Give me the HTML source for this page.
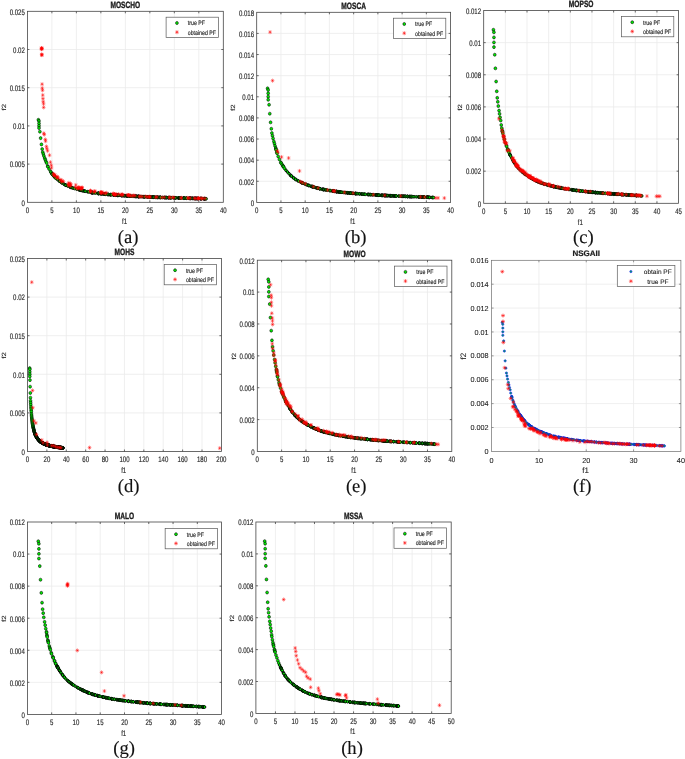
<!DOCTYPE html>
<html lang="en"><head><meta charset="utf-8"><title>Pareto fronts</title>
<style>html,body{margin:0;padding:0;background:#fff}svg{display:block;will-change:transform}text{text-rendering:geometricPrecision}.ss{font-family:"Liberation Sans",Arial,Helvetica,sans-serif}.sf{font-family:"Liberation Serif","Times New Roman",serif}</style></head><body>
<svg width="685" height="759" viewBox="0 0 685 759">
<defs><path id="s1" d="M-1.85 0H1.85M0 -2.05V2.05M-1.3 -1.45L1.3 1.45M-1.3 1.45L1.3 -1.45"/><path id="s2" d="M-2 0H2M0 -2V2M-1.4 -1.4L1.4 1.4M-1.4 1.4L1.4 -1.4"/></defs>
<rect width="685" height="759" fill="#fff"/>
<g>
<rect x="27.4" y="11.3" width="195.9" height="191" fill="#fff"/>
<path d="M51.89 11.3V202.3M76.38 11.3V202.3M100.86 11.3V202.3M125.35 11.3V202.3M149.84 11.3V202.3M174.33 11.3V202.3M198.81 11.3V202.3M27.4 164.1H223.3M27.4 125.9H223.3M27.4 87.7H223.3M27.4 49.5H223.3" stroke="#ebebeb" stroke-width="0.8" fill="none"/>
<g fill="#00ee00" stroke="#000" stroke-width="0.55">
<ellipse cx="38.39" cy="119.8" rx="1.4" ry="1.52"/>
<ellipse cx="38.96" cy="120.99" rx="1.4" ry="1.52"/>
<ellipse cx="39.01" cy="123.42" rx="1.4" ry="1.52"/>
<ellipse cx="39.01" cy="125.79" rx="1.4" ry="1.52"/>
<ellipse cx="39.01" cy="128.03" rx="1.4" ry="1.52"/>
<ellipse cx="39.89" cy="131.65" rx="1.4" ry="1.52"/>
<ellipse cx="40.62" cy="138.12" rx="1.4" ry="1.52"/>
<ellipse cx="41.43" cy="144.39" rx="1.4" ry="1.52"/>
<ellipse cx="42.16" cy="149.05" rx="1.4" ry="1.52"/>
<ellipse cx="42.74" cy="152.16" rx="1.4" ry="1.52"/>
<ellipse cx="43.34" cy="154.05" rx="1.4" ry="1.52"/>
<ellipse cx="43.92" cy="156.05" rx="1.4" ry="1.52"/>
<ellipse cx="44.75" cy="158.22" rx="1.4" ry="1.52"/>
<ellipse cx="45.33" cy="159.77" rx="1.4" ry="1.52"/>
<ellipse cx="45.93" cy="161.43" rx="1.4" ry="1.52"/>
<ellipse cx="46.64" cy="162.94" rx="1.4" ry="1.52"/>
<ellipse cx="47.67" cy="166.12" rx="1.4" ry="1.52"/>
<ellipse cx="47.97" cy="166.8" rx="1.4" ry="1.52"/>
<ellipse cx="49.07" cy="169.01" rx="1.4" ry="1.52"/>
<ellipse cx="50.67" cy="171.7" rx="1.4" ry="1.52"/>
<ellipse cx="50.93" cy="172.12" rx="1.4" ry="1.52"/>
<ellipse cx="51.96" cy="173.68" rx="1.4" ry="1.52"/>
<ellipse cx="52.24" cy="174.01" rx="1.4" ry="1.52"/>
<ellipse cx="52.37" cy="174.15" rx="1.4" ry="1.52"/>
<ellipse cx="52.67" cy="174.48" rx="1.4" ry="1.52"/>
<ellipse cx="53.64" cy="175.5" rx="1.4" ry="1.52"/>
<ellipse cx="53.76" cy="175.65" rx="1.4" ry="1.52"/>
<ellipse cx="54.51" cy="176.54" rx="1.4" ry="1.52"/>
<ellipse cx="54.82" cy="176.88" rx="1.4" ry="1.52"/>
<ellipse cx="54.95" cy="177.03" rx="1.4" ry="1.52"/>
<ellipse cx="55.34" cy="177.48" rx="1.4" ry="1.52"/>
<ellipse cx="55.68" cy="177.85" rx="1.4" ry="1.52"/>
<ellipse cx="56.11" cy="178.31" rx="1.4" ry="1.52"/>
</g><g fill="#00f000" stroke="#000" stroke-width="0.85">
<ellipse cx="57.6" cy="179.61" rx="1.25" ry="1.37"/>
<ellipse cx="59.37" cy="181.01" rx="1.25" ry="1.37"/>
<ellipse cx="59.56" cy="181.16" rx="1.25" ry="1.37"/>
<ellipse cx="61.41" cy="182.54" rx="1.25" ry="1.37"/>
<ellipse cx="62.07" cy="182.99" rx="1.25" ry="1.37"/>
<ellipse cx="64.03" cy="184.21" rx="1.25" ry="1.37"/>
<ellipse cx="65.22" cy="184.88" rx="1.25" ry="1.37"/>
<ellipse cx="65.74" cy="185.16" rx="1.25" ry="1.37"/>
<ellipse cx="65.94" cy="185.27" rx="1.25" ry="1.37"/>
<ellipse cx="67.8" cy="186.11" rx="1.25" ry="1.37"/>
<ellipse cx="69.93" cy="186.96" rx="1.25" ry="1.37"/>
<ellipse cx="70.62" cy="187.22" rx="1.25" ry="1.37"/>
<ellipse cx="70.74" cy="187.26" rx="1.25" ry="1.37"/>
<ellipse cx="71.95" cy="187.69" rx="1.25" ry="1.37"/>
<ellipse cx="72.97" cy="188.03" rx="1.25" ry="1.37"/>
<ellipse cx="74.45" cy="188.5" rx="1.25" ry="1.37"/>
<ellipse cx="76.66" cy="189.15" rx="1.25" ry="1.37"/>
<ellipse cx="78.87" cy="189.76" rx="1.25" ry="1.37"/>
<ellipse cx="79.81" cy="190" rx="1.25" ry="1.37"/>
<ellipse cx="80.16" cy="190.08" rx="1.25" ry="1.37"/>
<ellipse cx="80.69" cy="190.21" rx="1.25" ry="1.37"/>
<ellipse cx="81.18" cy="190.33" rx="1.25" ry="1.37"/>
<ellipse cx="82.18" cy="190.57" rx="1.25" ry="1.37"/>
<ellipse cx="82.87" cy="190.73" rx="1.25" ry="1.37"/>
<ellipse cx="84.09" cy="191" rx="1.25" ry="1.37"/>
<ellipse cx="84.6" cy="191.11" rx="1.25" ry="1.37"/>
<ellipse cx="85.22" cy="191.25" rx="1.25" ry="1.37"/>
<ellipse cx="87.48" cy="191.71" rx="1.25" ry="1.37"/>
<ellipse cx="88.58" cy="191.93" rx="1.25" ry="1.37"/>
<ellipse cx="90.45" cy="192.27" rx="1.25" ry="1.37"/>
<ellipse cx="91.29" cy="192.42" rx="1.25" ry="1.37"/>
<ellipse cx="91.41" cy="192.44" rx="1.25" ry="1.37"/>
<ellipse cx="91.79" cy="192.51" rx="1.25" ry="1.37"/>
<ellipse cx="92.03" cy="192.55" rx="1.25" ry="1.37"/>
<ellipse cx="92.24" cy="192.58" rx="1.25" ry="1.37"/>
<ellipse cx="92.36" cy="192.6" rx="1.25" ry="1.37"/>
<ellipse cx="92.48" cy="192.62" rx="1.25" ry="1.37"/>
<ellipse cx="92.94" cy="192.68" rx="1.25" ry="1.37"/>
<ellipse cx="94.01" cy="192.83" rx="1.25" ry="1.37"/>
<ellipse cx="95.42" cy="193.02" rx="1.25" ry="1.37"/>
<ellipse cx="97.71" cy="193.32" rx="1.25" ry="1.37"/>
<ellipse cx="98.32" cy="193.39" rx="1.25" ry="1.37"/>
<ellipse cx="98.44" cy="193.41" rx="1.25" ry="1.37"/>
<ellipse cx="98.59" cy="193.43" rx="1.25" ry="1.37"/>
<ellipse cx="98.71" cy="193.44" rx="1.25" ry="1.37"/>
<ellipse cx="100.12" cy="193.61" rx="1.25" ry="1.37"/>
<ellipse cx="100.39" cy="193.64" rx="1.25" ry="1.37"/>
<ellipse cx="101.29" cy="193.74" rx="1.25" ry="1.37"/>
<ellipse cx="101.71" cy="193.79" rx="1.25" ry="1.37"/>
<ellipse cx="102.33" cy="193.86" rx="1.25" ry="1.37"/>
<ellipse cx="103.66" cy="194.01" rx="1.25" ry="1.37"/>
<ellipse cx="104.41" cy="194.09" rx="1.25" ry="1.37"/>
<ellipse cx="104.53" cy="194.11" rx="1.25" ry="1.37"/>
<ellipse cx="105.24" cy="194.18" rx="1.25" ry="1.37"/>
<ellipse cx="105.55" cy="194.21" rx="1.25" ry="1.37"/>
<ellipse cx="107.83" cy="194.45" rx="1.25" ry="1.37"/>
<ellipse cx="108.05" cy="194.47" rx="1.25" ry="1.37"/>
<ellipse cx="108.25" cy="194.49" rx="1.25" ry="1.37"/>
<ellipse cx="110.04" cy="194.66" rx="1.25" ry="1.37"/>
<ellipse cx="110.41" cy="194.69" rx="1.25" ry="1.37"/>
<ellipse cx="110.53" cy="194.7" rx="1.25" ry="1.37"/>
<ellipse cx="111.64" cy="194.8" rx="1.25" ry="1.37"/>
<ellipse cx="113.4" cy="194.96" rx="1.25" ry="1.37"/>
<ellipse cx="113.88" cy="194.99" rx="1.25" ry="1.37"/>
<ellipse cx="114.01" cy="195" rx="1.25" ry="1.37"/>
<ellipse cx="115.41" cy="195.11" rx="1.25" ry="1.37"/>
<ellipse cx="115.7" cy="195.13" rx="1.25" ry="1.37"/>
<ellipse cx="115.9" cy="195.15" rx="1.25" ry="1.37"/>
<ellipse cx="116.02" cy="195.16" rx="1.25" ry="1.37"/>
<ellipse cx="117.51" cy="195.26" rx="1.25" ry="1.37"/>
<ellipse cx="117.7" cy="195.28" rx="1.25" ry="1.37"/>
<ellipse cx="117.82" cy="195.28" rx="1.25" ry="1.37"/>
<ellipse cx="118.14" cy="195.31" rx="1.25" ry="1.37"/>
<ellipse cx="118.98" cy="195.37" rx="1.25" ry="1.37"/>
<ellipse cx="121.27" cy="195.52" rx="1.25" ry="1.37"/>
<ellipse cx="121.44" cy="195.53" rx="1.25" ry="1.37"/>
<ellipse cx="122.11" cy="195.57" rx="1.25" ry="1.37"/>
<ellipse cx="122.33" cy="195.59" rx="1.25" ry="1.37"/>
<ellipse cx="123.72" cy="195.68" rx="1.25" ry="1.37"/>
<ellipse cx="124.19" cy="195.71" rx="1.25" ry="1.37"/>
<ellipse cx="124.99" cy="195.76" rx="1.25" ry="1.37"/>
<ellipse cx="126.27" cy="195.83" rx="1.25" ry="1.37"/>
<ellipse cx="126.8" cy="195.87" rx="1.25" ry="1.37"/>
<ellipse cx="127.25" cy="195.89" rx="1.25" ry="1.37"/>
<ellipse cx="127.37" cy="195.9" rx="1.25" ry="1.37"/>
<ellipse cx="127.49" cy="195.91" rx="1.25" ry="1.37"/>
<ellipse cx="128.32" cy="195.96" rx="1.25" ry="1.37"/>
<ellipse cx="129.32" cy="196.01" rx="1.25" ry="1.37"/>
<ellipse cx="129.92" cy="196.05" rx="1.25" ry="1.37"/>
<ellipse cx="130.04" cy="196.05" rx="1.25" ry="1.37"/>
<ellipse cx="131.01" cy="196.11" rx="1.25" ry="1.37"/>
<ellipse cx="132.33" cy="196.18" rx="1.25" ry="1.37"/>
<ellipse cx="133.69" cy="196.25" rx="1.25" ry="1.37"/>
<ellipse cx="134.66" cy="196.31" rx="1.25" ry="1.37"/>
<ellipse cx="135.42" cy="196.34" rx="1.25" ry="1.37"/>
<ellipse cx="135.72" cy="196.36" rx="1.25" ry="1.37"/>
<ellipse cx="136.03" cy="196.38" rx="1.25" ry="1.37"/>
<ellipse cx="136.18" cy="196.38" rx="1.25" ry="1.37"/>
<ellipse cx="136.9" cy="196.42" rx="1.25" ry="1.37"/>
<ellipse cx="137.19" cy="196.43" rx="1.25" ry="1.37"/>
<ellipse cx="138.35" cy="196.49" rx="1.25" ry="1.37"/>
<ellipse cx="138.54" cy="196.5" rx="1.25" ry="1.37"/>
<ellipse cx="138.75" cy="196.51" rx="1.25" ry="1.37"/>
<ellipse cx="138.87" cy="196.52" rx="1.25" ry="1.37"/>
<ellipse cx="139.1" cy="196.53" rx="1.25" ry="1.37"/>
<ellipse cx="140.16" cy="196.58" rx="1.25" ry="1.37"/>
<ellipse cx="141.38" cy="196.64" rx="1.25" ry="1.37"/>
<ellipse cx="143.12" cy="196.72" rx="1.25" ry="1.37"/>
<ellipse cx="143.24" cy="196.73" rx="1.25" ry="1.37"/>
<ellipse cx="144.05" cy="196.77" rx="1.25" ry="1.37"/>
<ellipse cx="144.63" cy="196.79" rx="1.25" ry="1.37"/>
<ellipse cx="144.93" cy="196.81" rx="1.25" ry="1.37"/>
<ellipse cx="146.9" cy="196.9" rx="1.25" ry="1.37"/>
<ellipse cx="147.7" cy="196.94" rx="1.25" ry="1.37"/>
<ellipse cx="147.96" cy="196.95" rx="1.25" ry="1.37"/>
<ellipse cx="149.21" cy="197" rx="1.25" ry="1.37"/>
<ellipse cx="149.62" cy="197.02" rx="1.25" ry="1.37"/>
<ellipse cx="150.06" cy="197.04" rx="1.25" ry="1.37"/>
<ellipse cx="150.52" cy="197.06" rx="1.25" ry="1.37"/>
<ellipse cx="150.97" cy="197.08" rx="1.25" ry="1.37"/>
<ellipse cx="151.09" cy="197.08" rx="1.25" ry="1.37"/>
<ellipse cx="152.29" cy="197.13" rx="1.25" ry="1.37"/>
<ellipse cx="152.54" cy="197.14" rx="1.25" ry="1.37"/>
<ellipse cx="152.96" cy="197.15" rx="1.25" ry="1.37"/>
<ellipse cx="153.09" cy="197.16" rx="1.25" ry="1.37"/>
<ellipse cx="153.68" cy="197.18" rx="1.25" ry="1.37"/>
<ellipse cx="153.8" cy="197.18" rx="1.25" ry="1.37"/>
<ellipse cx="153.92" cy="197.19" rx="1.25" ry="1.37"/>
<ellipse cx="154.09" cy="197.19" rx="1.25" ry="1.37"/>
<ellipse cx="155.56" cy="197.25" rx="1.25" ry="1.37"/>
<ellipse cx="156.37" cy="197.28" rx="1.25" ry="1.37"/>
<ellipse cx="157.26" cy="197.31" rx="1.25" ry="1.37"/>
<ellipse cx="157.38" cy="197.31" rx="1.25" ry="1.37"/>
<ellipse cx="157.8" cy="197.32" rx="1.25" ry="1.37"/>
<ellipse cx="158.74" cy="197.36" rx="1.25" ry="1.37"/>
<ellipse cx="159.69" cy="197.39" rx="1.25" ry="1.37"/>
<ellipse cx="160.11" cy="197.4" rx="1.25" ry="1.37"/>
<ellipse cx="160.23" cy="197.41" rx="1.25" ry="1.37"/>
<ellipse cx="160.56" cy="197.42" rx="1.25" ry="1.37"/>
<ellipse cx="162.64" cy="197.48" rx="1.25" ry="1.37"/>
<ellipse cx="164.18" cy="197.53" rx="1.25" ry="1.37"/>
<ellipse cx="164.85" cy="197.55" rx="1.25" ry="1.37"/>
<ellipse cx="165.15" cy="197.56" rx="1.25" ry="1.37"/>
<ellipse cx="165.8" cy="197.58" rx="1.25" ry="1.37"/>
<ellipse cx="166.4" cy="197.6" rx="1.25" ry="1.37"/>
<ellipse cx="166.83" cy="197.62" rx="1.25" ry="1.37"/>
<ellipse cx="168.17" cy="197.66" rx="1.25" ry="1.37"/>
<ellipse cx="168.75" cy="197.67" rx="1.25" ry="1.37"/>
<ellipse cx="168.87" cy="197.68" rx="1.25" ry="1.37"/>
<ellipse cx="169.79" cy="197.7" rx="1.25" ry="1.37"/>
<ellipse cx="170.63" cy="197.73" rx="1.25" ry="1.37"/>
<ellipse cx="170.75" cy="197.73" rx="1.25" ry="1.37"/>
<ellipse cx="171.27" cy="197.75" rx="1.25" ry="1.37"/>
<ellipse cx="173.57" cy="197.81" rx="1.25" ry="1.37"/>
<ellipse cx="174.3" cy="197.83" rx="1.25" ry="1.37"/>
<ellipse cx="175.09" cy="197.86" rx="1.25" ry="1.37"/>
<ellipse cx="175.54" cy="197.87" rx="1.25" ry="1.37"/>
<ellipse cx="175.93" cy="197.88" rx="1.25" ry="1.37"/>
<ellipse cx="178.23" cy="197.96" rx="1.25" ry="1.37"/>
<ellipse cx="178.46" cy="197.97" rx="1.25" ry="1.37"/>
<ellipse cx="178.9" cy="197.98" rx="1.25" ry="1.37"/>
<ellipse cx="179.02" cy="197.99" rx="1.25" ry="1.37"/>
<ellipse cx="179.52" cy="198" rx="1.25" ry="1.37"/>
<ellipse cx="180.28" cy="198.03" rx="1.25" ry="1.37"/>
<ellipse cx="181.1" cy="198.05" rx="1.25" ry="1.37"/>
<ellipse cx="183.4" cy="198.12" rx="1.25" ry="1.37"/>
<ellipse cx="183.62" cy="198.13" rx="1.25" ry="1.37"/>
<ellipse cx="183.78" cy="198.13" rx="1.25" ry="1.37"/>
<ellipse cx="184.09" cy="198.14" rx="1.25" ry="1.37"/>
<ellipse cx="184.37" cy="198.15" rx="1.25" ry="1.37"/>
<ellipse cx="186.08" cy="198.2" rx="1.25" ry="1.37"/>
<ellipse cx="186.25" cy="198.21" rx="1.25" ry="1.37"/>
<ellipse cx="186.69" cy="198.22" rx="1.25" ry="1.37"/>
<ellipse cx="188.99" cy="198.28" rx="1.25" ry="1.37"/>
<ellipse cx="189.36" cy="198.29" rx="1.25" ry="1.37"/>
<ellipse cx="189.79" cy="198.31" rx="1.25" ry="1.37"/>
<ellipse cx="190.17" cy="198.32" rx="1.25" ry="1.37"/>
<ellipse cx="190.44" cy="198.32" rx="1.25" ry="1.37"/>
<ellipse cx="190.71" cy="198.33" rx="1.25" ry="1.37"/>
<ellipse cx="191.98" cy="198.37" rx="1.25" ry="1.37"/>
<ellipse cx="192.1" cy="198.37" rx="1.25" ry="1.37"/>
<ellipse cx="192.22" cy="198.37" rx="1.25" ry="1.37"/>
<ellipse cx="193.37" cy="198.4" rx="1.25" ry="1.37"/>
<ellipse cx="194.27" cy="198.43" rx="1.25" ry="1.37"/>
<ellipse cx="194.66" cy="198.44" rx="1.25" ry="1.37"/>
<ellipse cx="195.12" cy="198.45" rx="1.25" ry="1.37"/>
<ellipse cx="195.57" cy="198.46" rx="1.25" ry="1.37"/>
<ellipse cx="195.78" cy="198.46" rx="1.25" ry="1.37"/>
<ellipse cx="196.17" cy="198.48" rx="1.25" ry="1.37"/>
<ellipse cx="196.48" cy="198.48" rx="1.25" ry="1.37"/>
<ellipse cx="197.11" cy="198.5" rx="1.25" ry="1.37"/>
<ellipse cx="197.4" cy="198.51" rx="1.25" ry="1.37"/>
<ellipse cx="198.02" cy="198.52" rx="1.25" ry="1.37"/>
<ellipse cx="198.14" cy="198.52" rx="1.25" ry="1.37"/>
<ellipse cx="200.44" cy="198.6" rx="1.25" ry="1.37"/>
<ellipse cx="200.56" cy="198.6" rx="1.25" ry="1.37"/>
<ellipse cx="201" cy="198.62" rx="1.25" ry="1.37"/>
<ellipse cx="201.33" cy="198.63" rx="1.25" ry="1.37"/>
<ellipse cx="201.45" cy="198.63" rx="1.25" ry="1.37"/>
<ellipse cx="203.75" cy="198.71" rx="1.25" ry="1.37"/>
<ellipse cx="204.17" cy="198.73" rx="1.25" ry="1.37"/>
<ellipse cx="204.31" cy="198.73" rx="1.25" ry="1.37"/>
<ellipse cx="204.59" cy="198.74" rx="1.25" ry="1.37"/>
<ellipse cx="204.74" cy="198.75" rx="1.25" ry="1.37"/>
<ellipse cx="205.29" cy="198.76" rx="1.25" ry="1.37"/>
<ellipse cx="206.16" cy="198.79" rx="1.25" ry="1.37"/>
</g>
<g stroke="#ff0000" stroke-width="0.45" fill="none">
<use href="#s1" x="41.5" y="48.12"/>
<use href="#s1" x="41.75" y="48.58"/>
<use href="#s1" x="41.6" y="49.19"/>
<use href="#s1" x="41.85" y="48.28"/>
<use href="#s1" x="41.65" y="48.74"/>
<use href="#s1" x="41.7" y="54.39"/>
<use href="#s1" x="41.9" y="54.85"/>
<use href="#s1" x="41.8" y="55.08"/>
<use href="#s1" x="42.09" y="84.19"/>
<use href="#s1" x="42.24" y="88.16"/>
<use href="#s1" x="42.53" y="90.3"/>
<use href="#s1" x="42.78" y="95.11"/>
<use href="#s1" x="42.97" y="98.63"/>
<use href="#s1" x="43.22" y="101.68"/>
<use href="#s1" x="43.56" y="103.9"/>
<use href="#s1" x="43.66" y="107.41"/>
<use href="#s1" x="43.83" y="133.31"/>
<use href="#s1" x="44.27" y="134.61"/>
<use href="#s1" x="45.32" y="139.45"/>
<use href="#s1" x="45.57" y="141.18"/>
<use href="#s1" x="46.45" y="146.45"/>
<use href="#s1" x="46.89" y="148.67"/>
<use href="#s1" x="47.58" y="150.84"/>
<use href="#s1" x="49.54" y="155.2"/>
<use href="#s1" x="50.42" y="162.19"/>
<use href="#s1" x="51.3" y="165.3"/>
<use href="#s1" x="51.54" y="167.92"/>
<use href="#s1" x="53.45" y="174.5"/>
<use href="#s1" x="54.34" y="175.8"/>
<use href="#s1" x="57.86" y="177.55"/>
<use href="#s1" x="60.02" y="179.74"/>
<use href="#s1" x="62.17" y="181.06"/>
<use href="#s1" x="68.78" y="182.8"/>
<use href="#s1" x="70.5" y="183.7"/>
<use href="#s1" x="75.79" y="185"/>
<use href="#s1" x="54.64" y="175.02"/>
<use href="#s1" x="56.49" y="177.3"/>
<use href="#s1" x="54.86" y="175.23"/>
<use href="#s1" x="53.59" y="173.81"/>
<use href="#s1" x="61.1" y="179.94"/>
<use href="#s1" x="57.43" y="177.86"/>
<use href="#s1" x="57.41" y="176.68"/>
<use href="#s1" x="61.54" y="181.76"/>
<use href="#s1" x="63.52" y="181.4"/>
<use href="#s1" x="70.93" y="184.96"/>
<use href="#s1" x="68.74" y="185.51"/>
<use href="#s1" x="70.38" y="186.07"/>
<use href="#s1" x="68.89" y="185"/>
<use href="#s1" x="68.18" y="184.12"/>
<use href="#s1" x="69.99" y="184"/>
<use href="#s1" x="78.95" y="187.42"/>
<use href="#s1" x="78.82" y="187.32"/>
<use href="#s1" x="78.53" y="188.2"/>
<use href="#s1" x="82.24" y="187.55"/>
<use href="#s1" x="81.16" y="187.92"/>
<use href="#s1" x="77.56" y="188.03"/>
<use href="#s1" x="77.38" y="188.39"/>
<use href="#s1" x="80.65" y="188.51"/>
<use href="#s1" x="81.2" y="188.7"/>
<use href="#s1" x="81.96" y="187.82"/>
<use href="#s1" x="75.4" y="187.4"/>
<use href="#s1" x="81.64" y="188.62"/>
<use href="#s1" x="94.89" y="191.74"/>
<use href="#s1" x="90.45" y="190.51"/>
<use href="#s1" x="93.9" y="191.83"/>
<use href="#s1" x="90.51" y="191.12"/>
<use href="#s1" x="94.81" y="191.05"/>
<use href="#s1" x="90.67" y="191.32"/>
<use href="#s1" x="90.58" y="191.68"/>
<use href="#s1" x="105.35" y="193.54"/>
<use href="#s1" x="103.72" y="192.97"/>
<use href="#s1" x="101.19" y="192.24"/>
<use href="#s1" x="100.78" y="192.31"/>
<use href="#s1" x="100.68" y="192.63"/>
<use href="#s1" x="101.34" y="192.93"/>
<use href="#s1" x="106.54" y="192.83"/>
<use href="#s1" x="101.97" y="192.12"/>
<use href="#s1" x="101.33" y="192.75"/>
<use href="#s1" x="121.75" y="194.59"/>
<use href="#s1" x="113.26" y="193.49"/>
<use href="#s1" x="114.53" y="194.45"/>
<use href="#s1" x="120.83" y="194.86"/>
<use href="#s1" x="115.46" y="194.74"/>
<use href="#s1" x="113.14" y="193.96"/>
<use href="#s1" x="114.86" y="194.08"/>
<use href="#s1" x="116.31" y="194.38"/>
<use href="#s1" x="122.93" y="194.84"/>
<use href="#s1" x="118.6" y="194.1"/>
<use href="#s1" x="114.19" y="194.55"/>
<use href="#s1" x="122.36" y="194.44"/>
<use href="#s1" x="114.94" y="194.57"/>
<use href="#s1" x="133.7" y="195.4"/>
<use href="#s1" x="128.65" y="195.07"/>
<use href="#s1" x="135.03" y="195.74"/>
<use href="#s1" x="130.74" y="195.89"/>
<use href="#s1" x="127.18" y="194.96"/>
<use href="#s1" x="129.04" y="195.29"/>
<use href="#s1" x="129.21" y="195.21"/>
<use href="#s1" x="132.37" y="195.83"/>
<use href="#s1" x="128.45" y="195.24"/>
<use href="#s1" x="140.31" y="196.54"/>
<use href="#s1" x="149.2" y="196.57"/>
<use href="#s1" x="150.19" y="196.97"/>
<use href="#s1" x="155.69" y="197.23"/>
<use href="#s1" x="139.36" y="196.47"/>
<use href="#s1" x="147.14" y="196.98"/>
<use href="#s1" x="142.26" y="196.54"/>
<use href="#s1" x="149.43" y="197.03"/>
<use href="#s1" x="145.63" y="196.37"/>
<use href="#s1" x="156.83" y="197"/>
<use href="#s1" x="164.15" y="197.35"/>
<use href="#s1" x="161.72" y="197.54"/>
<use href="#s1" x="169.54" y="197.37"/>
<use href="#s1" x="173.89" y="197.48"/>
<use href="#s1" x="169.56" y="197.5"/>
<use href="#s1" x="172.5" y="197.54"/>
<use href="#s1" x="187.5" y="197.92"/>
<use href="#s1" x="181.18" y="197.93"/>
<use href="#s1" x="198.35" y="198.27"/>
<use href="#s1" x="198.35" y="198.35"/>
<use href="#s1" x="199.81" y="198.31"/>
<use href="#s1" x="188.35" y="198.08"/>
<use href="#s1" x="202.61" y="198.44"/>
<use href="#s1" x="190.05" y="198.09"/>
<use href="#s1" x="201.64" y="198.52"/>
<use href="#s1" x="195.44" y="198.41"/>
<use href="#s1" x="194.35" y="198.28"/>
<use href="#s1" x="181.3" y="197.89"/>
<use href="#s1" x="205.01" y="198.52"/>
<use href="#s1" x="198.12" y="198.48"/>
<use href="#s1" x="198.3" y="198.4"/>
</g>
<path d="M51.89 202.3v-2M51.89 11.3v2M76.38 202.3v-2M76.38 11.3v2M100.86 202.3v-2M100.86 11.3v2M125.35 202.3v-2M125.35 11.3v2M149.84 202.3v-2M149.84 11.3v2M174.33 202.3v-2M174.33 11.3v2M198.81 202.3v-2M198.81 11.3v2M27.4 164.1h2M223.3 164.1h-2M27.4 125.9h2M223.3 125.9h-2M27.4 87.7h2M223.3 87.7h-2M27.4 49.5h2M223.3 49.5h-2" stroke="#454545" stroke-width="0.8" fill="none"/>
<rect x="27.4" y="11.3" width="195.9" height="191" fill="none" stroke="#454545" stroke-width="0.8"/>
<text class="ss" transform="translate(27.4,213.15) scale(0.756,1.0)" font-size="8.0" text-anchor="middle" fill="#1c1c1c" stroke="#1c1c1c" stroke-width="0.14">0</text>
<text class="ss" transform="translate(51.89,213.15) scale(0.756,1.0)" font-size="8.0" text-anchor="middle" fill="#1c1c1c" stroke="#1c1c1c" stroke-width="0.14">5</text>
<text class="ss" transform="translate(76.38,213.15) scale(0.756,1.0)" font-size="8.0" text-anchor="middle" fill="#1c1c1c" stroke="#1c1c1c" stroke-width="0.14">10</text>
<text class="ss" transform="translate(100.86,213.15) scale(0.756,1.0)" font-size="8.0" text-anchor="middle" fill="#1c1c1c" stroke="#1c1c1c" stroke-width="0.14">15</text>
<text class="ss" transform="translate(125.35,213.15) scale(0.756,1.0)" font-size="8.0" text-anchor="middle" fill="#1c1c1c" stroke="#1c1c1c" stroke-width="0.14">20</text>
<text class="ss" transform="translate(149.84,213.15) scale(0.756,1.0)" font-size="8.0" text-anchor="middle" fill="#1c1c1c" stroke="#1c1c1c" stroke-width="0.14">25</text>
<text class="ss" transform="translate(174.33,213.15) scale(0.756,1.0)" font-size="8.0" text-anchor="middle" fill="#1c1c1c" stroke="#1c1c1c" stroke-width="0.14">30</text>
<text class="ss" transform="translate(198.81,213.15) scale(0.756,1.0)" font-size="8.0" text-anchor="middle" fill="#1c1c1c" stroke="#1c1c1c" stroke-width="0.14">35</text>
<text class="ss" transform="translate(223.3,213.15) scale(0.756,1.0)" font-size="8.0" text-anchor="middle" fill="#1c1c1c" stroke="#1c1c1c" stroke-width="0.14">40</text>
<text class="ss" transform="translate(24.8,205.6) scale(0.756,1.0)" font-size="8.0" text-anchor="end" fill="#1c1c1c" stroke="#1c1c1c" stroke-width="0.14">0</text>
<text class="ss" transform="translate(24.8,167.4) scale(0.756,1.0)" font-size="8.0" text-anchor="end" fill="#1c1c1c" stroke="#1c1c1c" stroke-width="0.14">0.005</text>
<text class="ss" transform="translate(24.8,129.2) scale(0.756,1.0)" font-size="8.0" text-anchor="end" fill="#1c1c1c" stroke="#1c1c1c" stroke-width="0.14">0.01</text>
<text class="ss" transform="translate(24.8,91) scale(0.756,1.0)" font-size="8.0" text-anchor="end" fill="#1c1c1c" stroke="#1c1c1c" stroke-width="0.14">0.015</text>
<text class="ss" transform="translate(24.8,52.8) scale(0.756,1.0)" font-size="8.0" text-anchor="end" fill="#1c1c1c" stroke="#1c1c1c" stroke-width="0.14">0.02</text>
<text class="ss" transform="translate(24.8,14.6) scale(0.756,1.0)" font-size="8.0" text-anchor="end" fill="#1c1c1c" stroke="#1c1c1c" stroke-width="0.14">0.025</text>
<text class="ss" transform="translate(124.55,223.9) scale(0.756,1.0)" font-size="8.0" text-anchor="middle" fill="#1c1c1c" stroke="#1c1c1c" stroke-width="0.14">f1</text>
<text class="ss" transform="translate(5.7,107.2) rotate(-90) scale(1.0,0.756)" font-size="8.0" text-anchor="middle" fill="#1c1c1c" stroke="#1c1c1c" stroke-width="0.14">f2</text>
<text class="ss" transform="translate(125.35,8.2) scale(0.72,1.0)" font-size="9.2" text-anchor="middle" font-weight="700" fill="#1c1c1c" stroke="#1c1c1c" stroke-width="0.36">MOSCHO</text>
<rect x="166.1" y="17.2" width="52.4" height="20.4" fill="#fff" stroke="#585858" stroke-width="0.7"/>
<ellipse cx="176.95" cy="23" rx="1.4" ry="1.52" fill="#00ee00" stroke="#000" stroke-width="0.55"/>
<use href="#s1" x="176.95" y="32.2" stroke="#ff0000" stroke-width="0.5"/>
<text class="ss" transform="translate(187.8,25.4) scale(0.816,1.0)" font-size="6.4" text-anchor="start" fill="#1c1c1c" stroke="#1c1c1c" stroke-width="0.14">true PF</text>
<text class="ss" transform="translate(187.8,34.7) scale(0.816,1.0)" font-size="6.4" text-anchor="start" fill="#1c1c1c" stroke="#1c1c1c" stroke-width="0.14">obtained PF</text>
<text class="sf" transform="translate(128.1,243.1)" font-size="18.6" text-anchor="middle" fill="#111" stroke="#111" stroke-width="0.14">(a)</text>
</g>
<g>
<rect x="256.7" y="12.3" width="193.9" height="190.1" fill="#fff"/>
<path d="M280.94 12.3V202.4M305.18 12.3V202.4M329.41 12.3V202.4M353.65 12.3V202.4M377.89 12.3V202.4M402.12 12.3V202.4M426.36 12.3V202.4M256.7 181.28H450.6M256.7 160.16H450.6M256.7 139.03H450.6M256.7 117.91H450.6M256.7 96.79H450.6M256.7 75.67H450.6M256.7 54.54H450.6M256.7 33.42H450.6" stroke="#ebebeb" stroke-width="0.8" fill="none"/>
<g fill="#00ee00" stroke="#000" stroke-width="0.55">
<ellipse cx="267.58" cy="88.36" rx="1.4" ry="1.52"/>
<ellipse cx="268.14" cy="90" rx="1.4" ry="1.52"/>
<ellipse cx="268.19" cy="93.36" rx="1.4" ry="1.52"/>
<ellipse cx="268.19" cy="96.64" rx="1.4" ry="1.52"/>
<ellipse cx="268.19" cy="99.74" rx="1.4" ry="1.52"/>
<ellipse cx="269.06" cy="104.73" rx="1.4" ry="1.52"/>
<ellipse cx="269.79" cy="113.69" rx="1.4" ry="1.52"/>
<ellipse cx="270.59" cy="122.35" rx="1.4" ry="1.52"/>
<ellipse cx="271.31" cy="128.79" rx="1.4" ry="1.52"/>
<ellipse cx="271.89" cy="133.09" rx="1.4" ry="1.52"/>
<ellipse cx="272.47" cy="135.7" rx="1.4" ry="1.52"/>
<ellipse cx="273.06" cy="138.46" rx="1.4" ry="1.52"/>
<ellipse cx="273.87" cy="141.46" rx="1.4" ry="1.52"/>
<ellipse cx="274.45" cy="143.61" rx="1.4" ry="1.52"/>
<ellipse cx="275.04" cy="145.91" rx="1.4" ry="1.52"/>
<ellipse cx="275.74" cy="147.99" rx="1.4" ry="1.52"/>
<ellipse cx="275.97" cy="149.16" rx="1.4" ry="1.52"/>
<ellipse cx="276.09" cy="149.76" rx="1.4" ry="1.52"/>
<ellipse cx="276.66" cy="152.06" rx="1.4" ry="1.52"/>
<ellipse cx="277.07" cy="153.36" rx="1.4" ry="1.52"/>
<ellipse cx="278.19" cy="156.5" rx="1.4" ry="1.52"/>
<ellipse cx="279.43" cy="159.44" rx="1.4" ry="1.52"/>
<ellipse cx="280.78" cy="162.39" rx="1.4" ry="1.52"/>
<ellipse cx="281.21" cy="163.16" rx="1.4" ry="1.52"/>
<ellipse cx="282.24" cy="164.72" rx="1.4" ry="1.52"/>
<ellipse cx="283" cy="165.91" rx="1.4" ry="1.52"/>
<ellipse cx="283.39" cy="166.55" rx="1.4" ry="1.52"/>
<ellipse cx="283.56" cy="166.83" rx="1.4" ry="1.52"/>
<ellipse cx="284.57" cy="168.42" rx="1.4" ry="1.52"/>
</g><g fill="#00f000" stroke="#000" stroke-width="0.85">
<ellipse cx="285.96" cy="170.29" rx="1.25" ry="1.37"/>
<ellipse cx="287.49" cy="172.02" rx="1.25" ry="1.37"/>
<ellipse cx="289.04" cy="173.73" rx="1.25" ry="1.37"/>
<ellipse cx="290.66" cy="175.37" rx="1.25" ry="1.37"/>
<ellipse cx="290.78" cy="175.49" rx="1.25" ry="1.37"/>
<ellipse cx="291.39" cy="176.05" rx="1.25" ry="1.37"/>
<ellipse cx="293.15" cy="177.55" rx="1.25" ry="1.37"/>
<ellipse cx="293.62" cy="177.93" rx="1.25" ry="1.37"/>
<ellipse cx="295.5" cy="179.29" rx="1.25" ry="1.37"/>
<ellipse cx="295.67" cy="179.4" rx="1.25" ry="1.37"/>
<ellipse cx="297.66" cy="180.57" rx="1.25" ry="1.37"/>
<ellipse cx="298.54" cy="181.06" rx="1.25" ry="1.37"/>
<ellipse cx="300.59" cy="182.11" rx="1.25" ry="1.37"/>
<ellipse cx="301.74" cy="182.64" rx="1.25" ry="1.37"/>
<ellipse cx="302.03" cy="182.78" rx="1.25" ry="1.37"/>
<ellipse cx="302.23" cy="182.87" rx="1.25" ry="1.37"/>
<ellipse cx="303.15" cy="183.27" rx="1.25" ry="1.37"/>
<ellipse cx="305.02" cy="184.04" rx="1.25" ry="1.37"/>
<ellipse cx="306.3" cy="184.55" rx="1.25" ry="1.37"/>
<ellipse cx="306.45" cy="184.61" rx="1.25" ry="1.37"/>
<ellipse cx="308.24" cy="185.27" rx="1.25" ry="1.37"/>
<ellipse cx="308.59" cy="185.4" rx="1.25" ry="1.37"/>
<ellipse cx="309.14" cy="185.59" rx="1.25" ry="1.37"/>
<ellipse cx="311.01" cy="186.21" rx="1.25" ry="1.37"/>
<ellipse cx="312.05" cy="186.54" rx="1.25" ry="1.37"/>
<ellipse cx="312.2" cy="186.59" rx="1.25" ry="1.37"/>
<ellipse cx="312.43" cy="186.66" rx="1.25" ry="1.37"/>
<ellipse cx="313.01" cy="186.84" rx="1.25" ry="1.37"/>
<ellipse cx="313.3" cy="186.93" rx="1.25" ry="1.37"/>
<ellipse cx="314.14" cy="187.18" rx="1.25" ry="1.37"/>
<ellipse cx="315.8" cy="187.66" rx="1.25" ry="1.37"/>
<ellipse cx="316.86" cy="187.95" rx="1.25" ry="1.37"/>
<ellipse cx="317.31" cy="188.08" rx="1.25" ry="1.37"/>
<ellipse cx="317.55" cy="188.14" rx="1.25" ry="1.37"/>
<ellipse cx="317.67" cy="188.17" rx="1.25" ry="1.37"/>
<ellipse cx="317.79" cy="188.2" rx="1.25" ry="1.37"/>
<ellipse cx="319.55" cy="188.65" rx="1.25" ry="1.37"/>
<ellipse cx="319.93" cy="188.74" rx="1.25" ry="1.37"/>
<ellipse cx="320.05" cy="188.77" rx="1.25" ry="1.37"/>
<ellipse cx="322.3" cy="189.25" rx="1.25" ry="1.37"/>
<ellipse cx="322.45" cy="189.28" rx="1.25" ry="1.37"/>
<ellipse cx="323.48" cy="189.47" rx="1.25" ry="1.37"/>
<ellipse cx="323.6" cy="189.5" rx="1.25" ry="1.37"/>
<ellipse cx="323.72" cy="189.52" rx="1.25" ry="1.37"/>
<ellipse cx="324.27" cy="189.62" rx="1.25" ry="1.37"/>
<ellipse cx="325.71" cy="189.88" rx="1.25" ry="1.37"/>
<ellipse cx="326.14" cy="189.96" rx="1.25" ry="1.37"/>
<ellipse cx="327.52" cy="190.19" rx="1.25" ry="1.37"/>
<ellipse cx="329.79" cy="190.56" rx="1.25" ry="1.37"/>
<ellipse cx="330.3" cy="190.65" rx="1.25" ry="1.37"/>
<ellipse cx="332.22" cy="190.95" rx="1.25" ry="1.37"/>
<ellipse cx="332.68" cy="191.02" rx="1.25" ry="1.37"/>
<ellipse cx="332.94" cy="191.06" rx="1.25" ry="1.37"/>
<ellipse cx="333.56" cy="191.15" rx="1.25" ry="1.37"/>
<ellipse cx="333.94" cy="191.21" rx="1.25" ry="1.37"/>
<ellipse cx="334.18" cy="191.24" rx="1.25" ry="1.37"/>
<ellipse cx="334.59" cy="191.3" rx="1.25" ry="1.37"/>
<ellipse cx="336.08" cy="191.51" rx="1.25" ry="1.37"/>
<ellipse cx="336.2" cy="191.53" rx="1.25" ry="1.37"/>
<ellipse cx="336.64" cy="191.59" rx="1.25" ry="1.37"/>
<ellipse cx="336.76" cy="191.6" rx="1.25" ry="1.37"/>
<ellipse cx="337.51" cy="191.71" rx="1.25" ry="1.37"/>
<ellipse cx="338.25" cy="191.8" rx="1.25" ry="1.37"/>
<ellipse cx="338.84" cy="191.88" rx="1.25" ry="1.37"/>
<ellipse cx="339.38" cy="191.95" rx="1.25" ry="1.37"/>
<ellipse cx="339.5" cy="191.96" rx="1.25" ry="1.37"/>
<ellipse cx="340.1" cy="192.04" rx="1.25" ry="1.37"/>
<ellipse cx="340.41" cy="192.08" rx="1.25" ry="1.37"/>
<ellipse cx="341.21" cy="192.18" rx="1.25" ry="1.37"/>
<ellipse cx="342.07" cy="192.28" rx="1.25" ry="1.37"/>
<ellipse cx="343.86" cy="192.47" rx="1.25" ry="1.37"/>
<ellipse cx="345.42" cy="192.63" rx="1.25" ry="1.37"/>
<ellipse cx="346.08" cy="192.69" rx="1.25" ry="1.37"/>
<ellipse cx="347.47" cy="192.83" rx="1.25" ry="1.37"/>
<ellipse cx="347.62" cy="192.84" rx="1.25" ry="1.37"/>
<ellipse cx="347.74" cy="192.85" rx="1.25" ry="1.37"/>
<ellipse cx="348.5" cy="192.92" rx="1.25" ry="1.37"/>
<ellipse cx="349.83" cy="193.05" rx="1.25" ry="1.37"/>
<ellipse cx="350.09" cy="193.07" rx="1.25" ry="1.37"/>
<ellipse cx="350.36" cy="193.1" rx="1.25" ry="1.37"/>
<ellipse cx="350.99" cy="193.15" rx="1.25" ry="1.37"/>
<ellipse cx="351.11" cy="193.16" rx="1.25" ry="1.37"/>
<ellipse cx="352.63" cy="193.3" rx="1.25" ry="1.37"/>
<ellipse cx="353.02" cy="193.33" rx="1.25" ry="1.37"/>
<ellipse cx="355.12" cy="193.51" rx="1.25" ry="1.37"/>
<ellipse cx="355.38" cy="193.53" rx="1.25" ry="1.37"/>
<ellipse cx="355.69" cy="193.56" rx="1.25" ry="1.37"/>
<ellipse cx="355.93" cy="193.58" rx="1.25" ry="1.37"/>
<ellipse cx="356.6" cy="193.63" rx="1.25" ry="1.37"/>
<ellipse cx="357.41" cy="193.7" rx="1.25" ry="1.37"/>
<ellipse cx="359.11" cy="193.83" rx="1.25" ry="1.37"/>
<ellipse cx="359.89" cy="193.89" rx="1.25" ry="1.37"/>
<ellipse cx="361.64" cy="194.02" rx="1.25" ry="1.37"/>
<ellipse cx="361.76" cy="194.03" rx="1.25" ry="1.37"/>
<ellipse cx="362.67" cy="194.1" rx="1.25" ry="1.37"/>
<ellipse cx="363.98" cy="194.19" rx="1.25" ry="1.37"/>
<ellipse cx="364.29" cy="194.22" rx="1.25" ry="1.37"/>
<ellipse cx="365.28" cy="194.28" rx="1.25" ry="1.37"/>
<ellipse cx="367.58" cy="194.44" rx="1.25" ry="1.37"/>
<ellipse cx="368.36" cy="194.49" rx="1.25" ry="1.37"/>
<ellipse cx="368.83" cy="194.52" rx="1.25" ry="1.37"/>
<ellipse cx="369.11" cy="194.54" rx="1.25" ry="1.37"/>
<ellipse cx="370.48" cy="194.64" rx="1.25" ry="1.37"/>
<ellipse cx="370.84" cy="194.66" rx="1.25" ry="1.37"/>
<ellipse cx="372.15" cy="194.75" rx="1.25" ry="1.37"/>
<ellipse cx="373.02" cy="194.81" rx="1.25" ry="1.37"/>
<ellipse cx="375.02" cy="194.94" rx="1.25" ry="1.37"/>
<ellipse cx="376.18" cy="195.01" rx="1.25" ry="1.37"/>
<ellipse cx="376.42" cy="195.02" rx="1.25" ry="1.37"/>
<ellipse cx="376.54" cy="195.03" rx="1.25" ry="1.37"/>
<ellipse cx="376.79" cy="195.05" rx="1.25" ry="1.37"/>
<ellipse cx="376.91" cy="195.05" rx="1.25" ry="1.37"/>
<ellipse cx="377.03" cy="195.06" rx="1.25" ry="1.37"/>
<ellipse cx="377.15" cy="195.07" rx="1.25" ry="1.37"/>
<ellipse cx="378.17" cy="195.13" rx="1.25" ry="1.37"/>
<ellipse cx="378.29" cy="195.14" rx="1.25" ry="1.37"/>
<ellipse cx="378.95" cy="195.18" rx="1.25" ry="1.37"/>
<ellipse cx="379.1" cy="195.19" rx="1.25" ry="1.37"/>
<ellipse cx="381.02" cy="195.29" rx="1.25" ry="1.37"/>
<ellipse cx="381.7" cy="195.32" rx="1.25" ry="1.37"/>
<ellipse cx="381.83" cy="195.33" rx="1.25" ry="1.37"/>
<ellipse cx="382.51" cy="195.36" rx="1.25" ry="1.37"/>
<ellipse cx="382.84" cy="195.38" rx="1.25" ry="1.37"/>
<ellipse cx="383.16" cy="195.4" rx="1.25" ry="1.37"/>
<ellipse cx="384.26" cy="195.45" rx="1.25" ry="1.37"/>
<ellipse cx="384.48" cy="195.46" rx="1.25" ry="1.37"/>
<ellipse cx="384.85" cy="195.48" rx="1.25" ry="1.37"/>
<ellipse cx="385.07" cy="195.49" rx="1.25" ry="1.37"/>
<ellipse cx="385.58" cy="195.51" rx="1.25" ry="1.37"/>
<ellipse cx="385.7" cy="195.52" rx="1.25" ry="1.37"/>
<ellipse cx="386.23" cy="195.54" rx="1.25" ry="1.37"/>
<ellipse cx="386.87" cy="195.57" rx="1.25" ry="1.37"/>
<ellipse cx="387.01" cy="195.58" rx="1.25" ry="1.37"/>
<ellipse cx="387.79" cy="195.62" rx="1.25" ry="1.37"/>
<ellipse cx="388.15" cy="195.63" rx="1.25" ry="1.37"/>
<ellipse cx="389.72" cy="195.71" rx="1.25" ry="1.37"/>
<ellipse cx="390.05" cy="195.72" rx="1.25" ry="1.37"/>
<ellipse cx="390.49" cy="195.74" rx="1.25" ry="1.37"/>
<ellipse cx="390.79" cy="195.75" rx="1.25" ry="1.37"/>
<ellipse cx="391.08" cy="195.77" rx="1.25" ry="1.37"/>
<ellipse cx="391.94" cy="195.81" rx="1.25" ry="1.37"/>
<ellipse cx="392.25" cy="195.82" rx="1.25" ry="1.37"/>
<ellipse cx="393.68" cy="195.88" rx="1.25" ry="1.37"/>
<ellipse cx="393.84" cy="195.89" rx="1.25" ry="1.37"/>
<ellipse cx="394.53" cy="195.92" rx="1.25" ry="1.37"/>
<ellipse cx="394.65" cy="195.92" rx="1.25" ry="1.37"/>
<ellipse cx="395.79" cy="195.97" rx="1.25" ry="1.37"/>
<ellipse cx="395.91" cy="195.97" rx="1.25" ry="1.37"/>
<ellipse cx="396.22" cy="195.99" rx="1.25" ry="1.37"/>
<ellipse cx="398.52" cy="196.08" rx="1.25" ry="1.37"/>
<ellipse cx="399.22" cy="196.11" rx="1.25" ry="1.37"/>
<ellipse cx="401.11" cy="196.18" rx="1.25" ry="1.37"/>
<ellipse cx="401.59" cy="196.2" rx="1.25" ry="1.37"/>
<ellipse cx="402.63" cy="196.25" rx="1.25" ry="1.37"/>
<ellipse cx="402.92" cy="196.26" rx="1.25" ry="1.37"/>
<ellipse cx="403.69" cy="196.3" rx="1.25" ry="1.37"/>
<ellipse cx="404.03" cy="196.31" rx="1.25" ry="1.37"/>
<ellipse cx="404.97" cy="196.35" rx="1.25" ry="1.37"/>
<ellipse cx="405.1" cy="196.36" rx="1.25" ry="1.37"/>
<ellipse cx="405.55" cy="196.38" rx="1.25" ry="1.37"/>
<ellipse cx="407.2" cy="196.46" rx="1.25" ry="1.37"/>
<ellipse cx="407.32" cy="196.46" rx="1.25" ry="1.37"/>
<ellipse cx="407.46" cy="196.47" rx="1.25" ry="1.37"/>
<ellipse cx="409.03" cy="196.54" rx="1.25" ry="1.37"/>
<ellipse cx="409.41" cy="196.55" rx="1.25" ry="1.37"/>
<ellipse cx="410.1" cy="196.58" rx="1.25" ry="1.37"/>
<ellipse cx="410.65" cy="196.6" rx="1.25" ry="1.37"/>
<ellipse cx="411.41" cy="196.64" rx="1.25" ry="1.37"/>
<ellipse cx="411.53" cy="196.64" rx="1.25" ry="1.37"/>
<ellipse cx="412.77" cy="196.69" rx="1.25" ry="1.37"/>
<ellipse cx="414.06" cy="196.75" rx="1.25" ry="1.37"/>
<ellipse cx="416.22" cy="196.83" rx="1.25" ry="1.37"/>
<ellipse cx="418.3" cy="196.91" rx="1.25" ry="1.37"/>
<ellipse cx="418.9" cy="196.93" rx="1.25" ry="1.37"/>
<ellipse cx="419.09" cy="196.94" rx="1.25" ry="1.37"/>
<ellipse cx="420.06" cy="196.98" rx="1.25" ry="1.37"/>
<ellipse cx="421.3" cy="197.02" rx="1.25" ry="1.37"/>
<ellipse cx="421.88" cy="197.05" rx="1.25" ry="1.37"/>
<ellipse cx="422" cy="197.05" rx="1.25" ry="1.37"/>
<ellipse cx="422.99" cy="197.09" rx="1.25" ry="1.37"/>
<ellipse cx="423.27" cy="197.1" rx="1.25" ry="1.37"/>
<ellipse cx="423.75" cy="197.11" rx="1.25" ry="1.37"/>
<ellipse cx="423.87" cy="197.12" rx="1.25" ry="1.37"/>
<ellipse cx="424.02" cy="197.12" rx="1.25" ry="1.37"/>
<ellipse cx="424.18" cy="197.13" rx="1.25" ry="1.37"/>
<ellipse cx="424.61" cy="197.14" rx="1.25" ry="1.37"/>
<ellipse cx="426.91" cy="197.23" rx="1.25" ry="1.37"/>
<ellipse cx="427.03" cy="197.24" rx="1.25" ry="1.37"/>
<ellipse cx="427.18" cy="197.24" rx="1.25" ry="1.37"/>
<ellipse cx="428.04" cy="197.29" rx="1.25" ry="1.37"/>
<ellipse cx="428.16" cy="197.29" rx="1.25" ry="1.37"/>
<ellipse cx="428.28" cy="197.3" rx="1.25" ry="1.37"/>
<ellipse cx="429.52" cy="197.36" rx="1.25" ry="1.37"/>
<ellipse cx="429.79" cy="197.37" rx="1.25" ry="1.37"/>
<ellipse cx="432.09" cy="197.48" rx="1.25" ry="1.37"/>
<ellipse cx="432.49" cy="197.5" rx="1.25" ry="1.37"/>
<ellipse cx="433.63" cy="197.55" rx="1.25" ry="1.37"/>
</g>
<g stroke="#ff0000" stroke-width="0.45" fill="none">
<use href="#s1" x="270.08" y="32.15"/>
<use href="#s1" x="272.55" y="80.67"/>
<use href="#s1" x="277.2" y="150.79"/>
<use href="#s1" x="277.93" y="152.23"/>
<use href="#s1" x="281.57" y="157.05"/>
<use href="#s1" x="288.6" y="158.04"/>
<use href="#s1" x="299.5" y="170.97"/>
<use href="#s1" x="300.28" y="181.54"/>
<use href="#s1" x="302.46" y="182.58"/>
<use href="#s1" x="305.37" y="183.82"/>
<use href="#s1" x="313.42" y="186.65"/>
<use href="#s1" x="318.07" y="187.99"/>
<use href="#s1" x="327.57" y="189.96"/>
<use href="#s1" x="333.1" y="190.86"/>
<use href="#s1" x="334.11" y="191.01"/>
<use href="#s1" x="334.74" y="191.1"/>
<use href="#s1" x="344.49" y="192.33"/>
<use href="#s1" x="353.17" y="193.16"/>
<use href="#s1" x="373.38" y="194.68"/>
<use href="#s1" x="384.67" y="195.33"/>
<use href="#s1" x="400.67" y="196.04"/>
<use href="#s1" x="420.55" y="196.89"/>
<use href="#s1" x="424.71" y="197.04"/>
<use href="#s1" x="435.82" y="197.91"/>
<use href="#s1" x="438.14" y="197.96"/>
<use href="#s1" x="444.35" y="198.07"/>
</g>
<path d="M280.94 202.4v-2M280.94 12.3v2M305.18 202.4v-2M305.18 12.3v2M329.41 202.4v-2M329.41 12.3v2M353.65 202.4v-2M353.65 12.3v2M377.89 202.4v-2M377.89 12.3v2M402.12 202.4v-2M402.12 12.3v2M426.36 202.4v-2M426.36 12.3v2M256.7 181.28h2M450.6 181.28h-2M256.7 160.16h2M450.6 160.16h-2M256.7 139.03h2M450.6 139.03h-2M256.7 117.91h2M450.6 117.91h-2M256.7 96.79h2M450.6 96.79h-2M256.7 75.67h2M450.6 75.67h-2M256.7 54.54h2M450.6 54.54h-2M256.7 33.42h2M450.6 33.42h-2" stroke="#454545" stroke-width="0.8" fill="none"/>
<rect x="256.7" y="12.3" width="193.9" height="190.1" fill="none" stroke="#454545" stroke-width="0.8"/>
<text class="ss" transform="translate(256.7,213.1) scale(0.756,1.0)" font-size="8.0" text-anchor="middle" fill="#1c1c1c" stroke="#1c1c1c" stroke-width="0.14">0</text>
<text class="ss" transform="translate(280.94,213.1) scale(0.756,1.0)" font-size="8.0" text-anchor="middle" fill="#1c1c1c" stroke="#1c1c1c" stroke-width="0.14">5</text>
<text class="ss" transform="translate(305.18,213.1) scale(0.756,1.0)" font-size="8.0" text-anchor="middle" fill="#1c1c1c" stroke="#1c1c1c" stroke-width="0.14">10</text>
<text class="ss" transform="translate(329.41,213.1) scale(0.756,1.0)" font-size="8.0" text-anchor="middle" fill="#1c1c1c" stroke="#1c1c1c" stroke-width="0.14">15</text>
<text class="ss" transform="translate(353.65,213.1) scale(0.756,1.0)" font-size="8.0" text-anchor="middle" fill="#1c1c1c" stroke="#1c1c1c" stroke-width="0.14">20</text>
<text class="ss" transform="translate(377.89,213.1) scale(0.756,1.0)" font-size="8.0" text-anchor="middle" fill="#1c1c1c" stroke="#1c1c1c" stroke-width="0.14">25</text>
<text class="ss" transform="translate(402.12,213.1) scale(0.756,1.0)" font-size="8.0" text-anchor="middle" fill="#1c1c1c" stroke="#1c1c1c" stroke-width="0.14">30</text>
<text class="ss" transform="translate(426.36,213.1) scale(0.756,1.0)" font-size="8.0" text-anchor="middle" fill="#1c1c1c" stroke="#1c1c1c" stroke-width="0.14">35</text>
<text class="ss" transform="translate(450.6,213.1) scale(0.756,1.0)" font-size="8.0" text-anchor="middle" fill="#1c1c1c" stroke="#1c1c1c" stroke-width="0.14">40</text>
<text class="ss" transform="translate(254.1,205.7) scale(0.756,1.0)" font-size="8.0" text-anchor="end" fill="#1c1c1c" stroke="#1c1c1c" stroke-width="0.14">0</text>
<text class="ss" transform="translate(254.1,184.58) scale(0.756,1.0)" font-size="8.0" text-anchor="end" fill="#1c1c1c" stroke="#1c1c1c" stroke-width="0.14">0.002</text>
<text class="ss" transform="translate(254.1,163.46) scale(0.756,1.0)" font-size="8.0" text-anchor="end" fill="#1c1c1c" stroke="#1c1c1c" stroke-width="0.14">0.004</text>
<text class="ss" transform="translate(254.1,142.33) scale(0.756,1.0)" font-size="8.0" text-anchor="end" fill="#1c1c1c" stroke="#1c1c1c" stroke-width="0.14">0.006</text>
<text class="ss" transform="translate(254.1,121.21) scale(0.756,1.0)" font-size="8.0" text-anchor="end" fill="#1c1c1c" stroke="#1c1c1c" stroke-width="0.14">0.008</text>
<text class="ss" transform="translate(254.1,100.09) scale(0.756,1.0)" font-size="8.0" text-anchor="end" fill="#1c1c1c" stroke="#1c1c1c" stroke-width="0.14">0.01</text>
<text class="ss" transform="translate(254.1,78.97) scale(0.756,1.0)" font-size="8.0" text-anchor="end" fill="#1c1c1c" stroke="#1c1c1c" stroke-width="0.14">0.012</text>
<text class="ss" transform="translate(254.1,57.84) scale(0.756,1.0)" font-size="8.0" text-anchor="end" fill="#1c1c1c" stroke="#1c1c1c" stroke-width="0.14">0.014</text>
<text class="ss" transform="translate(254.1,36.72) scale(0.756,1.0)" font-size="8.0" text-anchor="end" fill="#1c1c1c" stroke="#1c1c1c" stroke-width="0.14">0.016</text>
<text class="ss" transform="translate(254.1,15.6) scale(0.756,1.0)" font-size="8.0" text-anchor="end" fill="#1c1c1c" stroke="#1c1c1c" stroke-width="0.14">0.018</text>
<text class="ss" transform="translate(352.85,223.9) scale(0.756,1.0)" font-size="8.0" text-anchor="middle" fill="#1c1c1c" stroke="#1c1c1c" stroke-width="0.14">f1</text>
<text class="ss" transform="translate(235,107.75) rotate(-90) scale(1.0,0.756)" font-size="8.0" text-anchor="middle" fill="#1c1c1c" stroke="#1c1c1c" stroke-width="0.14">f2</text>
<text class="ss" transform="translate(353.65,8.9) scale(0.72,1.0)" font-size="9.2" text-anchor="middle" font-weight="700" fill="#1c1c1c" stroke="#1c1c1c" stroke-width="0.36">MOSCA</text>
<rect x="393.4" y="18.2" width="52.4" height="20.4" fill="#fff" stroke="#585858" stroke-width="0.7"/>
<ellipse cx="404.25" cy="24" rx="1.4" ry="1.52" fill="#00ee00" stroke="#000" stroke-width="0.55"/>
<use href="#s1" x="404.25" y="33.2" stroke="#ff0000" stroke-width="0.5"/>
<text class="ss" transform="translate(415.1,26.4) scale(0.816,1.0)" font-size="6.4" text-anchor="start" fill="#1c1c1c" stroke="#1c1c1c" stroke-width="0.14">true PF</text>
<text class="ss" transform="translate(415.1,35.7) scale(0.816,1.0)" font-size="6.4" text-anchor="start" fill="#1c1c1c" stroke="#1c1c1c" stroke-width="0.14">obtained PF</text>
<text class="sf" transform="translate(355.6,243.3)" font-size="18.6" text-anchor="middle" fill="#111" stroke="#111" stroke-width="0.14">(b)</text>
</g>
<g>
<rect x="483.7" y="10.5" width="194.9" height="192.8" fill="#fff"/>
<path d="M505.36 10.5V203.3M527.01 10.5V203.3M548.67 10.5V203.3M570.32 10.5V203.3M591.98 10.5V203.3M613.63 10.5V203.3M635.29 10.5V203.3M656.94 10.5V203.3M483.7 171.17H678.6M483.7 139.03H678.6M483.7 106.9H678.6M483.7 74.77H678.6M483.7 42.63H678.6" stroke="#ebebeb" stroke-width="0.8" fill="none"/>
<g fill="#00ee00" stroke="#000" stroke-width="0.55">
<ellipse cx="493.42" cy="29.81" rx="1.4" ry="1.52"/>
<ellipse cx="493.92" cy="32.3" rx="1.4" ry="1.52"/>
<ellipse cx="493.96" cy="37.41" rx="1.4" ry="1.52"/>
<ellipse cx="493.96" cy="42.41" rx="1.4" ry="1.52"/>
<ellipse cx="493.96" cy="47.12" rx="1.4" ry="1.52"/>
<ellipse cx="494.74" cy="54.72" rx="1.4" ry="1.52"/>
<ellipse cx="495.39" cy="68.34" rx="1.4" ry="1.52"/>
<ellipse cx="496.11" cy="81.51" rx="1.4" ry="1.52"/>
<ellipse cx="496.75" cy="91.32" rx="1.4" ry="1.52"/>
<ellipse cx="497.27" cy="97.85" rx="1.4" ry="1.52"/>
<ellipse cx="497.79" cy="101.82" rx="1.4" ry="1.52"/>
<ellipse cx="498.31" cy="106.03" rx="1.4" ry="1.52"/>
<ellipse cx="499.05" cy="110.6" rx="1.4" ry="1.52"/>
<ellipse cx="499.56" cy="113.86" rx="1.4" ry="1.52"/>
<ellipse cx="500.08" cy="117.36" rx="1.4" ry="1.52"/>
<ellipse cx="500.71" cy="120.52" rx="1.4" ry="1.52"/>
<ellipse cx="501.23" cy="124.96" rx="1.4" ry="1.52"/>
<ellipse cx="501.8" cy="128.16" rx="1.4" ry="1.52"/>
<ellipse cx="502.29" cy="130.66" rx="1.4" ry="1.52"/>
<ellipse cx="502.41" cy="131.24" rx="1.4" ry="1.52"/>
<ellipse cx="502.53" cy="131.81" rx="1.4" ry="1.52"/>
<ellipse cx="502.88" cy="133.39" rx="1.4" ry="1.52"/>
<ellipse cx="503.66" cy="136.58" rx="1.4" ry="1.52"/>
<ellipse cx="504.35" cy="139.2" rx="1.4" ry="1.52"/>
<ellipse cx="505.29" cy="142.7" rx="1.4" ry="1.52"/>
<ellipse cx="506.39" cy="145.65" rx="1.4" ry="1.52"/>
<ellipse cx="506.61" cy="146.2" rx="1.4" ry="1.52"/>
<ellipse cx="507.67" cy="149.12" rx="1.4" ry="1.52"/>
<ellipse cx="507.82" cy="149.5" rx="1.4" ry="1.52"/>
<ellipse cx="508.21" cy="150.57" rx="1.4" ry="1.52"/>
<ellipse cx="508.85" cy="152.25" rx="1.4" ry="1.52"/>
</g><g fill="#00f000" stroke="#000" stroke-width="0.85">
<ellipse cx="509.83" cy="154.42" rx="1.25" ry="1.37"/>
<ellipse cx="509.95" cy="154.66" rx="1.25" ry="1.37"/>
<ellipse cx="510.07" cy="154.9" rx="1.25" ry="1.37"/>
<ellipse cx="510.7" cy="156.13" rx="1.25" ry="1.37"/>
<ellipse cx="511.78" cy="158.16" rx="1.25" ry="1.37"/>
<ellipse cx="512.87" cy="160.19" rx="1.25" ry="1.37"/>
<ellipse cx="513.21" cy="160.79" rx="1.25" ry="1.37"/>
<ellipse cx="513.92" cy="161.99" rx="1.25" ry="1.37"/>
<ellipse cx="514.09" cy="162.27" rx="1.25" ry="1.37"/>
<ellipse cx="514.48" cy="162.88" rx="1.25" ry="1.37"/>
<ellipse cx="515.3" cy="164.12" rx="1.25" ry="1.37"/>
<ellipse cx="516.34" cy="165.6" rx="1.25" ry="1.37"/>
<ellipse cx="516.67" cy="166.05" rx="1.25" ry="1.37"/>
<ellipse cx="516.96" cy="166.44" rx="1.25" ry="1.37"/>
<ellipse cx="517.96" cy="167.7" rx="1.25" ry="1.37"/>
<ellipse cx="519.02" cy="168.83" rx="1.25" ry="1.37"/>
<ellipse cx="520.68" cy="170.46" rx="1.25" ry="1.37"/>
<ellipse cx="522.39" cy="171.99" rx="1.25" ry="1.37"/>
<ellipse cx="522.76" cy="172.3" rx="1.25" ry="1.37"/>
<ellipse cx="523.77" cy="173.11" rx="1.25" ry="1.37"/>
<ellipse cx="524.74" cy="173.85" rx="1.25" ry="1.37"/>
<ellipse cx="525.18" cy="174.18" rx="1.25" ry="1.37"/>
<ellipse cx="526.61" cy="175.19" rx="1.25" ry="1.37"/>
<ellipse cx="528.16" cy="176.24" rx="1.25" ry="1.37"/>
<ellipse cx="529.32" cy="176.98" rx="1.25" ry="1.37"/>
<ellipse cx="529.94" cy="177.36" rx="1.25" ry="1.37"/>
<ellipse cx="530.35" cy="177.6" rx="1.25" ry="1.37"/>
<ellipse cx="530.81" cy="177.88" rx="1.25" ry="1.37"/>
<ellipse cx="531.28" cy="178.15" rx="1.25" ry="1.37"/>
<ellipse cx="532.27" cy="178.7" rx="1.25" ry="1.37"/>
<ellipse cx="532.39" cy="178.76" rx="1.25" ry="1.37"/>
<ellipse cx="532.93" cy="179.06" rx="1.25" ry="1.37"/>
<ellipse cx="533.83" cy="179.53" rx="1.25" ry="1.37"/>
<ellipse cx="534.77" cy="180.02" rx="1.25" ry="1.37"/>
<ellipse cx="535.04" cy="180.16" rx="1.25" ry="1.37"/>
<ellipse cx="535.88" cy="180.58" rx="1.25" ry="1.37"/>
<ellipse cx="536.26" cy="180.76" rx="1.25" ry="1.37"/>
<ellipse cx="536.46" cy="180.86" rx="1.25" ry="1.37"/>
<ellipse cx="536.97" cy="181.1" rx="1.25" ry="1.37"/>
<ellipse cx="537.09" cy="181.16" rx="1.25" ry="1.37"/>
<ellipse cx="537.46" cy="181.33" rx="1.25" ry="1.37"/>
<ellipse cx="537.79" cy="181.48" rx="1.25" ry="1.37"/>
<ellipse cx="538.08" cy="181.61" rx="1.25" ry="1.37"/>
<ellipse cx="538.45" cy="181.77" rx="1.25" ry="1.37"/>
<ellipse cx="539.6" cy="182.27" rx="1.25" ry="1.37"/>
<ellipse cx="539.72" cy="182.32" rx="1.25" ry="1.37"/>
<ellipse cx="541.05" cy="182.86" rx="1.25" ry="1.37"/>
<ellipse cx="541.2" cy="182.92" rx="1.25" ry="1.37"/>
<ellipse cx="541.85" cy="183.14" rx="1.25" ry="1.37"/>
<ellipse cx="543.45" cy="183.66" rx="1.25" ry="1.37"/>
<ellipse cx="543.57" cy="183.7" rx="1.25" ry="1.37"/>
<ellipse cx="544.4" cy="183.96" rx="1.25" ry="1.37"/>
<ellipse cx="544.79" cy="184.09" rx="1.25" ry="1.37"/>
<ellipse cx="546.57" cy="184.61" rx="1.25" ry="1.37"/>
<ellipse cx="547.44" cy="184.86" rx="1.25" ry="1.37"/>
<ellipse cx="547.75" cy="184.95" rx="1.25" ry="1.37"/>
<ellipse cx="549.18" cy="185.34" rx="1.25" ry="1.37"/>
<ellipse cx="550.42" cy="185.68" rx="1.25" ry="1.37"/>
<ellipse cx="551.1" cy="185.86" rx="1.25" ry="1.37"/>
<ellipse cx="551.52" cy="185.97" rx="1.25" ry="1.37"/>
<ellipse cx="552.18" cy="186.14" rx="1.25" ry="1.37"/>
<ellipse cx="552.49" cy="186.22" rx="1.25" ry="1.37"/>
<ellipse cx="553.51" cy="186.47" rx="1.25" ry="1.37"/>
<ellipse cx="553.63" cy="186.5" rx="1.25" ry="1.37"/>
<ellipse cx="553.75" cy="186.53" rx="1.25" ry="1.37"/>
<ellipse cx="553.9" cy="186.56" rx="1.25" ry="1.37"/>
<ellipse cx="555.06" cy="186.84" rx="1.25" ry="1.37"/>
<ellipse cx="555.19" cy="186.87" rx="1.25" ry="1.37"/>
<ellipse cx="555.89" cy="187.03" rx="1.25" ry="1.37"/>
<ellipse cx="556.19" cy="187.09" rx="1.25" ry="1.37"/>
<ellipse cx="556.58" cy="187.18" rx="1.25" ry="1.37"/>
<ellipse cx="558.09" cy="187.51" rx="1.25" ry="1.37"/>
<ellipse cx="558.21" cy="187.54" rx="1.25" ry="1.37"/>
<ellipse cx="559.33" cy="187.77" rx="1.25" ry="1.37"/>
<ellipse cx="560.13" cy="187.93" rx="1.25" ry="1.37"/>
<ellipse cx="560.42" cy="187.98" rx="1.25" ry="1.37"/>
<ellipse cx="560.88" cy="188.07" rx="1.25" ry="1.37"/>
<ellipse cx="561.16" cy="188.11" rx="1.25" ry="1.37"/>
<ellipse cx="561.86" cy="188.24" rx="1.25" ry="1.37"/>
<ellipse cx="562.07" cy="188.28" rx="1.25" ry="1.37"/>
<ellipse cx="563.21" cy="188.47" rx="1.25" ry="1.37"/>
<ellipse cx="564.75" cy="188.73" rx="1.25" ry="1.37"/>
<ellipse cx="565.12" cy="188.79" rx="1.25" ry="1.37"/>
<ellipse cx="566.5" cy="189.01" rx="1.25" ry="1.37"/>
<ellipse cx="568.77" cy="189.36" rx="1.25" ry="1.37"/>
<ellipse cx="569.23" cy="189.42" rx="1.25" ry="1.37"/>
<ellipse cx="571.51" cy="189.76" rx="1.25" ry="1.37"/>
<ellipse cx="572.18" cy="189.85" rx="1.25" ry="1.37"/>
<ellipse cx="572.79" cy="189.94" rx="1.25" ry="1.37"/>
<ellipse cx="573.31" cy="190.01" rx="1.25" ry="1.37"/>
<ellipse cx="573.56" cy="190.04" rx="1.25" ry="1.37"/>
<ellipse cx="574.31" cy="190.14" rx="1.25" ry="1.37"/>
<ellipse cx="575.56" cy="190.31" rx="1.25" ry="1.37"/>
<ellipse cx="576.39" cy="190.42" rx="1.25" ry="1.37"/>
<ellipse cx="576.82" cy="190.47" rx="1.25" ry="1.37"/>
<ellipse cx="577.04" cy="190.5" rx="1.25" ry="1.37"/>
<ellipse cx="579.33" cy="190.79" rx="1.25" ry="1.37"/>
<ellipse cx="579.49" cy="190.81" rx="1.25" ry="1.37"/>
<ellipse cx="580.7" cy="190.95" rx="1.25" ry="1.37"/>
<ellipse cx="580.82" cy="190.97" rx="1.25" ry="1.37"/>
<ellipse cx="582.64" cy="191.18" rx="1.25" ry="1.37"/>
<ellipse cx="582.94" cy="191.21" rx="1.25" ry="1.37"/>
<ellipse cx="585.23" cy="191.48" rx="1.25" ry="1.37"/>
<ellipse cx="585.45" cy="191.5" rx="1.25" ry="1.37"/>
<ellipse cx="587.17" cy="191.7" rx="1.25" ry="1.37"/>
<ellipse cx="588.1" cy="191.8" rx="1.25" ry="1.37"/>
<ellipse cx="588.22" cy="191.82" rx="1.25" ry="1.37"/>
<ellipse cx="588.51" cy="191.85" rx="1.25" ry="1.37"/>
<ellipse cx="589.03" cy="191.9" rx="1.25" ry="1.37"/>
<ellipse cx="589.85" cy="191.99" rx="1.25" ry="1.37"/>
<ellipse cx="590.29" cy="192.04" rx="1.25" ry="1.37"/>
<ellipse cx="590.92" cy="192.11" rx="1.25" ry="1.37"/>
<ellipse cx="591.53" cy="192.17" rx="1.25" ry="1.37"/>
<ellipse cx="592.11" cy="192.23" rx="1.25" ry="1.37"/>
<ellipse cx="592.77" cy="192.3" rx="1.25" ry="1.37"/>
<ellipse cx="592.9" cy="192.31" rx="1.25" ry="1.37"/>
<ellipse cx="593.02" cy="192.32" rx="1.25" ry="1.37"/>
<ellipse cx="594.01" cy="192.41" rx="1.25" ry="1.37"/>
<ellipse cx="595.15" cy="192.51" rx="1.25" ry="1.37"/>
<ellipse cx="595.34" cy="192.53" rx="1.25" ry="1.37"/>
<ellipse cx="595.49" cy="192.54" rx="1.25" ry="1.37"/>
<ellipse cx="596.03" cy="192.59" rx="1.25" ry="1.37"/>
<ellipse cx="597.02" cy="192.67" rx="1.25" ry="1.37"/>
<ellipse cx="597.56" cy="192.72" rx="1.25" ry="1.37"/>
<ellipse cx="598.09" cy="192.76" rx="1.25" ry="1.37"/>
<ellipse cx="599.36" cy="192.87" rx="1.25" ry="1.37"/>
<ellipse cx="600.28" cy="192.94" rx="1.25" ry="1.37"/>
<ellipse cx="601.17" cy="193.01" rx="1.25" ry="1.37"/>
<ellipse cx="601.99" cy="193.07" rx="1.25" ry="1.37"/>
<ellipse cx="602.74" cy="193.13" rx="1.25" ry="1.37"/>
<ellipse cx="602.93" cy="193.15" rx="1.25" ry="1.37"/>
<ellipse cx="603.59" cy="193.2" rx="1.25" ry="1.37"/>
<ellipse cx="605.32" cy="193.33" rx="1.25" ry="1.37"/>
<ellipse cx="607.62" cy="193.49" rx="1.25" ry="1.37"/>
<ellipse cx="607.77" cy="193.5" rx="1.25" ry="1.37"/>
<ellipse cx="608.99" cy="193.59" rx="1.25" ry="1.37"/>
<ellipse cx="609.11" cy="193.6" rx="1.25" ry="1.37"/>
<ellipse cx="609.81" cy="193.65" rx="1.25" ry="1.37"/>
<ellipse cx="609.93" cy="193.65" rx="1.25" ry="1.37"/>
<ellipse cx="610.73" cy="193.71" rx="1.25" ry="1.37"/>
<ellipse cx="611" cy="193.73" rx="1.25" ry="1.37"/>
<ellipse cx="611.5" cy="193.76" rx="1.25" ry="1.37"/>
<ellipse cx="611.62" cy="193.77" rx="1.25" ry="1.37"/>
<ellipse cx="612.77" cy="193.84" rx="1.25" ry="1.37"/>
<ellipse cx="613.26" cy="193.88" rx="1.25" ry="1.37"/>
<ellipse cx="613.58" cy="193.9" rx="1.25" ry="1.37"/>
<ellipse cx="614.11" cy="193.94" rx="1.25" ry="1.37"/>
<ellipse cx="614.8" cy="194" rx="1.25" ry="1.37"/>
<ellipse cx="615.25" cy="194.03" rx="1.25" ry="1.37"/>
<ellipse cx="615.6" cy="194.06" rx="1.25" ry="1.37"/>
<ellipse cx="616.56" cy="194.13" rx="1.25" ry="1.37"/>
<ellipse cx="616.68" cy="194.14" rx="1.25" ry="1.37"/>
<ellipse cx="617.37" cy="194.2" rx="1.25" ry="1.37"/>
<ellipse cx="618.17" cy="194.26" rx="1.25" ry="1.37"/>
<ellipse cx="618.95" cy="194.31" rx="1.25" ry="1.37"/>
<ellipse cx="621.24" cy="194.48" rx="1.25" ry="1.37"/>
<ellipse cx="621.36" cy="194.49" rx="1.25" ry="1.37"/>
<ellipse cx="621.78" cy="194.52" rx="1.25" ry="1.37"/>
<ellipse cx="622.63" cy="194.58" rx="1.25" ry="1.37"/>
<ellipse cx="622.75" cy="194.59" rx="1.25" ry="1.37"/>
<ellipse cx="623.43" cy="194.64" rx="1.25" ry="1.37"/>
<ellipse cx="623.89" cy="194.67" rx="1.25" ry="1.37"/>
<ellipse cx="625.59" cy="194.79" rx="1.25" ry="1.37"/>
<ellipse cx="626.48" cy="194.85" rx="1.25" ry="1.37"/>
<ellipse cx="626.6" cy="194.85" rx="1.25" ry="1.37"/>
<ellipse cx="626.95" cy="194.88" rx="1.25" ry="1.37"/>
<ellipse cx="628.1" cy="194.95" rx="1.25" ry="1.37"/>
<ellipse cx="628.56" cy="194.98" rx="1.25" ry="1.37"/>
<ellipse cx="629.22" cy="195.02" rx="1.25" ry="1.37"/>
<ellipse cx="629.83" cy="195.06" rx="1.25" ry="1.37"/>
<ellipse cx="630.85" cy="195.13" rx="1.25" ry="1.37"/>
<ellipse cx="630.97" cy="195.13" rx="1.25" ry="1.37"/>
<ellipse cx="631.09" cy="195.14" rx="1.25" ry="1.37"/>
<ellipse cx="631.54" cy="195.17" rx="1.25" ry="1.37"/>
<ellipse cx="632.27" cy="195.21" rx="1.25" ry="1.37"/>
<ellipse cx="633.15" cy="195.27" rx="1.25" ry="1.37"/>
<ellipse cx="634.94" cy="195.37" rx="1.25" ry="1.37"/>
<ellipse cx="635.8" cy="195.44" rx="1.25" ry="1.37"/>
<ellipse cx="636.35" cy="195.49" rx="1.25" ry="1.37"/>
<ellipse cx="636.63" cy="195.51" rx="1.25" ry="1.37"/>
<ellipse cx="636.75" cy="195.52" rx="1.25" ry="1.37"/>
<ellipse cx="637.02" cy="195.54" rx="1.25" ry="1.37"/>
<ellipse cx="638.43" cy="195.66" rx="1.25" ry="1.37"/>
<ellipse cx="640.72" cy="195.84" rx="1.25" ry="1.37"/>
<ellipse cx="641.79" cy="195.92" rx="1.25" ry="1.37"/>
</g>
<g stroke="#ff0000" stroke-width="0.45" fill="none">
<use href="#s1" x="498.82" y="118.79"/>
<use href="#s1" x="507.3" y="150.76"/>
<use href="#s1" x="509.9" y="150.84"/>
<use href="#s1" x="506.6" y="143.11"/>
<use href="#s1" x="502.76" y="132.47"/>
<use href="#s1" x="504.12" y="140.86"/>
<use href="#s1" x="503.86" y="138.36"/>
<use href="#s1" x="502" y="129.88"/>
<use href="#s1" x="504.07" y="136.73"/>
<use href="#s1" x="503.34" y="135.51"/>
<use href="#s1" x="504.91" y="139.88"/>
<use href="#s1" x="506.18" y="144.14"/>
<use href="#s1" x="503.92" y="136.23"/>
<use href="#s1" x="503.19" y="136.22"/>
<use href="#s1" x="505.37" y="142.58"/>
<use href="#s1" x="504.64" y="142.62"/>
<use href="#s1" x="538.35" y="180.58"/>
<use href="#s1" x="524.89" y="174.25"/>
<use href="#s1" x="515.93" y="165.67"/>
<use href="#s1" x="533.09" y="178.38"/>
<use href="#s1" x="608.86" y="193.48"/>
<use href="#s1" x="543.7" y="183.63"/>
<use href="#s1" x="536.27" y="179.64"/>
<use href="#s1" x="566.77" y="189"/>
<use href="#s1" x="516.67" y="164.17"/>
<use href="#s1" x="590.23" y="191.42"/>
<use href="#s1" x="529.14" y="176.1"/>
<use href="#s1" x="626.17" y="194.54"/>
<use href="#s1" x="631.08" y="195.18"/>
<use href="#s1" x="636.6" y="195.62"/>
<use href="#s1" x="549.33" y="185.71"/>
<use href="#s1" x="606.97" y="193.03"/>
<use href="#s1" x="636.36" y="195.08"/>
<use href="#s1" x="631.7" y="194.95"/>
<use href="#s1" x="639.1" y="195.35"/>
<use href="#s1" x="540.95" y="181.44"/>
<use href="#s1" x="544.57" y="184.07"/>
<use href="#s1" x="513.99" y="161.21"/>
<use href="#s1" x="524.99" y="172.17"/>
<use href="#s1" x="632" y="195.2"/>
<use href="#s1" x="516.36" y="164.59"/>
<use href="#s1" x="522.38" y="171.08"/>
<use href="#s1" x="607.53" y="193.46"/>
<use href="#s1" x="550.01" y="184.49"/>
<use href="#s1" x="552.9" y="186.13"/>
<use href="#s1" x="621.39" y="194.03"/>
<use href="#s1" x="621.91" y="194.16"/>
<use href="#s1" x="548.88" y="184.5"/>
<use href="#s1" x="610.43" y="193.33"/>
<use href="#s1" x="529.19" y="176.72"/>
<use href="#s1" x="548.51" y="184.26"/>
<use href="#s1" x="567.9" y="188.81"/>
<use href="#s1" x="609.86" y="193.75"/>
<use href="#s1" x="578.6" y="190.57"/>
<use href="#s1" x="568.22" y="188.5"/>
<use href="#s1" x="530.21" y="175.83"/>
<use href="#s1" x="514.22" y="161.23"/>
<use href="#s1" x="565.77" y="188.88"/>
<use href="#s1" x="568.43" y="188.99"/>
<use href="#s1" x="553.52" y="185.72"/>
<use href="#s1" x="508.25" y="149.95"/>
<use href="#s1" x="602.94" y="193.22"/>
<use href="#s1" x="616.96" y="194.18"/>
<use href="#s1" x="586.17" y="191.64"/>
<use href="#s1" x="553.48" y="186.16"/>
<use href="#s1" x="514.49" y="161.17"/>
<use href="#s1" x="557.47" y="186.71"/>
<use href="#s1" x="565.4" y="188.4"/>
<use href="#s1" x="563.62" y="188.44"/>
<use href="#s1" x="622.55" y="194.68"/>
<use href="#s1" x="618.59" y="193.77"/>
<use href="#s1" x="559.8" y="187.1"/>
<use href="#s1" x="584.97" y="191.04"/>
<use href="#s1" x="534.83" y="179.85"/>
<use href="#s1" x="541.32" y="182.81"/>
<use href="#s1" x="633.72" y="195.22"/>
<use href="#s1" x="545.83" y="184.06"/>
<use href="#s1" x="608.15" y="193.3"/>
<use href="#s1" x="526.86" y="175.14"/>
<use href="#s1" x="518.74" y="168.68"/>
<use href="#s1" x="516.95" y="166.11"/>
<use href="#s1" x="535.65" y="179.89"/>
<use href="#s1" x="513.8" y="160.87"/>
<use href="#s1" x="514.11" y="161.09"/>
<use href="#s1" x="523.57" y="171.44"/>
<use href="#s1" x="518.19" y="166.21"/>
<use href="#s1" x="517.85" y="165.47"/>
<use href="#s1" x="529.23" y="177.11"/>
<use href="#s1" x="534.33" y="179.57"/>
<use href="#s1" x="521.22" y="170.95"/>
<use href="#s1" x="535.22" y="180.33"/>
<use href="#s1" x="532.3" y="178.28"/>
<use href="#s1" x="530.56" y="177.46"/>
<use href="#s1" x="512.86" y="157.83"/>
<use href="#s1" x="529.84" y="177.25"/>
<use href="#s1" x="539.3" y="181.01"/>
<use href="#s1" x="515.93" y="165.37"/>
<use href="#s1" x="528.55" y="176.5"/>
<use href="#s1" x="532.11" y="178.05"/>
<use href="#s1" x="531.44" y="177.49"/>
<use href="#s1" x="533.25" y="178.08"/>
<use href="#s1" x="528.31" y="175.49"/>
<use href="#s1" x="520.18" y="170.01"/>
<use href="#s1" x="513.28" y="158.78"/>
<use href="#s1" x="516.62" y="165.25"/>
<use href="#s1" x="519.88" y="168.58"/>
<use href="#s1" x="526.26" y="173.53"/>
<use href="#s1" x="523.39" y="172.35"/>
<use href="#s1" x="529.73" y="176.14"/>
<use href="#s1" x="537.81" y="181.23"/>
<use href="#s1" x="536.66" y="179.64"/>
<use href="#s1" x="539.49" y="182.24"/>
<use href="#s1" x="521.75" y="170.02"/>
<use href="#s1" x="535.03" y="180.32"/>
<use href="#s1" x="522.19" y="170.53"/>
<use href="#s1" x="532.89" y="178.36"/>
<use href="#s1" x="516.75" y="165.48"/>
<use href="#s1" x="512.28" y="158.57"/>
<use href="#s1" x="523.14" y="171.15"/>
<use href="#s1" x="527.91" y="175.56"/>
<use href="#s1" x="517.8" y="167.07"/>
<use href="#s1" x="530.31" y="177.04"/>
<use href="#s1" x="515.65" y="162.8"/>
<use href="#s1" x="637.89" y="195.38"/>
<use href="#s1" x="639.19" y="195.49"/>
<use href="#s1" x="640.05" y="195.56"/>
<use href="#s1" x="640.92" y="195.63"/>
<use href="#s1" x="646.98" y="196.15"/>
<use href="#s1" x="656.38" y="196.29"/>
<use href="#s1" x="658.11" y="196.29"/>
<use href="#s1" x="659.89" y="196.29"/>
</g>
<path d="M505.36 203.3v-2M505.36 10.5v2M527.01 203.3v-2M527.01 10.5v2M548.67 203.3v-2M548.67 10.5v2M570.32 203.3v-2M570.32 10.5v2M591.98 203.3v-2M591.98 10.5v2M613.63 203.3v-2M613.63 10.5v2M635.29 203.3v-2M635.29 10.5v2M656.94 203.3v-2M656.94 10.5v2M483.7 171.17h2M678.6 171.17h-2M483.7 139.03h2M678.6 139.03h-2M483.7 106.9h2M678.6 106.9h-2M483.7 74.77h2M678.6 74.77h-2M483.7 42.63h2M678.6 42.63h-2" stroke="#454545" stroke-width="0.8" fill="none"/>
<rect x="483.7" y="10.5" width="194.9" height="192.8" fill="none" stroke="#454545" stroke-width="0.8"/>
<text class="ss" transform="translate(483.7,213.9) scale(0.756,1.0)" font-size="8.0" text-anchor="middle" fill="#1c1c1c" stroke="#1c1c1c" stroke-width="0.14">0</text>
<text class="ss" transform="translate(505.36,213.9) scale(0.756,1.0)" font-size="8.0" text-anchor="middle" fill="#1c1c1c" stroke="#1c1c1c" stroke-width="0.14">5</text>
<text class="ss" transform="translate(527.01,213.9) scale(0.756,1.0)" font-size="8.0" text-anchor="middle" fill="#1c1c1c" stroke="#1c1c1c" stroke-width="0.14">10</text>
<text class="ss" transform="translate(548.67,213.9) scale(0.756,1.0)" font-size="8.0" text-anchor="middle" fill="#1c1c1c" stroke="#1c1c1c" stroke-width="0.14">15</text>
<text class="ss" transform="translate(570.32,213.9) scale(0.756,1.0)" font-size="8.0" text-anchor="middle" fill="#1c1c1c" stroke="#1c1c1c" stroke-width="0.14">20</text>
<text class="ss" transform="translate(591.98,213.9) scale(0.756,1.0)" font-size="8.0" text-anchor="middle" fill="#1c1c1c" stroke="#1c1c1c" stroke-width="0.14">25</text>
<text class="ss" transform="translate(613.63,213.9) scale(0.756,1.0)" font-size="8.0" text-anchor="middle" fill="#1c1c1c" stroke="#1c1c1c" stroke-width="0.14">30</text>
<text class="ss" transform="translate(635.29,213.9) scale(0.756,1.0)" font-size="8.0" text-anchor="middle" fill="#1c1c1c" stroke="#1c1c1c" stroke-width="0.14">35</text>
<text class="ss" transform="translate(656.94,213.9) scale(0.756,1.0)" font-size="8.0" text-anchor="middle" fill="#1c1c1c" stroke="#1c1c1c" stroke-width="0.14">40</text>
<text class="ss" transform="translate(678.6,213.9) scale(0.756,1.0)" font-size="8.0" text-anchor="middle" fill="#1c1c1c" stroke="#1c1c1c" stroke-width="0.14">45</text>
<text class="ss" transform="translate(481.1,206.6) scale(0.756,1.0)" font-size="8.0" text-anchor="end" fill="#1c1c1c" stroke="#1c1c1c" stroke-width="0.14">0</text>
<text class="ss" transform="translate(481.1,174.47) scale(0.756,1.0)" font-size="8.0" text-anchor="end" fill="#1c1c1c" stroke="#1c1c1c" stroke-width="0.14">0.002</text>
<text class="ss" transform="translate(481.1,142.33) scale(0.756,1.0)" font-size="8.0" text-anchor="end" fill="#1c1c1c" stroke="#1c1c1c" stroke-width="0.14">0.004</text>
<text class="ss" transform="translate(481.1,110.2) scale(0.756,1.0)" font-size="8.0" text-anchor="end" fill="#1c1c1c" stroke="#1c1c1c" stroke-width="0.14">0.006</text>
<text class="ss" transform="translate(481.1,78.07) scale(0.756,1.0)" font-size="8.0" text-anchor="end" fill="#1c1c1c" stroke="#1c1c1c" stroke-width="0.14">0.008</text>
<text class="ss" transform="translate(481.1,45.93) scale(0.756,1.0)" font-size="8.0" text-anchor="end" fill="#1c1c1c" stroke="#1c1c1c" stroke-width="0.14">0.01</text>
<text class="ss" transform="translate(481.1,13.8) scale(0.756,1.0)" font-size="8.0" text-anchor="end" fill="#1c1c1c" stroke="#1c1c1c" stroke-width="0.14">0.012</text>
<text class="ss" transform="translate(580.35,224.9) scale(0.756,1.0)" font-size="8.0" text-anchor="middle" fill="#1c1c1c" stroke="#1c1c1c" stroke-width="0.14">f1</text>
<text class="ss" transform="translate(462,107.3) rotate(-90) scale(1.0,0.756)" font-size="8.0" text-anchor="middle" fill="#1c1c1c" stroke="#1c1c1c" stroke-width="0.14">f2</text>
<text class="ss" transform="translate(581.15,6.8) scale(0.72,1.0)" font-size="9.2" text-anchor="middle" font-weight="700" fill="#1c1c1c" stroke="#1c1c1c" stroke-width="0.36">MOPSO</text>
<rect x="621.4" y="16.4" width="52.4" height="20.4" fill="#fff" stroke="#585858" stroke-width="0.7"/>
<ellipse cx="632.25" cy="22.2" rx="1.4" ry="1.52" fill="#00ee00" stroke="#000" stroke-width="0.55"/>
<use href="#s1" x="632.25" y="31.4" stroke="#ff0000" stroke-width="0.5"/>
<text class="ss" transform="translate(643.1,24.6) scale(0.816,1.0)" font-size="6.4" text-anchor="start" fill="#1c1c1c" stroke="#1c1c1c" stroke-width="0.14">true PF</text>
<text class="ss" transform="translate(643.1,33.9) scale(0.816,1.0)" font-size="6.4" text-anchor="start" fill="#1c1c1c" stroke="#1c1c1c" stroke-width="0.14">obtained PF</text>
<text class="sf" transform="translate(583.3,243.3)" font-size="18.6" text-anchor="middle" fill="#111" stroke="#111" stroke-width="0.14">(c)</text>
</g>
<g>
<rect x="27.5" y="258.5" width="193.9" height="193" fill="#fff"/>
<path d="M46.89 258.5V451.5M66.28 258.5V451.5M85.67 258.5V451.5M105.06 258.5V451.5M124.45 258.5V451.5M143.84 258.5V451.5M163.23 258.5V451.5M182.62 258.5V451.5M202.01 258.5V451.5M27.5 412.9H221.4M27.5 374.3H221.4M27.5 335.7H221.4M27.5 297.1H221.4" stroke="#ebebeb" stroke-width="0.8" fill="none"/>
<g fill="#00ee00" stroke="#000" stroke-width="0.55">
<ellipse cx="29.68" cy="368.14" rx="1.4" ry="1.52"/>
<ellipse cx="29.79" cy="369.34" rx="1.4" ry="1.52"/>
<ellipse cx="29.8" cy="371.79" rx="1.4" ry="1.52"/>
<ellipse cx="29.8" cy="374.19" rx="1.4" ry="1.52"/>
<ellipse cx="29.8" cy="376.45" rx="1.4" ry="1.52"/>
<ellipse cx="29.97" cy="380.11" rx="1.4" ry="1.52"/>
<ellipse cx="30.12" cy="386.65" rx="1.4" ry="1.52"/>
<ellipse cx="30.28" cy="392.98" rx="1.4" ry="1.52"/>
<ellipse cx="30.42" cy="397.69" rx="1.4" ry="1.52"/>
<ellipse cx="30.54" cy="400.83" rx="1.4" ry="1.52"/>
<ellipse cx="30.65" cy="402.74" rx="1.4" ry="1.52"/>
<ellipse cx="30.77" cy="404.76" rx="1.4" ry="1.52"/>
<ellipse cx="30.93" cy="406.96" rx="1.4" ry="1.52"/>
<ellipse cx="31.05" cy="408.52" rx="1.4" ry="1.52"/>
<ellipse cx="31.17" cy="410.21" rx="1.4" ry="1.52"/>
<ellipse cx="31.31" cy="411.73" rx="1.4" ry="1.52"/>
<ellipse cx="31.43" cy="413.91" rx="1.4" ry="1.52"/>
<ellipse cx="31.55" cy="415.36" rx="1.4" ry="1.52"/>
<ellipse cx="31.67" cy="416.66" rx="1.4" ry="1.52"/>
<ellipse cx="31.79" cy="417.86" rx="1.4" ry="1.52"/>
<ellipse cx="31.91" cy="418.94" rx="1.4" ry="1.52"/>
<ellipse cx="32.03" cy="419.95" rx="1.4" ry="1.52"/>
<ellipse cx="32.15" cy="420.92" rx="1.4" ry="1.52"/>
<ellipse cx="32.27" cy="421.88" rx="1.4" ry="1.52"/>
<ellipse cx="32.39" cy="422.74" rx="1.4" ry="1.52"/>
<ellipse cx="32.51" cy="423.42" rx="1.4" ry="1.52"/>
<ellipse cx="32.63" cy="424.07" rx="1.4" ry="1.52"/>
<ellipse cx="32.75" cy="424.76" rx="1.4" ry="1.52"/>
<ellipse cx="32.87" cy="425.48" rx="1.4" ry="1.52"/>
<ellipse cx="32.99" cy="426.17" rx="1.4" ry="1.52"/>
<ellipse cx="33.11" cy="426.85" rx="1.4" ry="1.52"/>
<ellipse cx="33.23" cy="427.47" rx="1.4" ry="1.52"/>
</g><g fill="#00f000" stroke="#000" stroke-width="0.85">
<ellipse cx="33.35" cy="428.01" rx="1.25" ry="1.37"/>
<ellipse cx="33.47" cy="428.52" rx="1.25" ry="1.37"/>
<ellipse cx="33.59" cy="429.02" rx="1.25" ry="1.37"/>
<ellipse cx="33.71" cy="429.49" rx="1.25" ry="1.37"/>
<ellipse cx="33.83" cy="429.99" rx="1.25" ry="1.37"/>
<ellipse cx="33.95" cy="430.47" rx="1.25" ry="1.37"/>
<ellipse cx="34.07" cy="430.93" rx="1.25" ry="1.37"/>
<ellipse cx="34.19" cy="431.38" rx="1.25" ry="1.37"/>
<ellipse cx="34.31" cy="431.8" rx="1.25" ry="1.37"/>
<ellipse cx="34.43" cy="432.21" rx="1.25" ry="1.37"/>
<ellipse cx="34.55" cy="432.6" rx="1.25" ry="1.37"/>
<ellipse cx="34.67" cy="432.97" rx="1.25" ry="1.37"/>
<ellipse cx="34.79" cy="433.33" rx="1.25" ry="1.37"/>
<ellipse cx="34.91" cy="433.68" rx="1.25" ry="1.37"/>
<ellipse cx="35.03" cy="434.02" rx="1.25" ry="1.37"/>
<ellipse cx="35.15" cy="434.34" rx="1.25" ry="1.37"/>
<ellipse cx="35.27" cy="434.63" rx="1.25" ry="1.37"/>
<ellipse cx="35.39" cy="434.9" rx="1.25" ry="1.37"/>
<ellipse cx="35.51" cy="435.16" rx="1.25" ry="1.37"/>
<ellipse cx="35.63" cy="435.42" rx="1.25" ry="1.37"/>
<ellipse cx="35.75" cy="435.66" rx="1.25" ry="1.37"/>
<ellipse cx="35.87" cy="435.9" rx="1.25" ry="1.37"/>
<ellipse cx="35.99" cy="436.13" rx="1.25" ry="1.37"/>
<ellipse cx="36.11" cy="436.36" rx="1.25" ry="1.37"/>
<ellipse cx="36.23" cy="436.58" rx="1.25" ry="1.37"/>
<ellipse cx="36.35" cy="436.79" rx="1.25" ry="1.37"/>
<ellipse cx="36.47" cy="436.99" rx="1.25" ry="1.37"/>
<ellipse cx="36.59" cy="437.19" rx="1.25" ry="1.37"/>
<ellipse cx="36.71" cy="437.39" rx="1.25" ry="1.37"/>
<ellipse cx="36.83" cy="437.58" rx="1.25" ry="1.37"/>
<ellipse cx="36.95" cy="437.76" rx="1.25" ry="1.37"/>
<ellipse cx="37.07" cy="437.94" rx="1.25" ry="1.37"/>
<ellipse cx="37.19" cy="438.11" rx="1.25" ry="1.37"/>
<ellipse cx="37.31" cy="438.29" rx="1.25" ry="1.37"/>
<ellipse cx="37.43" cy="438.46" rx="1.25" ry="1.37"/>
<ellipse cx="37.55" cy="438.63" rx="1.25" ry="1.37"/>
<ellipse cx="37.67" cy="438.79" rx="1.25" ry="1.37"/>
<ellipse cx="37.79" cy="438.95" rx="1.25" ry="1.37"/>
<ellipse cx="37.91" cy="439.11" rx="1.25" ry="1.37"/>
<ellipse cx="38.03" cy="439.26" rx="1.25" ry="1.37"/>
<ellipse cx="38.15" cy="439.41" rx="1.25" ry="1.37"/>
<ellipse cx="38.27" cy="439.56" rx="1.25" ry="1.37"/>
<ellipse cx="38.39" cy="439.7" rx="1.25" ry="1.37"/>
<ellipse cx="38.51" cy="439.84" rx="1.25" ry="1.37"/>
<ellipse cx="38.63" cy="439.97" rx="1.25" ry="1.37"/>
<ellipse cx="38.75" cy="440.11" rx="1.25" ry="1.37"/>
<ellipse cx="38.87" cy="440.24" rx="1.25" ry="1.37"/>
<ellipse cx="38.99" cy="440.38" rx="1.25" ry="1.37"/>
<ellipse cx="39.11" cy="440.51" rx="1.25" ry="1.37"/>
<ellipse cx="39.23" cy="440.63" rx="1.25" ry="1.37"/>
<ellipse cx="39.35" cy="440.76" rx="1.25" ry="1.37"/>
<ellipse cx="39.47" cy="440.88" rx="1.25" ry="1.37"/>
<ellipse cx="39.59" cy="441" rx="1.25" ry="1.37"/>
<ellipse cx="39.71" cy="441.11" rx="1.25" ry="1.37"/>
<ellipse cx="39.83" cy="441.23" rx="1.25" ry="1.37"/>
<ellipse cx="39.95" cy="441.34" rx="1.25" ry="1.37"/>
<ellipse cx="40.07" cy="441.45" rx="1.25" ry="1.37"/>
<ellipse cx="40.19" cy="441.55" rx="1.25" ry="1.37"/>
<ellipse cx="40.31" cy="441.66" rx="1.25" ry="1.37"/>
<ellipse cx="40.43" cy="441.75" rx="1.25" ry="1.37"/>
<ellipse cx="40.55" cy="441.83" rx="1.25" ry="1.37"/>
<ellipse cx="40.67" cy="441.92" rx="1.25" ry="1.37"/>
<ellipse cx="40.79" cy="442" rx="1.25" ry="1.37"/>
<ellipse cx="40.91" cy="442.09" rx="1.25" ry="1.37"/>
<ellipse cx="41.03" cy="442.17" rx="1.25" ry="1.37"/>
<ellipse cx="41.15" cy="442.25" rx="1.25" ry="1.37"/>
<ellipse cx="41.27" cy="442.33" rx="1.25" ry="1.37"/>
<ellipse cx="41.39" cy="442.41" rx="1.25" ry="1.37"/>
<ellipse cx="41.51" cy="442.48" rx="1.25" ry="1.37"/>
<ellipse cx="41.63" cy="442.56" rx="1.25" ry="1.37"/>
<ellipse cx="41.75" cy="442.63" rx="1.25" ry="1.37"/>
<ellipse cx="41.87" cy="442.7" rx="1.25" ry="1.37"/>
<ellipse cx="41.99" cy="442.77" rx="1.25" ry="1.37"/>
<ellipse cx="42.11" cy="442.84" rx="1.25" ry="1.37"/>
<ellipse cx="42.23" cy="442.91" rx="1.25" ry="1.37"/>
<ellipse cx="42.35" cy="442.98" rx="1.25" ry="1.37"/>
<ellipse cx="42.47" cy="443.05" rx="1.25" ry="1.37"/>
<ellipse cx="42.59" cy="443.12" rx="1.25" ry="1.37"/>
<ellipse cx="42.71" cy="443.19" rx="1.25" ry="1.37"/>
<ellipse cx="42.83" cy="443.25" rx="1.25" ry="1.37"/>
<ellipse cx="42.95" cy="443.32" rx="1.25" ry="1.37"/>
<ellipse cx="43.07" cy="443.38" rx="1.25" ry="1.37"/>
<ellipse cx="43.19" cy="443.44" rx="1.25" ry="1.37"/>
<ellipse cx="43.31" cy="443.51" rx="1.25" ry="1.37"/>
<ellipse cx="43.43" cy="443.57" rx="1.25" ry="1.37"/>
<ellipse cx="43.55" cy="443.63" rx="1.25" ry="1.37"/>
<ellipse cx="43.67" cy="443.69" rx="1.25" ry="1.37"/>
<ellipse cx="43.79" cy="443.74" rx="1.25" ry="1.37"/>
<ellipse cx="43.91" cy="443.8" rx="1.25" ry="1.37"/>
<ellipse cx="44.03" cy="443.86" rx="1.25" ry="1.37"/>
<ellipse cx="44.15" cy="443.91" rx="1.25" ry="1.37"/>
<ellipse cx="44.27" cy="443.97" rx="1.25" ry="1.37"/>
<ellipse cx="44.39" cy="444.02" rx="1.25" ry="1.37"/>
<ellipse cx="44.51" cy="444.07" rx="1.25" ry="1.37"/>
<ellipse cx="44.63" cy="444.12" rx="1.25" ry="1.37"/>
<ellipse cx="44.75" cy="444.17" rx="1.25" ry="1.37"/>
<ellipse cx="44.87" cy="444.21" rx="1.25" ry="1.37"/>
<ellipse cx="44.99" cy="444.26" rx="1.25" ry="1.37"/>
<ellipse cx="45.11" cy="444.31" rx="1.25" ry="1.37"/>
<ellipse cx="45.23" cy="444.35" rx="1.25" ry="1.37"/>
<ellipse cx="45.35" cy="444.39" rx="1.25" ry="1.37"/>
<ellipse cx="45.47" cy="444.44" rx="1.25" ry="1.37"/>
<ellipse cx="45.59" cy="444.48" rx="1.25" ry="1.37"/>
<ellipse cx="45.71" cy="444.52" rx="1.25" ry="1.37"/>
<ellipse cx="45.83" cy="444.56" rx="1.25" ry="1.37"/>
<ellipse cx="45.95" cy="444.6" rx="1.25" ry="1.37"/>
<ellipse cx="46.07" cy="444.64" rx="1.25" ry="1.37"/>
<ellipse cx="46.19" cy="444.68" rx="1.25" ry="1.37"/>
<ellipse cx="46.31" cy="444.72" rx="1.25" ry="1.37"/>
<ellipse cx="46.43" cy="444.76" rx="1.25" ry="1.37"/>
<ellipse cx="46.55" cy="444.8" rx="1.25" ry="1.37"/>
<ellipse cx="46.67" cy="444.84" rx="1.25" ry="1.37"/>
<ellipse cx="46.79" cy="444.88" rx="1.25" ry="1.37"/>
<ellipse cx="46.91" cy="444.91" rx="1.25" ry="1.37"/>
<ellipse cx="47.03" cy="444.95" rx="1.25" ry="1.37"/>
<ellipse cx="47.15" cy="444.99" rx="1.25" ry="1.37"/>
<ellipse cx="47.27" cy="445.03" rx="1.25" ry="1.37"/>
<ellipse cx="47.39" cy="445.06" rx="1.25" ry="1.37"/>
<ellipse cx="47.51" cy="445.1" rx="1.25" ry="1.37"/>
<ellipse cx="47.63" cy="445.13" rx="1.25" ry="1.37"/>
<ellipse cx="47.75" cy="445.17" rx="1.25" ry="1.37"/>
<ellipse cx="47.87" cy="445.2" rx="1.25" ry="1.37"/>
<ellipse cx="47.99" cy="445.24" rx="1.25" ry="1.37"/>
<ellipse cx="48.11" cy="445.27" rx="1.25" ry="1.37"/>
<ellipse cx="48.23" cy="445.31" rx="1.25" ry="1.37"/>
<ellipse cx="48.35" cy="445.34" rx="1.25" ry="1.37"/>
<ellipse cx="48.47" cy="445.37" rx="1.25" ry="1.37"/>
<ellipse cx="48.59" cy="445.4" rx="1.25" ry="1.37"/>
<ellipse cx="48.71" cy="445.44" rx="1.25" ry="1.37"/>
<ellipse cx="48.83" cy="445.47" rx="1.25" ry="1.37"/>
<ellipse cx="48.95" cy="445.5" rx="1.25" ry="1.37"/>
<ellipse cx="49.07" cy="445.53" rx="1.25" ry="1.37"/>
<ellipse cx="49.19" cy="445.56" rx="1.25" ry="1.37"/>
<ellipse cx="49.31" cy="445.59" rx="1.25" ry="1.37"/>
<ellipse cx="49.43" cy="445.62" rx="1.25" ry="1.37"/>
<ellipse cx="49.55" cy="445.65" rx="1.25" ry="1.37"/>
<ellipse cx="49.67" cy="445.68" rx="1.25" ry="1.37"/>
<ellipse cx="49.79" cy="445.71" rx="1.25" ry="1.37"/>
<ellipse cx="49.91" cy="445.74" rx="1.25" ry="1.37"/>
<ellipse cx="50.03" cy="445.77" rx="1.25" ry="1.37"/>
<ellipse cx="50.15" cy="445.8" rx="1.25" ry="1.37"/>
<ellipse cx="50.27" cy="445.83" rx="1.25" ry="1.37"/>
<ellipse cx="50.39" cy="445.86" rx="1.25" ry="1.37"/>
<ellipse cx="50.51" cy="445.89" rx="1.25" ry="1.37"/>
<ellipse cx="50.63" cy="445.92" rx="1.25" ry="1.37"/>
<ellipse cx="50.75" cy="445.95" rx="1.25" ry="1.37"/>
<ellipse cx="50.87" cy="445.98" rx="1.25" ry="1.37"/>
<ellipse cx="50.99" cy="446" rx="1.25" ry="1.37"/>
<ellipse cx="51.11" cy="446.03" rx="1.25" ry="1.37"/>
<ellipse cx="51.23" cy="446.06" rx="1.25" ry="1.37"/>
<ellipse cx="51.35" cy="446.09" rx="1.25" ry="1.37"/>
<ellipse cx="51.47" cy="446.11" rx="1.25" ry="1.37"/>
<ellipse cx="51.59" cy="446.14" rx="1.25" ry="1.37"/>
<ellipse cx="51.71" cy="446.17" rx="1.25" ry="1.37"/>
<ellipse cx="51.83" cy="446.19" rx="1.25" ry="1.37"/>
<ellipse cx="51.95" cy="446.22" rx="1.25" ry="1.37"/>
<ellipse cx="52.07" cy="446.24" rx="1.25" ry="1.37"/>
<ellipse cx="52.19" cy="446.27" rx="1.25" ry="1.37"/>
<ellipse cx="52.31" cy="446.29" rx="1.25" ry="1.37"/>
<ellipse cx="52.43" cy="446.31" rx="1.25" ry="1.37"/>
<ellipse cx="52.55" cy="446.33" rx="1.25" ry="1.37"/>
<ellipse cx="52.67" cy="446.36" rx="1.25" ry="1.37"/>
<ellipse cx="52.79" cy="446.38" rx="1.25" ry="1.37"/>
<ellipse cx="52.91" cy="446.4" rx="1.25" ry="1.37"/>
<ellipse cx="53.03" cy="446.42" rx="1.25" ry="1.37"/>
<ellipse cx="53.15" cy="446.44" rx="1.25" ry="1.37"/>
<ellipse cx="53.27" cy="446.46" rx="1.25" ry="1.37"/>
<ellipse cx="53.39" cy="446.49" rx="1.25" ry="1.37"/>
<ellipse cx="53.51" cy="446.51" rx="1.25" ry="1.37"/>
<ellipse cx="53.63" cy="446.53" rx="1.25" ry="1.37"/>
<ellipse cx="53.75" cy="446.55" rx="1.25" ry="1.37"/>
<ellipse cx="53.87" cy="446.57" rx="1.25" ry="1.37"/>
<ellipse cx="53.99" cy="446.59" rx="1.25" ry="1.37"/>
<ellipse cx="54.11" cy="446.61" rx="1.25" ry="1.37"/>
<ellipse cx="54.23" cy="446.63" rx="1.25" ry="1.37"/>
<ellipse cx="54.35" cy="446.65" rx="1.25" ry="1.37"/>
<ellipse cx="54.47" cy="446.67" rx="1.25" ry="1.37"/>
<ellipse cx="54.59" cy="446.69" rx="1.25" ry="1.37"/>
<ellipse cx="54.71" cy="446.7" rx="1.25" ry="1.37"/>
<ellipse cx="54.83" cy="446.72" rx="1.25" ry="1.37"/>
<ellipse cx="54.95" cy="446.74" rx="1.25" ry="1.37"/>
<ellipse cx="55.07" cy="446.76" rx="1.25" ry="1.37"/>
<ellipse cx="55.19" cy="446.78" rx="1.25" ry="1.37"/>
<ellipse cx="55.31" cy="446.8" rx="1.25" ry="1.37"/>
<ellipse cx="55.43" cy="446.82" rx="1.25" ry="1.37"/>
<ellipse cx="55.55" cy="446.83" rx="1.25" ry="1.37"/>
<ellipse cx="55.67" cy="446.85" rx="1.25" ry="1.37"/>
<ellipse cx="55.79" cy="446.87" rx="1.25" ry="1.37"/>
<ellipse cx="55.91" cy="446.89" rx="1.25" ry="1.37"/>
<ellipse cx="56.03" cy="446.9" rx="1.25" ry="1.37"/>
<ellipse cx="56.15" cy="446.92" rx="1.25" ry="1.37"/>
<ellipse cx="56.27" cy="446.94" rx="1.25" ry="1.37"/>
<ellipse cx="56.39" cy="446.96" rx="1.25" ry="1.37"/>
<ellipse cx="56.51" cy="446.97" rx="1.25" ry="1.37"/>
<ellipse cx="56.63" cy="446.99" rx="1.25" ry="1.37"/>
<ellipse cx="56.75" cy="447.01" rx="1.25" ry="1.37"/>
<ellipse cx="56.87" cy="447.03" rx="1.25" ry="1.37"/>
<ellipse cx="56.99" cy="447.05" rx="1.25" ry="1.37"/>
<ellipse cx="57.11" cy="447.07" rx="1.25" ry="1.37"/>
<ellipse cx="57.23" cy="447.09" rx="1.25" ry="1.37"/>
<ellipse cx="57.35" cy="447.11" rx="1.25" ry="1.37"/>
<ellipse cx="57.47" cy="447.13" rx="1.25" ry="1.37"/>
<ellipse cx="57.59" cy="447.15" rx="1.25" ry="1.37"/>
<ellipse cx="57.71" cy="447.17" rx="1.25" ry="1.37"/>
<ellipse cx="57.83" cy="447.19" rx="1.25" ry="1.37"/>
<ellipse cx="57.95" cy="447.21" rx="1.25" ry="1.37"/>
<ellipse cx="58.07" cy="447.23" rx="1.25" ry="1.37"/>
<ellipse cx="58.19" cy="447.25" rx="1.25" ry="1.37"/>
<ellipse cx="58.31" cy="447.27" rx="1.25" ry="1.37"/>
<ellipse cx="58.43" cy="447.28" rx="1.25" ry="1.37"/>
<ellipse cx="58.55" cy="447.3" rx="1.25" ry="1.37"/>
<ellipse cx="58.67" cy="447.32" rx="1.25" ry="1.37"/>
<ellipse cx="58.79" cy="447.34" rx="1.25" ry="1.37"/>
<ellipse cx="58.91" cy="447.36" rx="1.25" ry="1.37"/>
<ellipse cx="59.03" cy="447.37" rx="1.25" ry="1.37"/>
<ellipse cx="59.15" cy="447.39" rx="1.25" ry="1.37"/>
<ellipse cx="59.27" cy="447.41" rx="1.25" ry="1.37"/>
<ellipse cx="59.39" cy="447.43" rx="1.25" ry="1.37"/>
<ellipse cx="59.51" cy="447.44" rx="1.25" ry="1.37"/>
<ellipse cx="59.63" cy="447.46" rx="1.25" ry="1.37"/>
<ellipse cx="59.75" cy="447.48" rx="1.25" ry="1.37"/>
<ellipse cx="59.87" cy="447.49" rx="1.25" ry="1.37"/>
<ellipse cx="59.99" cy="447.51" rx="1.25" ry="1.37"/>
<ellipse cx="60.11" cy="447.53" rx="1.25" ry="1.37"/>
<ellipse cx="60.23" cy="447.54" rx="1.25" ry="1.37"/>
<ellipse cx="60.35" cy="447.56" rx="1.25" ry="1.37"/>
<ellipse cx="60.47" cy="447.58" rx="1.25" ry="1.37"/>
<ellipse cx="60.59" cy="447.59" rx="1.25" ry="1.37"/>
<ellipse cx="60.71" cy="447.61" rx="1.25" ry="1.37"/>
<ellipse cx="60.83" cy="447.62" rx="1.25" ry="1.37"/>
<ellipse cx="60.95" cy="447.64" rx="1.25" ry="1.37"/>
<ellipse cx="61.07" cy="447.66" rx="1.25" ry="1.37"/>
<ellipse cx="61.19" cy="447.67" rx="1.25" ry="1.37"/>
<ellipse cx="61.31" cy="447.69" rx="1.25" ry="1.37"/>
<ellipse cx="61.43" cy="447.7" rx="1.25" ry="1.37"/>
<ellipse cx="61.55" cy="447.72" rx="1.25" ry="1.37"/>
<ellipse cx="61.67" cy="447.74" rx="1.25" ry="1.37"/>
<ellipse cx="61.79" cy="447.77" rx="1.25" ry="1.37"/>
<ellipse cx="61.91" cy="447.79" rx="1.25" ry="1.37"/>
<ellipse cx="62.03" cy="447.81" rx="1.25" ry="1.37"/>
<ellipse cx="62.15" cy="447.83" rx="1.25" ry="1.37"/>
<ellipse cx="62.27" cy="447.85" rx="1.25" ry="1.37"/>
<ellipse cx="62.39" cy="447.87" rx="1.25" ry="1.37"/>
<ellipse cx="62.51" cy="447.89" rx="1.25" ry="1.37"/>
<ellipse cx="62.63" cy="447.91" rx="1.25" ry="1.37"/>
<ellipse cx="62.75" cy="447.93" rx="1.25" ry="1.37"/>
<ellipse cx="62.87" cy="447.95" rx="1.25" ry="1.37"/>
<ellipse cx="62.89" cy="447.95" rx="1.25" ry="1.37"/>
<ellipse cx="62.89" cy="447.95" rx="1.25" ry="1.37" fill="#052505"/>
</g>
<g stroke="#ff0000" stroke-width="0.45" fill="none">
<use href="#s1" x="31.77" y="282.2"/>
<use href="#s1" x="32.54" y="390.51"/>
<use href="#s1" x="32.83" y="407.73"/>
<use href="#s1" x="33.9" y="420.85"/>
<use href="#s1" x="35.84" y="422.94"/>
<use href="#s1" x="36.52" y="434.52"/>
<use href="#s1" x="41.75" y="440.07"/>
<use href="#s1" x="43.11" y="442.78"/>
<use href="#s1" x="47.08" y="442.39"/>
<use href="#s1" x="47.37" y="445.02"/>
<use href="#s1" x="51.64" y="445.71"/>
<use href="#s1" x="53.68" y="445.71"/>
<use href="#s1" x="55.62" y="446.71"/>
<use href="#s1" x="57.65" y="447.25"/>
<use href="#s1" x="59.59" y="447.49"/>
<use href="#s1" x="60.95" y="447.79"/>
<use href="#s1" x="89.55" y="447.64"/>
<use href="#s1" x="219.75" y="448.18"/>
</g>
<path d="M46.89 451.5v-2M46.89 258.5v2M66.28 451.5v-2M66.28 258.5v2M85.67 451.5v-2M85.67 258.5v2M105.06 451.5v-2M105.06 258.5v2M124.45 451.5v-2M124.45 258.5v2M143.84 451.5v-2M143.84 258.5v2M163.23 451.5v-2M163.23 258.5v2M182.62 451.5v-2M182.62 258.5v2M202.01 451.5v-2M202.01 258.5v2M27.5 412.9h2M221.4 412.9h-2M27.5 374.3h2M221.4 374.3h-2M27.5 335.7h2M221.4 335.7h-2M27.5 297.1h2M221.4 297.1h-2" stroke="#454545" stroke-width="0.8" fill="none"/>
<rect x="27.5" y="258.5" width="193.9" height="193" fill="none" stroke="#454545" stroke-width="0.8"/>
<text class="ss" transform="translate(27.5,462.1) scale(0.756,1.0)" font-size="8.0" text-anchor="middle" fill="#1c1c1c" stroke="#1c1c1c" stroke-width="0.14">0</text>
<text class="ss" transform="translate(46.89,462.1) scale(0.756,1.0)" font-size="8.0" text-anchor="middle" fill="#1c1c1c" stroke="#1c1c1c" stroke-width="0.14">20</text>
<text class="ss" transform="translate(66.28,462.1) scale(0.756,1.0)" font-size="8.0" text-anchor="middle" fill="#1c1c1c" stroke="#1c1c1c" stroke-width="0.14">40</text>
<text class="ss" transform="translate(85.67,462.1) scale(0.756,1.0)" font-size="8.0" text-anchor="middle" fill="#1c1c1c" stroke="#1c1c1c" stroke-width="0.14">60</text>
<text class="ss" transform="translate(105.06,462.1) scale(0.756,1.0)" font-size="8.0" text-anchor="middle" fill="#1c1c1c" stroke="#1c1c1c" stroke-width="0.14">80</text>
<text class="ss" transform="translate(124.45,462.1) scale(0.756,1.0)" font-size="8.0" text-anchor="middle" fill="#1c1c1c" stroke="#1c1c1c" stroke-width="0.14">100</text>
<text class="ss" transform="translate(143.84,462.1) scale(0.756,1.0)" font-size="8.0" text-anchor="middle" fill="#1c1c1c" stroke="#1c1c1c" stroke-width="0.14">120</text>
<text class="ss" transform="translate(163.23,462.1) scale(0.756,1.0)" font-size="8.0" text-anchor="middle" fill="#1c1c1c" stroke="#1c1c1c" stroke-width="0.14">140</text>
<text class="ss" transform="translate(182.62,462.1) scale(0.756,1.0)" font-size="8.0" text-anchor="middle" fill="#1c1c1c" stroke="#1c1c1c" stroke-width="0.14">160</text>
<text class="ss" transform="translate(202.01,462.1) scale(0.756,1.0)" font-size="8.0" text-anchor="middle" fill="#1c1c1c" stroke="#1c1c1c" stroke-width="0.14">180</text>
<text class="ss" transform="translate(221.4,462.1) scale(0.756,1.0)" font-size="8.0" text-anchor="middle" fill="#1c1c1c" stroke="#1c1c1c" stroke-width="0.14">200</text>
<text class="ss" transform="translate(24.9,454.8) scale(0.756,1.0)" font-size="8.0" text-anchor="end" fill="#1c1c1c" stroke="#1c1c1c" stroke-width="0.14">0</text>
<text class="ss" transform="translate(24.9,416.2) scale(0.756,1.0)" font-size="8.0" text-anchor="end" fill="#1c1c1c" stroke="#1c1c1c" stroke-width="0.14">0.005</text>
<text class="ss" transform="translate(24.9,377.6) scale(0.756,1.0)" font-size="8.0" text-anchor="end" fill="#1c1c1c" stroke="#1c1c1c" stroke-width="0.14">0.01</text>
<text class="ss" transform="translate(24.9,339) scale(0.756,1.0)" font-size="8.0" text-anchor="end" fill="#1c1c1c" stroke="#1c1c1c" stroke-width="0.14">0.015</text>
<text class="ss" transform="translate(24.9,300.4) scale(0.756,1.0)" font-size="8.0" text-anchor="end" fill="#1c1c1c" stroke="#1c1c1c" stroke-width="0.14">0.02</text>
<text class="ss" transform="translate(24.9,261.8) scale(0.756,1.0)" font-size="8.0" text-anchor="end" fill="#1c1c1c" stroke="#1c1c1c" stroke-width="0.14">0.025</text>
<text class="ss" transform="translate(123.65,473.4) scale(0.756,1.0)" font-size="8.0" text-anchor="middle" fill="#1c1c1c" stroke="#1c1c1c" stroke-width="0.14">f1</text>
<text class="ss" transform="translate(5.8,355.4) rotate(-90) scale(1.0,0.756)" font-size="8.0" text-anchor="middle" fill="#1c1c1c" stroke="#1c1c1c" stroke-width="0.14">f2</text>
<text class="ss" transform="translate(124.45,254.9) scale(0.72,1.0)" font-size="9.2" text-anchor="middle" font-weight="700" fill="#1c1c1c" stroke="#1c1c1c" stroke-width="0.36">MOHS</text>
<rect x="164.2" y="264.4" width="52.4" height="20.4" fill="#fff" stroke="#585858" stroke-width="0.7"/>
<ellipse cx="175.05" cy="270.2" rx="1.4" ry="1.52" fill="#00ee00" stroke="#000" stroke-width="0.55"/>
<use href="#s1" x="175.05" y="279.4" stroke="#ff0000" stroke-width="0.5"/>
<text class="ss" transform="translate(185.9,272.6) scale(0.816,1.0)" font-size="6.4" text-anchor="start" fill="#1c1c1c" stroke="#1c1c1c" stroke-width="0.14">true PF</text>
<text class="ss" transform="translate(185.9,281.9) scale(0.816,1.0)" font-size="6.4" text-anchor="start" fill="#1c1c1c" stroke="#1c1c1c" stroke-width="0.14">obtained PF</text>
<text class="sf" transform="translate(128.7,491.8)" font-size="18.6" text-anchor="middle" fill="#111" stroke="#111" stroke-width="0.14">(d)</text>
</g>
<g>
<rect x="257.3" y="260.2" width="194.5" height="191.3" fill="#fff"/>
<path d="M281.61 260.2V451.5M305.93 260.2V451.5M330.24 260.2V451.5M354.55 260.2V451.5M378.86 260.2V451.5M403.18 260.2V451.5M427.49 260.2V451.5M257.3 419.62H451.8M257.3 387.73H451.8M257.3 355.85H451.8M257.3 323.97H451.8M257.3 292.08H451.8" stroke="#ebebeb" stroke-width="0.8" fill="none"/>
<g fill="#00ee00" stroke="#000" stroke-width="0.55">
<ellipse cx="268.22" cy="279.36" rx="1.4" ry="1.52"/>
<ellipse cx="268.78" cy="281.83" rx="1.4" ry="1.52"/>
<ellipse cx="268.82" cy="286.9" rx="1.4" ry="1.52"/>
<ellipse cx="268.82" cy="291.86" rx="1.4" ry="1.52"/>
<ellipse cx="268.82" cy="296.53" rx="1.4" ry="1.52"/>
<ellipse cx="269.7" cy="304.07" rx="1.4" ry="1.52"/>
<ellipse cx="270.43" cy="317.59" rx="1.4" ry="1.52"/>
<ellipse cx="271.23" cy="330.66" rx="1.4" ry="1.52"/>
<ellipse cx="271.95" cy="340.39" rx="1.4" ry="1.52"/>
<ellipse cx="272.53" cy="346.87" rx="1.4" ry="1.52"/>
<ellipse cx="273.12" cy="350.81" rx="1.4" ry="1.52"/>
<ellipse cx="273.71" cy="354.99" rx="1.4" ry="1.52"/>
<ellipse cx="274.53" cy="359.52" rx="1.4" ry="1.52"/>
<ellipse cx="275.11" cy="362.75" rx="1.4" ry="1.52"/>
<ellipse cx="275.69" cy="366.23" rx="1.4" ry="1.52"/>
<ellipse cx="276.4" cy="369.37" rx="1.4" ry="1.52"/>
<ellipse cx="276.52" cy="370.31" rx="1.4" ry="1.52"/>
<ellipse cx="276.64" cy="371.24" rx="1.4" ry="1.52"/>
<ellipse cx="276.79" cy="372.4" rx="1.4" ry="1.52"/>
<ellipse cx="277.4" cy="375.9" rx="1.4" ry="1.52"/>
<ellipse cx="277.56" cy="376.67" rx="1.4" ry="1.52"/>
<ellipse cx="278.25" cy="379.74" rx="1.4" ry="1.52"/>
<ellipse cx="279.01" cy="382.8" rx="1.4" ry="1.52"/>
<ellipse cx="279.49" cy="384.56" rx="1.4" ry="1.52"/>
<ellipse cx="279.63" cy="385.05" rx="1.4" ry="1.52"/>
<ellipse cx="280.51" cy="388.01" rx="1.4" ry="1.52"/>
<ellipse cx="281.56" cy="391.45" rx="1.4" ry="1.52"/>
<ellipse cx="281.93" cy="392.39" rx="1.4" ry="1.52"/>
<ellipse cx="282.48" cy="393.66" rx="1.4" ry="1.52"/>
<ellipse cx="282.6" cy="393.92" rx="1.4" ry="1.52"/>
<ellipse cx="283.38" cy="395.66" rx="1.4" ry="1.52"/>
<ellipse cx="284.05" cy="397.34" rx="1.4" ry="1.52"/>
<ellipse cx="284.17" cy="397.63" rx="1.4" ry="1.52"/>
<ellipse cx="285.06" cy="399.76" rx="1.4" ry="1.52"/>
<ellipse cx="285.7" cy="401.2" rx="1.4" ry="1.52"/>
<ellipse cx="285.82" cy="401.47" rx="1.4" ry="1.52"/>
<ellipse cx="285.94" cy="401.71" rx="1.4" ry="1.52"/>
<ellipse cx="286.06" cy="401.94" rx="1.4" ry="1.52"/>
</g><g fill="#00f000" stroke="#000" stroke-width="0.85">
<ellipse cx="287.2" cy="403.99" rx="1.25" ry="1.37"/>
<ellipse cx="288.33" cy="405.89" rx="1.25" ry="1.37"/>
<ellipse cx="289.51" cy="407.86" rx="1.25" ry="1.37"/>
<ellipse cx="290.01" cy="408.66" rx="1.25" ry="1.37"/>
<ellipse cx="290.13" cy="408.85" rx="1.25" ry="1.37"/>
<ellipse cx="290.25" cy="409.04" rx="1.25" ry="1.37"/>
<ellipse cx="290.68" cy="409.7" rx="1.25" ry="1.37"/>
<ellipse cx="291.76" cy="411.26" rx="1.25" ry="1.37"/>
<ellipse cx="292.1" cy="411.73" rx="1.25" ry="1.37"/>
<ellipse cx="292.22" cy="411.89" rx="1.25" ry="1.37"/>
<ellipse cx="292.62" cy="412.43" rx="1.25" ry="1.37"/>
<ellipse cx="293.15" cy="413.11" rx="1.25" ry="1.37"/>
<ellipse cx="294.62" cy="414.89" rx="1.25" ry="1.37"/>
<ellipse cx="294.76" cy="415.06" rx="1.25" ry="1.37"/>
<ellipse cx="295.16" cy="415.52" rx="1.25" ry="1.37"/>
<ellipse cx="295.43" cy="415.81" rx="1.25" ry="1.37"/>
<ellipse cx="296.48" cy="416.87" rx="1.25" ry="1.37"/>
<ellipse cx="296.63" cy="417.01" rx="1.25" ry="1.37"/>
<ellipse cx="297.57" cy="417.86" rx="1.25" ry="1.37"/>
<ellipse cx="298.78" cy="418.89" rx="1.25" ry="1.37"/>
<ellipse cx="299.25" cy="419.27" rx="1.25" ry="1.37"/>
<ellipse cx="299.82" cy="419.72" rx="1.25" ry="1.37"/>
<ellipse cx="301.66" cy="421.11" rx="1.25" ry="1.37"/>
<ellipse cx="301.78" cy="421.19" rx="1.25" ry="1.37"/>
<ellipse cx="301.9" cy="421.28" rx="1.25" ry="1.37"/>
<ellipse cx="302.19" cy="421.48" rx="1.25" ry="1.37"/>
<ellipse cx="302.78" cy="421.88" rx="1.25" ry="1.37"/>
<ellipse cx="303.35" cy="422.27" rx="1.25" ry="1.37"/>
<ellipse cx="303.47" cy="422.34" rx="1.25" ry="1.37"/>
<ellipse cx="303.59" cy="422.42" rx="1.25" ry="1.37"/>
<ellipse cx="305.24" cy="423.47" rx="1.25" ry="1.37"/>
<ellipse cx="306.39" cy="424.16" rx="1.25" ry="1.37"/>
<ellipse cx="306.58" cy="424.28" rx="1.25" ry="1.37"/>
<ellipse cx="306.7" cy="424.35" rx="1.25" ry="1.37"/>
<ellipse cx="307.45" cy="424.79" rx="1.25" ry="1.37"/>
<ellipse cx="307.71" cy="424.93" rx="1.25" ry="1.37"/>
<ellipse cx="308" cy="425.1" rx="1.25" ry="1.37"/>
<ellipse cx="308.12" cy="425.17" rx="1.25" ry="1.37"/>
<ellipse cx="310.15" cy="426.25" rx="1.25" ry="1.37"/>
<ellipse cx="310.79" cy="426.58" rx="1.25" ry="1.37"/>
<ellipse cx="310.91" cy="426.64" rx="1.25" ry="1.37"/>
<ellipse cx="311.03" cy="426.7" rx="1.25" ry="1.37"/>
<ellipse cx="312.61" cy="427.46" rx="1.25" ry="1.37"/>
<ellipse cx="313.34" cy="427.8" rx="1.25" ry="1.37"/>
<ellipse cx="313.56" cy="427.9" rx="1.25" ry="1.37"/>
<ellipse cx="314.17" cy="428.19" rx="1.25" ry="1.37"/>
<ellipse cx="314.31" cy="428.25" rx="1.25" ry="1.37"/>
<ellipse cx="314.43" cy="428.31" rx="1.25" ry="1.37"/>
<ellipse cx="315.63" cy="428.85" rx="1.25" ry="1.37"/>
<ellipse cx="315.9" cy="428.96" rx="1.25" ry="1.37"/>
<ellipse cx="316.22" cy="429.1" rx="1.25" ry="1.37"/>
<ellipse cx="317.83" cy="429.77" rx="1.25" ry="1.37"/>
<ellipse cx="318.06" cy="429.86" rx="1.25" ry="1.37"/>
<ellipse cx="318.4" cy="430" rx="1.25" ry="1.37"/>
<ellipse cx="318.52" cy="430.04" rx="1.25" ry="1.37"/>
<ellipse cx="318.92" cy="430.2" rx="1.25" ry="1.37"/>
<ellipse cx="320.47" cy="430.79" rx="1.25" ry="1.37"/>
<ellipse cx="321.11" cy="431.02" rx="1.25" ry="1.37"/>
<ellipse cx="321.23" cy="431.07" rx="1.25" ry="1.37"/>
<ellipse cx="321.35" cy="431.11" rx="1.25" ry="1.37"/>
<ellipse cx="321.65" cy="431.21" rx="1.25" ry="1.37"/>
<ellipse cx="322.76" cy="431.55" rx="1.25" ry="1.37"/>
<ellipse cx="323.38" cy="431.73" rx="1.25" ry="1.37"/>
<ellipse cx="323.86" cy="431.87" rx="1.25" ry="1.37"/>
<ellipse cx="323.98" cy="431.9" rx="1.25" ry="1.37"/>
<ellipse cx="324.1" cy="431.94" rx="1.25" ry="1.37"/>
<ellipse cx="325.19" cy="432.24" rx="1.25" ry="1.37"/>
<ellipse cx="325.31" cy="432.28" rx="1.25" ry="1.37"/>
<ellipse cx="326.27" cy="432.54" rx="1.25" ry="1.37"/>
<ellipse cx="327.77" cy="432.93" rx="1.25" ry="1.37"/>
<ellipse cx="328.46" cy="433.11" rx="1.25" ry="1.37"/>
<ellipse cx="328.94" cy="433.23" rx="1.25" ry="1.37"/>
<ellipse cx="329.36" cy="433.33" rx="1.25" ry="1.37"/>
<ellipse cx="330.22" cy="433.54" rx="1.25" ry="1.37"/>
<ellipse cx="332.46" cy="434.08" rx="1.25" ry="1.37"/>
<ellipse cx="332.58" cy="434.1" rx="1.25" ry="1.37"/>
<ellipse cx="332.7" cy="434.13" rx="1.25" ry="1.37"/>
<ellipse cx="332.86" cy="434.17" rx="1.25" ry="1.37"/>
<ellipse cx="334" cy="434.43" rx="1.25" ry="1.37"/>
<ellipse cx="334.56" cy="434.55" rx="1.25" ry="1.37"/>
<ellipse cx="335.15" cy="434.68" rx="1.25" ry="1.37"/>
<ellipse cx="336.25" cy="434.92" rx="1.25" ry="1.37"/>
<ellipse cx="336.37" cy="434.95" rx="1.25" ry="1.37"/>
<ellipse cx="337.1" cy="435.1" rx="1.25" ry="1.37"/>
<ellipse cx="338.12" cy="435.31" rx="1.25" ry="1.37"/>
<ellipse cx="338.71" cy="435.43" rx="1.25" ry="1.37"/>
<ellipse cx="339.12" cy="435.51" rx="1.25" ry="1.37"/>
<ellipse cx="340.59" cy="435.79" rx="1.25" ry="1.37"/>
<ellipse cx="342.85" cy="436.21" rx="1.25" ry="1.37"/>
<ellipse cx="342.97" cy="436.23" rx="1.25" ry="1.37"/>
<ellipse cx="343.16" cy="436.26" rx="1.25" ry="1.37"/>
<ellipse cx="345.12" cy="436.57" rx="1.25" ry="1.37"/>
<ellipse cx="345.31" cy="436.6" rx="1.25" ry="1.37"/>
<ellipse cx="346.23" cy="436.74" rx="1.25" ry="1.37"/>
<ellipse cx="347.17" cy="436.88" rx="1.25" ry="1.37"/>
<ellipse cx="347.77" cy="436.97" rx="1.25" ry="1.37"/>
<ellipse cx="347.92" cy="436.99" rx="1.25" ry="1.37"/>
<ellipse cx="348.7" cy="437.1" rx="1.25" ry="1.37"/>
<ellipse cx="350.41" cy="437.34" rx="1.25" ry="1.37"/>
<ellipse cx="350.56" cy="437.36" rx="1.25" ry="1.37"/>
<ellipse cx="352.18" cy="437.58" rx="1.25" ry="1.37"/>
<ellipse cx="353.85" cy="437.8" rx="1.25" ry="1.37"/>
<ellipse cx="354.57" cy="437.89" rx="1.25" ry="1.37"/>
<ellipse cx="355.26" cy="437.98" rx="1.25" ry="1.37"/>
<ellipse cx="355.38" cy="438" rx="1.25" ry="1.37"/>
<ellipse cx="356.18" cy="438.1" rx="1.25" ry="1.37"/>
<ellipse cx="357.53" cy="438.27" rx="1.25" ry="1.37"/>
<ellipse cx="357.74" cy="438.29" rx="1.25" ry="1.37"/>
<ellipse cx="358.2" cy="438.35" rx="1.25" ry="1.37"/>
<ellipse cx="358.87" cy="438.43" rx="1.25" ry="1.37"/>
<ellipse cx="359.81" cy="438.54" rx="1.25" ry="1.37"/>
<ellipse cx="360.77" cy="438.65" rx="1.25" ry="1.37"/>
<ellipse cx="360.89" cy="438.67" rx="1.25" ry="1.37"/>
<ellipse cx="361.91" cy="438.78" rx="1.25" ry="1.37"/>
<ellipse cx="363.68" cy="438.98" rx="1.25" ry="1.37"/>
<ellipse cx="365.15" cy="439.14" rx="1.25" ry="1.37"/>
<ellipse cx="365.61" cy="439.19" rx="1.25" ry="1.37"/>
<ellipse cx="365.97" cy="439.22" rx="1.25" ry="1.37"/>
<ellipse cx="366.09" cy="439.24" rx="1.25" ry="1.37"/>
<ellipse cx="367.14" cy="439.35" rx="1.25" ry="1.37"/>
<ellipse cx="367.26" cy="439.36" rx="1.25" ry="1.37"/>
<ellipse cx="367.57" cy="439.39" rx="1.25" ry="1.37"/>
<ellipse cx="367.72" cy="439.41" rx="1.25" ry="1.37"/>
<ellipse cx="370.01" cy="439.63" rx="1.25" ry="1.37"/>
<ellipse cx="370.68" cy="439.7" rx="1.25" ry="1.37"/>
<ellipse cx="371.08" cy="439.75" rx="1.25" ry="1.37"/>
<ellipse cx="371.75" cy="439.81" rx="1.25" ry="1.37"/>
<ellipse cx="372.89" cy="439.93" rx="1.25" ry="1.37"/>
<ellipse cx="373.01" cy="439.94" rx="1.25" ry="1.37"/>
<ellipse cx="373.54" cy="440" rx="1.25" ry="1.37"/>
<ellipse cx="373.7" cy="440.01" rx="1.25" ry="1.37"/>
<ellipse cx="375.27" cy="440.17" rx="1.25" ry="1.37"/>
<ellipse cx="376.2" cy="440.25" rx="1.25" ry="1.37"/>
<ellipse cx="376.98" cy="440.33" rx="1.25" ry="1.37"/>
<ellipse cx="377.42" cy="440.37" rx="1.25" ry="1.37"/>
<ellipse cx="378.68" cy="440.49" rx="1.25" ry="1.37"/>
<ellipse cx="378.9" cy="440.51" rx="1.25" ry="1.37"/>
<ellipse cx="381.19" cy="440.7" rx="1.25" ry="1.37"/>
<ellipse cx="382.5" cy="440.8" rx="1.25" ry="1.37"/>
<ellipse cx="382.69" cy="440.82" rx="1.25" ry="1.37"/>
<ellipse cx="383.59" cy="440.88" rx="1.25" ry="1.37"/>
<ellipse cx="383.84" cy="440.9" rx="1.25" ry="1.37"/>
<ellipse cx="384.01" cy="440.92" rx="1.25" ry="1.37"/>
<ellipse cx="384.16" cy="440.93" rx="1.25" ry="1.37"/>
<ellipse cx="384.55" cy="440.96" rx="1.25" ry="1.37"/>
<ellipse cx="385.35" cy="441.02" rx="1.25" ry="1.37"/>
<ellipse cx="385.84" cy="441.05" rx="1.25" ry="1.37"/>
<ellipse cx="386.52" cy="441.1" rx="1.25" ry="1.37"/>
<ellipse cx="386.64" cy="441.11" rx="1.25" ry="1.37"/>
<ellipse cx="386.76" cy="441.12" rx="1.25" ry="1.37"/>
<ellipse cx="387.26" cy="441.15" rx="1.25" ry="1.37"/>
<ellipse cx="389.12" cy="441.29" rx="1.25" ry="1.37"/>
<ellipse cx="389.64" cy="441.32" rx="1.25" ry="1.37"/>
<ellipse cx="390.3" cy="441.37" rx="1.25" ry="1.37"/>
<ellipse cx="390.64" cy="441.39" rx="1.25" ry="1.37"/>
<ellipse cx="391.37" cy="441.44" rx="1.25" ry="1.37"/>
<ellipse cx="391.49" cy="441.45" rx="1.25" ry="1.37"/>
<ellipse cx="393.34" cy="441.57" rx="1.25" ry="1.37"/>
<ellipse cx="393.86" cy="441.6" rx="1.25" ry="1.37"/>
<ellipse cx="396.15" cy="441.75" rx="1.25" ry="1.37"/>
<ellipse cx="397.39" cy="441.83" rx="1.25" ry="1.37"/>
<ellipse cx="397.54" cy="441.84" rx="1.25" ry="1.37"/>
<ellipse cx="398.23" cy="441.88" rx="1.25" ry="1.37"/>
<ellipse cx="398.35" cy="441.89" rx="1.25" ry="1.37"/>
<ellipse cx="398.48" cy="441.9" rx="1.25" ry="1.37"/>
<ellipse cx="398.91" cy="441.92" rx="1.25" ry="1.37"/>
<ellipse cx="399.21" cy="441.94" rx="1.25" ry="1.37"/>
<ellipse cx="399.66" cy="441.97" rx="1.25" ry="1.37"/>
<ellipse cx="400.55" cy="442.02" rx="1.25" ry="1.37"/>
<ellipse cx="402.85" cy="442.16" rx="1.25" ry="1.37"/>
<ellipse cx="403.77" cy="442.22" rx="1.25" ry="1.37"/>
<ellipse cx="404.59" cy="442.27" rx="1.25" ry="1.37"/>
<ellipse cx="406.88" cy="442.43" rx="1.25" ry="1.37"/>
<ellipse cx="407.64" cy="442.48" rx="1.25" ry="1.37"/>
<ellipse cx="409.93" cy="442.64" rx="1.25" ry="1.37"/>
<ellipse cx="410.54" cy="442.68" rx="1.25" ry="1.37"/>
<ellipse cx="412.84" cy="442.82" rx="1.25" ry="1.37"/>
<ellipse cx="412.99" cy="442.83" rx="1.25" ry="1.37"/>
<ellipse cx="414.78" cy="442.94" rx="1.25" ry="1.37"/>
<ellipse cx="414.9" cy="442.95" rx="1.25" ry="1.37"/>
<ellipse cx="415.92" cy="443.01" rx="1.25" ry="1.37"/>
<ellipse cx="416.38" cy="443.04" rx="1.25" ry="1.37"/>
<ellipse cx="418.68" cy="443.17" rx="1.25" ry="1.37"/>
<ellipse cx="419.16" cy="443.2" rx="1.25" ry="1.37"/>
<ellipse cx="419.62" cy="443.23" rx="1.25" ry="1.37"/>
<ellipse cx="419.74" cy="443.24" rx="1.25" ry="1.37"/>
<ellipse cx="421.35" cy="443.33" rx="1.25" ry="1.37"/>
<ellipse cx="422.24" cy="443.38" rx="1.25" ry="1.37"/>
<ellipse cx="422.73" cy="443.4" rx="1.25" ry="1.37"/>
<ellipse cx="422.85" cy="443.41" rx="1.25" ry="1.37"/>
<ellipse cx="424.46" cy="443.5" rx="1.25" ry="1.37"/>
<ellipse cx="424.76" cy="443.51" rx="1.25" ry="1.37"/>
<ellipse cx="425.08" cy="443.53" rx="1.25" ry="1.37"/>
<ellipse cx="425.54" cy="443.55" rx="1.25" ry="1.37"/>
<ellipse cx="425.67" cy="443.56" rx="1.25" ry="1.37"/>
<ellipse cx="426.72" cy="443.62" rx="1.25" ry="1.37"/>
<ellipse cx="426.95" cy="443.63" rx="1.25" ry="1.37"/>
<ellipse cx="427.23" cy="443.64" rx="1.25" ry="1.37"/>
<ellipse cx="427.52" cy="443.66" rx="1.25" ry="1.37"/>
<ellipse cx="427.88" cy="443.69" rx="1.25" ry="1.37"/>
<ellipse cx="428.85" cy="443.76" rx="1.25" ry="1.37"/>
<ellipse cx="429.32" cy="443.79" rx="1.25" ry="1.37"/>
<ellipse cx="431.03" cy="443.92" rx="1.25" ry="1.37"/>
<ellipse cx="432.38" cy="444.01" rx="1.25" ry="1.37"/>
<ellipse cx="433.61" cy="444.1" rx="1.25" ry="1.37"/>
<ellipse cx="433.8" cy="444.11" rx="1.25" ry="1.37"/>
<ellipse cx="434.62" cy="444.17" rx="1.25" ry="1.37"/>
<ellipse cx="434.78" cy="444.18" rx="1.25" ry="1.37"/>
</g>
<g stroke="#ff0000" stroke-width="0.45" fill="none">
<use href="#s1" x="270.62" y="284.75"/>
<use href="#s1" x="271.21" y="295.27"/>
<use href="#s1" x="271.4" y="297.66"/>
<use href="#s1" x="271.4" y="302.29"/>
<use href="#s1" x="271.5" y="305.79"/>
<use href="#s1" x="271.79" y="313.29"/>
<use href="#s1" x="272.37" y="318.07"/>
<use href="#s1" x="272.47" y="320.94"/>
<use href="#s1" x="272.62" y="324.44"/>
<use href="#s1" x="272.24" y="343.81"/>
<use href="#s1" x="281.9" y="392.74"/>
<use href="#s1" x="275.86" y="365.2"/>
<use href="#s1" x="283.09" y="394.53"/>
<use href="#s1" x="280" y="385.25"/>
<use href="#s1" x="286.34" y="403.06"/>
<use href="#s1" x="285.76" y="401.12"/>
<use href="#s1" x="276.99" y="370.75"/>
<use href="#s1" x="275.16" y="361.82"/>
<use href="#s1" x="280.53" y="384.72"/>
<use href="#s1" x="277.23" y="373.25"/>
<use href="#s1" x="286.19" y="401.47"/>
<use href="#s1" x="284.92" y="398.7"/>
<use href="#s1" x="283.94" y="396.24"/>
<use href="#s1" x="281.34" y="391.2"/>
<use href="#s1" x="277.05" y="373.11"/>
<use href="#s1" x="281.87" y="389.24"/>
<use href="#s1" x="286.72" y="401.02"/>
<use href="#s1" x="276.51" y="369.13"/>
<use href="#s1" x="280.31" y="386.59"/>
<use href="#s1" x="275.42" y="360.34"/>
<use href="#s1" x="282.03" y="392.45"/>
<use href="#s1" x="285.51" y="398.52"/>
<use href="#s1" x="275.14" y="359.95"/>
<use href="#s1" x="278.94" y="379.96"/>
<use href="#s1" x="273.75" y="352.86"/>
<use href="#s1" x="273.84" y="355.44"/>
<use href="#s1" x="282.84" y="392.87"/>
<use href="#s1" x="279.71" y="383.7"/>
<use href="#s1" x="277.77" y="375.07"/>
<use href="#s1" x="272.61" y="348.32"/>
<use href="#s1" x="282.89" y="392.1"/>
<use href="#s1" x="283.18" y="393.95"/>
<use href="#s1" x="286.37" y="402.79"/>
<use href="#s1" x="327.41" y="432.63"/>
<use href="#s1" x="303.49" y="422.8"/>
<use href="#s1" x="298.14" y="415.85"/>
<use href="#s1" x="290.91" y="408.07"/>
<use href="#s1" x="306.82" y="424.38"/>
<use href="#s1" x="398.96" y="441.8"/>
<use href="#s1" x="304.32" y="422.04"/>
<use href="#s1" x="376.24" y="439.83"/>
<use href="#s1" x="406.41" y="442.18"/>
<use href="#s1" x="348.54" y="436.23"/>
<use href="#s1" x="339.33" y="434.61"/>
<use href="#s1" x="340.1" y="435.78"/>
<use href="#s1" x="298" y="416.02"/>
<use href="#s1" x="385.02" y="440.11"/>
<use href="#s1" x="375.41" y="439.68"/>
<use href="#s1" x="302.43" y="419.44"/>
<use href="#s1" x="297.53" y="416.92"/>
<use href="#s1" x="299.75" y="418.97"/>
<use href="#s1" x="318.68" y="429.53"/>
<use href="#s1" x="379.04" y="440.08"/>
<use href="#s1" x="310.94" y="425.02"/>
<use href="#s1" x="383.28" y="440.11"/>
<use href="#s1" x="289.36" y="405.53"/>
<use href="#s1" x="413.39" y="442.78"/>
<use href="#s1" x="306.34" y="422.23"/>
<use href="#s1" x="325.92" y="431.98"/>
<use href="#s1" x="398.38" y="441.68"/>
<use href="#s1" x="305.93" y="423.78"/>
<use href="#s1" x="323.54" y="430.66"/>
<use href="#s1" x="326.49" y="431.37"/>
<use href="#s1" x="292.39" y="411.83"/>
<use href="#s1" x="364.45" y="438.66"/>
<use href="#s1" x="344.92" y="435.3"/>
<use href="#s1" x="315.03" y="428.58"/>
<use href="#s1" x="289.43" y="406.28"/>
<use href="#s1" x="317.44" y="428.91"/>
<use href="#s1" x="286.95" y="404.53"/>
<use href="#s1" x="328.01" y="431.82"/>
<use href="#s1" x="317.85" y="428.03"/>
<use href="#s1" x="357.11" y="437.89"/>
<use href="#s1" x="390.86" y="441.35"/>
<use href="#s1" x="361.24" y="437.77"/>
<use href="#s1" x="351.12" y="437.22"/>
<use href="#s1" x="295.27" y="414.09"/>
<use href="#s1" x="304.73" y="422.56"/>
<use href="#s1" x="351.35" y="436.3"/>
<use href="#s1" x="372.54" y="439.47"/>
<use href="#s1" x="406.15" y="442.26"/>
<use href="#s1" x="329.07" y="432.27"/>
<use href="#s1" x="353.17" y="437.65"/>
<use href="#s1" x="332.2" y="432.78"/>
<use href="#s1" x="310.89" y="425.2"/>
<use href="#s1" x="290.74" y="406.24"/>
<use href="#s1" x="374.37" y="439.9"/>
<use href="#s1" x="431.25" y="443.42"/>
<use href="#s1" x="291.99" y="411.29"/>
<use href="#s1" x="343.72" y="434.99"/>
<use href="#s1" x="299.76" y="420.14"/>
<use href="#s1" x="319.36" y="430.69"/>
<use href="#s1" x="331.96" y="433.27"/>
<use href="#s1" x="336.33" y="435.01"/>
<use href="#s1" x="288.49" y="403.04"/>
<use href="#s1" x="336.27" y="434.38"/>
<use href="#s1" x="341.72" y="435.15"/>
<use href="#s1" x="414.45" y="442.31"/>
<use href="#s1" x="381.87" y="440.57"/>
<use href="#s1" x="436.24" y="444.25"/>
<use href="#s1" x="438.19" y="444.33"/>
</g>
<path d="M281.61 451.5v-2M281.61 260.2v2M305.93 451.5v-2M305.93 260.2v2M330.24 451.5v-2M330.24 260.2v2M354.55 451.5v-2M354.55 260.2v2M378.86 451.5v-2M378.86 260.2v2M403.18 451.5v-2M403.18 260.2v2M427.49 451.5v-2M427.49 260.2v2M257.3 419.62h2M451.8 419.62h-2M257.3 387.73h2M451.8 387.73h-2M257.3 355.85h2M451.8 355.85h-2M257.3 323.97h2M451.8 323.97h-2M257.3 292.08h2M451.8 292.08h-2" stroke="#454545" stroke-width="0.8" fill="none"/>
<rect x="257.3" y="260.2" width="194.5" height="191.3" fill="none" stroke="#454545" stroke-width="0.8"/>
<text class="ss" transform="translate(257.3,462) scale(0.756,1.0)" font-size="8.0" text-anchor="middle" fill="#1c1c1c" stroke="#1c1c1c" stroke-width="0.14">0</text>
<text class="ss" transform="translate(281.61,462) scale(0.756,1.0)" font-size="8.0" text-anchor="middle" fill="#1c1c1c" stroke="#1c1c1c" stroke-width="0.14">5</text>
<text class="ss" transform="translate(305.93,462) scale(0.756,1.0)" font-size="8.0" text-anchor="middle" fill="#1c1c1c" stroke="#1c1c1c" stroke-width="0.14">10</text>
<text class="ss" transform="translate(330.24,462) scale(0.756,1.0)" font-size="8.0" text-anchor="middle" fill="#1c1c1c" stroke="#1c1c1c" stroke-width="0.14">15</text>
<text class="ss" transform="translate(354.55,462) scale(0.756,1.0)" font-size="8.0" text-anchor="middle" fill="#1c1c1c" stroke="#1c1c1c" stroke-width="0.14">20</text>
<text class="ss" transform="translate(378.86,462) scale(0.756,1.0)" font-size="8.0" text-anchor="middle" fill="#1c1c1c" stroke="#1c1c1c" stroke-width="0.14">25</text>
<text class="ss" transform="translate(403.18,462) scale(0.756,1.0)" font-size="8.0" text-anchor="middle" fill="#1c1c1c" stroke="#1c1c1c" stroke-width="0.14">30</text>
<text class="ss" transform="translate(427.49,462) scale(0.756,1.0)" font-size="8.0" text-anchor="middle" fill="#1c1c1c" stroke="#1c1c1c" stroke-width="0.14">35</text>
<text class="ss" transform="translate(451.8,462) scale(0.756,1.0)" font-size="8.0" text-anchor="middle" fill="#1c1c1c" stroke="#1c1c1c" stroke-width="0.14">40</text>
<text class="ss" transform="translate(254.7,454.8) scale(0.756,1.0)" font-size="8.0" text-anchor="end" fill="#1c1c1c" stroke="#1c1c1c" stroke-width="0.14">0</text>
<text class="ss" transform="translate(254.7,422.92) scale(0.756,1.0)" font-size="8.0" text-anchor="end" fill="#1c1c1c" stroke="#1c1c1c" stroke-width="0.14">0.002</text>
<text class="ss" transform="translate(254.7,391.03) scale(0.756,1.0)" font-size="8.0" text-anchor="end" fill="#1c1c1c" stroke="#1c1c1c" stroke-width="0.14">0.004</text>
<text class="ss" transform="translate(254.7,359.15) scale(0.756,1.0)" font-size="8.0" text-anchor="end" fill="#1c1c1c" stroke="#1c1c1c" stroke-width="0.14">0.006</text>
<text class="ss" transform="translate(254.7,327.27) scale(0.756,1.0)" font-size="8.0" text-anchor="end" fill="#1c1c1c" stroke="#1c1c1c" stroke-width="0.14">0.008</text>
<text class="ss" transform="translate(254.7,295.38) scale(0.756,1.0)" font-size="8.0" text-anchor="end" fill="#1c1c1c" stroke="#1c1c1c" stroke-width="0.14">0.01</text>
<text class="ss" transform="translate(254.7,263.5) scale(0.756,1.0)" font-size="8.0" text-anchor="end" fill="#1c1c1c" stroke="#1c1c1c" stroke-width="0.14">0.012</text>
<text class="ss" transform="translate(353.75,473) scale(0.756,1.0)" font-size="8.0" text-anchor="middle" fill="#1c1c1c" stroke="#1c1c1c" stroke-width="0.14">f1</text>
<text class="ss" transform="translate(235.6,356.25) rotate(-90) scale(1.0,0.756)" font-size="8.0" text-anchor="middle" fill="#1c1c1c" stroke="#1c1c1c" stroke-width="0.14">f2</text>
<text class="ss" transform="translate(354.55,256.7) scale(0.72,1.0)" font-size="9.2" text-anchor="middle" font-weight="700" fill="#1c1c1c" stroke="#1c1c1c" stroke-width="0.36">MOWO</text>
<rect x="394.6" y="266.1" width="52.4" height="20.4" fill="#fff" stroke="#585858" stroke-width="0.7"/>
<ellipse cx="405.45" cy="271.9" rx="1.4" ry="1.52" fill="#00ee00" stroke="#000" stroke-width="0.55"/>
<use href="#s1" x="405.45" y="281.1" stroke="#ff0000" stroke-width="0.5"/>
<text class="ss" transform="translate(416.3,274.3) scale(0.816,1.0)" font-size="6.4" text-anchor="start" fill="#1c1c1c" stroke="#1c1c1c" stroke-width="0.14">true PF</text>
<text class="ss" transform="translate(416.3,283.6) scale(0.816,1.0)" font-size="6.4" text-anchor="start" fill="#1c1c1c" stroke="#1c1c1c" stroke-width="0.14">obtained PF</text>
<text class="sf" transform="translate(356.2,491.8)" font-size="18.6" text-anchor="middle" fill="#111" stroke="#111" stroke-width="0.14">(e)</text>
</g>
<g>
<rect x="491.6" y="260.3" width="189.3" height="191.1" fill="#fff"/>
<path d="M538.92 260.3V451.4M586.25 260.3V451.4M633.58 260.3V451.4M491.6 427.51H680.9M491.6 403.62H680.9M491.6 379.74H680.9M491.6 355.85H680.9M491.6 331.96H680.9M491.6 308.07H680.9M491.6 284.19H680.9" stroke="#ebebeb" stroke-width="0.8" fill="none"/>
<g fill="#00b850" stroke="#0000ff" stroke-width="0.55">
<circle cx="502.22" cy="322.43" r="1.12"/>
<circle cx="502.77" cy="324.28" r="1.12"/>
<circle cx="502.82" cy="328.08" r="1.12"/>
<circle cx="502.82" cy="331.8" r="1.12"/>
<circle cx="502.82" cy="335.29" r="1.12"/>
<circle cx="503.67" cy="340.94" r="1.12"/>
<circle cx="504.38" cy="351.07" r="1.12"/>
<circle cx="505.16" cy="360.87" r="1.12"/>
<circle cx="505.86" cy="368.15" r="1.12"/>
<circle cx="506.43" cy="373.01" r="1.12"/>
<circle cx="507" cy="375.96" r="1.12"/>
<circle cx="507.57" cy="379.09" r="1.12"/>
<circle cx="508.37" cy="382.48" r="1.12"/>
<circle cx="508.93" cy="384.91" r="1.12"/>
<circle cx="509.5" cy="387.51" r="1.12"/>
<circle cx="510.19" cy="389.87" r="1.12"/>
<circle cx="510.74" cy="393.1" r="1.12"/>
<circle cx="511.6" cy="396.31" r="1.12"/>
<circle cx="511.72" cy="396.72" r="1.12"/>
<circle cx="511.84" cy="397.13" r="1.12"/>
<circle cx="512.05" cy="397.84" r="1.12"/>
<circle cx="512.82" cy="400.18" r="1.12"/>
<circle cx="513.4" cy="401.8" r="1.12"/>
<circle cx="514.16" cy="403.76" r="1.12"/>
<circle cx="514.76" cy="405.3" r="1.12"/>
<circle cx="515.25" cy="406.48" r="1.12"/>
<circle cx="515.38" cy="406.76" r="1.12"/>
<circle cx="516.45" cy="408.66" r="1.12"/>
<circle cx="517.57" cy="410.7" r="1.12"/>
<circle cx="517.69" cy="410.93" r="1.12"/>
<circle cx="517.81" cy="411.15" r="1.12"/>
<circle cx="518.51" cy="412.44" r="1.12"/>
<circle cx="519.73" cy="414.47" r="1.12"/>
<circle cx="519.85" cy="414.64" r="1.12"/>
<circle cx="520.27" cy="415.23" r="1.12"/>
<circle cx="520.39" cy="415.39" r="1.12"/>
<circle cx="520.69" cy="415.8" r="1.12"/>
<circle cx="520.83" cy="415.99" r="1.12"/>
<circle cx="521" cy="416.2" r="1.12"/>
<circle cx="521.12" cy="416.36" r="1.12"/>
<circle cx="521.6" cy="416.97" r="1.12"/>
<circle cx="522" cy="417.47" r="1.12"/>
<circle cx="522.19" cy="417.72" r="1.12"/>
<circle cx="522.31" cy="417.88" r="1.12"/>
<circle cx="523.58" cy="419.48" r="1.12"/>
<circle cx="523.7" cy="419.62" r="1.12"/>
<circle cx="523.98" cy="419.95" r="1.12"/>
<circle cx="524.57" cy="420.63" r="1.12"/>
<circle cx="524.95" cy="421.05" r="1.12"/>
<circle cx="525.15" cy="421.27" r="1.12"/>
<circle cx="526.77" cy="422.91" r="1.12"/>
<circle cx="527.7" cy="423.78" r="1.12"/>
<circle cx="528.56" cy="424.54" r="1.12"/>
<circle cx="528.96" cy="424.88" r="1.12"/>
<circle cx="529.27" cy="425.12" r="1.12"/>
<circle cx="529.44" cy="425.24" r="1.12"/>
<circle cx="529.66" cy="425.4" r="1.12"/>
<circle cx="531.07" cy="426.38" r="1.12"/>
<circle cx="531.59" cy="426.72" r="1.12"/>
<circle cx="531.71" cy="426.8" r="1.12"/>
<circle cx="532.06" cy="427.02" r="1.12"/>
<circle cx="534.01" cy="428.2" r="1.12"/>
<circle cx="534.6" cy="428.54" r="1.12"/>
<circle cx="534.87" cy="428.68" r="1.12"/>
<circle cx="535.67" cy="429.11" r="1.12"/>
<circle cx="536.12" cy="429.35" r="1.12"/>
<circle cx="536.5" cy="429.54" r="1.12"/>
<circle cx="536.96" cy="429.77" r="1.12"/>
<circle cx="537.86" cy="430.21" r="1.12"/>
<circle cx="538.83" cy="430.66" r="1.12"/>
<circle cx="540.43" cy="431.39" r="1.12"/>
<circle cx="540.7" cy="431.51" r="1.12"/>
<circle cx="540.97" cy="431.63" r="1.12"/>
<circle cx="541.25" cy="431.75" r="1.12"/>
<circle cx="541.82" cy="431.99" r="1.12"/>
<circle cx="541.94" cy="432.04" r="1.12"/>
<circle cx="542.52" cy="432.28" r="1.12"/>
<circle cx="542.73" cy="432.36" r="1.12"/>
<circle cx="543.4" cy="432.63" r="1.12"/>
<circle cx="543.52" cy="432.68" r="1.12"/>
<circle cx="544.69" cy="433.12" r="1.12"/>
<circle cx="546.23" cy="433.67" r="1.12"/>
<circle cx="546.35" cy="433.72" r="1.12"/>
<circle cx="546.8" cy="433.88" r="1.12"/>
<circle cx="546.92" cy="433.92" r="1.12"/>
<circle cx="548.2" cy="434.37" r="1.12"/>
<circle cx="549.39" cy="434.76" r="1.12"/>
<circle cx="549.87" cy="434.92" r="1.12"/>
<circle cx="550.04" cy="434.97" r="1.12"/>
<circle cx="550.91" cy="435.24" r="1.12"/>
<circle cx="553.11" cy="435.89" r="1.12"/>
<circle cx="554.02" cy="436.14" r="1.12"/>
<circle cx="554.16" cy="436.18" r="1.12"/>
<circle cx="555.23" cy="436.43" r="1.12"/>
<circle cx="555.35" cy="436.46" r="1.12"/>
<circle cx="555.66" cy="436.53" r="1.12"/>
<circle cx="557.9" cy="437.02" r="1.12"/>
<circle cx="558.59" cy="437.16" r="1.12"/>
<circle cx="558.71" cy="437.19" r="1.12"/>
<circle cx="558.83" cy="437.21" r="1.12"/>
<circle cx="559" cy="437.25" r="1.12"/>
<circle cx="559.71" cy="437.39" r="1.12"/>
<circle cx="560.3" cy="437.51" r="1.12"/>
<circle cx="560.42" cy="437.53" r="1.12"/>
<circle cx="561.26" cy="437.7" r="1.12"/>
<circle cx="562.14" cy="437.86" r="1.12"/>
<circle cx="563.41" cy="438.1" r="1.12"/>
<circle cx="563.54" cy="438.12" r="1.12"/>
<circle cx="563.68" cy="438.15" r="1.12"/>
<circle cx="563.83" cy="438.18" r="1.12"/>
<circle cx="564.17" cy="438.24" r="1.12"/>
<circle cx="564.65" cy="438.33" r="1.12"/>
<circle cx="564.87" cy="438.37" r="1.12"/>
<circle cx="565.4" cy="438.46" r="1.12"/>
<circle cx="565.52" cy="438.48" r="1.12"/>
<circle cx="565.65" cy="438.51" r="1.12"/>
<circle cx="567.05" cy="438.75" r="1.12"/>
<circle cx="567.17" cy="438.77" r="1.12"/>
<circle cx="567.29" cy="438.79" r="1.12"/>
<circle cx="567.41" cy="438.81" r="1.12"/>
<circle cx="567.53" cy="438.83" r="1.12"/>
<circle cx="567.92" cy="438.89" r="1.12"/>
<circle cx="569.68" cy="439.18" r="1.12"/>
<circle cx="571.2" cy="439.41" r="1.12"/>
<circle cx="571.54" cy="439.47" r="1.12"/>
<circle cx="572.76" cy="439.65" r="1.12"/>
<circle cx="572.88" cy="439.66" r="1.12"/>
<circle cx="574.38" cy="439.88" r="1.12"/>
<circle cx="576.21" cy="440.11" r="1.12"/>
<circle cx="576.83" cy="440.18" r="1.12"/>
<circle cx="577.58" cy="440.27" r="1.12"/>
<circle cx="578.03" cy="440.32" r="1.12"/>
<circle cx="578.75" cy="440.41" r="1.12"/>
<circle cx="578.87" cy="440.42" r="1.12"/>
<circle cx="578.99" cy="440.44" r="1.12"/>
<circle cx="579.94" cy="440.54" r="1.12"/>
<circle cx="580.27" cy="440.58" r="1.12"/>
<circle cx="580.72" cy="440.63" r="1.12"/>
<circle cx="583.01" cy="440.87" r="1.12"/>
<circle cx="583.15" cy="440.89" r="1.12"/>
<circle cx="583.9" cy="440.97" r="1.12"/>
<circle cx="584.02" cy="440.98" r="1.12"/>
<circle cx="584.87" cy="441.07" r="1.12"/>
<circle cx="584.99" cy="441.08" r="1.12"/>
<circle cx="586.98" cy="441.28" r="1.12"/>
<circle cx="587.15" cy="441.29" r="1.12"/>
<circle cx="587.27" cy="441.3" r="1.12"/>
<circle cx="588.17" cy="441.39" r="1.12"/>
<circle cx="588.3" cy="441.4" r="1.12"/>
<circle cx="589.94" cy="441.56" r="1.12"/>
<circle cx="590.06" cy="441.57" r="1.12"/>
<circle cx="591.15" cy="441.67" r="1.12"/>
<circle cx="591.27" cy="441.68" r="1.12"/>
<circle cx="592.5" cy="441.79" r="1.12"/>
<circle cx="594.06" cy="441.93" r="1.12"/>
<circle cx="594.4" cy="441.96" r="1.12"/>
<circle cx="594.52" cy="441.97" r="1.12"/>
<circle cx="596.15" cy="442.1" r="1.12"/>
<circle cx="596.31" cy="442.12" r="1.12"/>
<circle cx="596.43" cy="442.13" r="1.12"/>
<circle cx="598.73" cy="442.31" r="1.12"/>
<circle cx="599.14" cy="442.34" r="1.12"/>
<circle cx="599.72" cy="442.39" r="1.12"/>
<circle cx="601.09" cy="442.49" r="1.12"/>
<circle cx="601.62" cy="442.54" r="1.12"/>
<circle cx="601.74" cy="442.55" r="1.12"/>
<circle cx="601.93" cy="442.56" r="1.12"/>
<circle cx="602.09" cy="442.57" r="1.12"/>
<circle cx="602.31" cy="442.59" r="1.12"/>
<circle cx="602.52" cy="442.61" r="1.12"/>
<circle cx="602.7" cy="442.62" r="1.12"/>
<circle cx="605" cy="442.8" r="1.12"/>
<circle cx="605.4" cy="442.83" r="1.12"/>
<circle cx="606.68" cy="442.93" r="1.12"/>
<circle cx="607.14" cy="442.96" r="1.12"/>
<circle cx="607.83" cy="443.01" r="1.12"/>
<circle cx="608.21" cy="443.04" r="1.12"/>
<circle cx="610.51" cy="443.2" r="1.12"/>
<circle cx="611.01" cy="443.24" r="1.12"/>
<circle cx="611.62" cy="443.27" r="1.12"/>
<circle cx="612.11" cy="443.3" r="1.12"/>
<circle cx="612.27" cy="443.31" r="1.12"/>
<circle cx="613.03" cy="443.36" r="1.12"/>
<circle cx="613.34" cy="443.38" r="1.12"/>
<circle cx="614.49" cy="443.45" r="1.12"/>
<circle cx="614.75" cy="443.46" r="1.12"/>
<circle cx="614.9" cy="443.47" r="1.12"/>
<circle cx="615.03" cy="443.48" r="1.12"/>
<circle cx="615.2" cy="443.49" r="1.12"/>
<circle cx="616.14" cy="443.54" r="1.12"/>
<circle cx="616.53" cy="443.56" r="1.12"/>
<circle cx="616.65" cy="443.57" r="1.12"/>
<circle cx="617.39" cy="443.61" r="1.12"/>
<circle cx="618.23" cy="443.66" r="1.12"/>
<circle cx="618.89" cy="443.69" r="1.12"/>
<circle cx="619.86" cy="443.75" r="1.12"/>
<circle cx="619.98" cy="443.75" r="1.12"/>
<circle cx="621.46" cy="443.83" r="1.12"/>
<circle cx="621.63" cy="443.84" r="1.12"/>
<circle cx="622.14" cy="443.87" r="1.12"/>
<circle cx="622.63" cy="443.89" r="1.12"/>
<circle cx="624" cy="443.96" r="1.12"/>
<circle cx="624.32" cy="443.98" r="1.12"/>
<circle cx="626.62" cy="444.09" r="1.12"/>
<circle cx="626.93" cy="444.11" r="1.12"/>
<circle cx="627.72" cy="444.14" r="1.12"/>
<circle cx="628.31" cy="444.17" r="1.12"/>
<circle cx="628.93" cy="444.2" r="1.12"/>
<circle cx="629.11" cy="444.21" r="1.12"/>
<circle cx="629.42" cy="444.22" r="1.12"/>
<circle cx="629.72" cy="444.24" r="1.12"/>
<circle cx="629.9" cy="444.25" r="1.12"/>
<circle cx="630.05" cy="444.25" r="1.12"/>
<circle cx="630.46" cy="444.27" r="1.12"/>
<circle cx="631.8" cy="444.33" r="1.12"/>
<circle cx="633.7" cy="444.42" r="1.12"/>
<circle cx="634.5" cy="444.46" r="1.12"/>
<circle cx="634.91" cy="444.49" r="1.12"/>
<circle cx="636.03" cy="444.55" r="1.12"/>
<circle cx="636.57" cy="444.57" r="1.12"/>
<circle cx="636.69" cy="444.58" r="1.12"/>
<circle cx="636.81" cy="444.59" r="1.12"/>
<circle cx="637.85" cy="444.64" r="1.12"/>
<circle cx="638.74" cy="444.69" r="1.12"/>
<circle cx="638.99" cy="444.7" r="1.12"/>
<circle cx="639.84" cy="444.74" r="1.12"/>
<circle cx="639.96" cy="444.75" r="1.12"/>
<circle cx="641.6" cy="444.83" r="1.12"/>
<circle cx="642.92" cy="444.9" r="1.12"/>
<circle cx="643.32" cy="444.91" r="1.12"/>
<circle cx="643.44" cy="444.92" r="1.12"/>
<circle cx="644.15" cy="444.95" r="1.12"/>
<circle cx="644.77" cy="444.98" r="1.12"/>
<circle cx="645.39" cy="445.01" r="1.12"/>
<circle cx="645.51" cy="445.02" r="1.12"/>
<circle cx="646.4" cy="445.06" r="1.12"/>
<circle cx="647.06" cy="445.09" r="1.12"/>
<circle cx="648.55" cy="445.16" r="1.12"/>
<circle cx="649.3" cy="445.19" r="1.12"/>
<circle cx="649.8" cy="445.21" r="1.12"/>
<circle cx="650.08" cy="445.22" r="1.12"/>
<circle cx="652.38" cy="445.32" r="1.12"/>
<circle cx="652.75" cy="445.34" r="1.12"/>
<circle cx="653.4" cy="445.37" r="1.12"/>
<circle cx="653.89" cy="445.39" r="1.12"/>
<circle cx="654.79" cy="445.42" r="1.12"/>
<circle cx="655.11" cy="445.44" r="1.12"/>
<circle cx="655.23" cy="445.44" r="1.12"/>
<circle cx="656.89" cy="445.51" r="1.12"/>
<circle cx="659.17" cy="445.63" r="1.12"/>
<circle cx="659.97" cy="445.68" r="1.12"/>
<circle cx="660.55" cy="445.71" r="1.12"/>
<circle cx="661.66" cy="445.77" r="1.12"/>
<circle cx="661.99" cy="445.79" r="1.12"/>
<circle cx="662.5" cy="445.82" r="1.12"/>
<circle cx="662.65" cy="445.83" r="1.12"/>
<circle cx="664.03" cy="445.9" r="1.12"/>
<circle cx="664.34" cy="445.91" r="1.12"/>
</g>
<g stroke="#ff0000" stroke-width="0.5" fill="none">
<use href="#s2" x="502.3" y="271.65"/>
<use href="#s2" x="503.03" y="315.6"/>
<use href="#s2" x="503.03" y="321.45"/>
<use href="#s2" x="503.34" y="342.47"/>
<use href="#s2" x="504.61" y="367.79"/>
<use href="#s2" x="507.79" y="384.68"/>
<use href="#s2" x="508.26" y="388.64"/>
<use href="#s2" x="510.62" y="398.43"/>
<use href="#s2" x="513.32" y="402.12"/>
<use href="#s2" x="514.88" y="409.24"/>
<use href="#s2" x="516.16" y="410.79"/>
<use href="#s2" x="517.3" y="412.7"/>
<use href="#s2" x="518.39" y="414.25"/>
<use href="#s2" x="521.23" y="418.72"/>
<use href="#s2" x="516.84" y="411.27"/>
<use href="#s2" x="522.32" y="420.78"/>
<use href="#s2" x="518.54" y="415.71"/>
<use href="#s2" x="518.15" y="415.95"/>
<use href="#s2" x="521.7" y="418.9"/>
<use href="#s2" x="513.4" y="406.44"/>
<use href="#s2" x="519.3" y="416.06"/>
<use href="#s2" x="521.75" y="419.29"/>
<use href="#s2" x="522.09" y="419.86"/>
<use href="#s2" x="521.01" y="418.23"/>
<use href="#s2" x="512.79" y="406.92"/>
<use href="#s2" x="523.94" y="421.04"/>
<use href="#s2" x="518.93" y="415.75"/>
<use href="#s2" x="521.58" y="419.81"/>
<use href="#s2" x="530.47" y="428.41"/>
<use href="#s2" x="561.08" y="438.7"/>
<use href="#s2" x="525.47" y="423.95"/>
<use href="#s2" x="565.6" y="439.94"/>
<use href="#s2" x="552.35" y="437.55"/>
<use href="#s2" x="540.82" y="432.22"/>
<use href="#s2" x="524.93" y="426.04"/>
<use href="#s2" x="567.8" y="440.06"/>
<use href="#s2" x="529.14" y="428.53"/>
<use href="#s2" x="566.73" y="439.71"/>
<use href="#s2" x="573.07" y="440.48"/>
<use href="#s2" x="546.36" y="435.84"/>
<use href="#s2" x="545.32" y="435.9"/>
<use href="#s2" x="538.15" y="432.52"/>
<use href="#s2" x="536.91" y="431.72"/>
<use href="#s2" x="579.79" y="441.87"/>
<use href="#s2" x="566.6" y="439.45"/>
<use href="#s2" x="532.61" y="428.36"/>
<use href="#s2" x="562.11" y="438.5"/>
<use href="#s2" x="555.44" y="437.38"/>
<use href="#s2" x="534.72" y="430.01"/>
<use href="#s2" x="584.93" y="442.19"/>
<use href="#s2" x="553.88" y="438.25"/>
<use href="#s2" x="576.66" y="440.6"/>
<use href="#s2" x="555.39" y="438.18"/>
<use href="#s2" x="551.11" y="436.29"/>
<use href="#s2" x="564.89" y="438.99"/>
<use href="#s2" x="551.02" y="436.54"/>
<use href="#s2" x="561.5" y="439.66"/>
<use href="#s2" x="540.01" y="433.62"/>
<use href="#s2" x="557.06" y="438.82"/>
<use href="#s2" x="537.63" y="431.73"/>
<use href="#s2" x="569.93" y="439.97"/>
<use href="#s2" x="550.43" y="436.16"/>
<use href="#s2" x="532.7" y="428.62"/>
<use href="#s2" x="549.47" y="437.12"/>
<use href="#s2" x="525.7" y="426.14"/>
<use href="#s2" x="564.98" y="439.74"/>
<use href="#s2" x="532.75" y="429.63"/>
<use href="#s2" x="543.29" y="434.87"/>
<use href="#s2" x="534" y="430.81"/>
<use href="#s2" x="530.63" y="428.82"/>
<use href="#s2" x="524.42" y="423.58"/>
<use href="#s2" x="524.38" y="424.92"/>
<use href="#s2" x="544.37" y="434.55"/>
<use href="#s2" x="555.67" y="437.9"/>
<use href="#s2" x="629.25" y="444.18"/>
<use href="#s2" x="600.61" y="442.85"/>
<use href="#s2" x="622.93" y="443.85"/>
<use href="#s2" x="647.04" y="444.98"/>
<use href="#s2" x="619.49" y="443.69"/>
<use href="#s2" x="594.29" y="442.18"/>
<use href="#s2" x="591.31" y="441.54"/>
<use href="#s2" x="661.95" y="445.79"/>
<use href="#s2" x="643.23" y="445.08"/>
<use href="#s2" x="646.44" y="445.39"/>
<use href="#s2" x="614.31" y="443.66"/>
<use href="#s2" x="651.67" y="445.56"/>
<use href="#s2" x="598.3" y="442.75"/>
<use href="#s2" x="650.07" y="445.42"/>
<use href="#s2" x="654.63" y="445.61"/>
<use href="#s2" x="649.61" y="445.47"/>
<use href="#s2" x="654.59" y="445.25"/>
<use href="#s2" x="652.76" y="445.33"/>
<use href="#s2" x="654.12" y="445.26"/>
<use href="#s2" x="659.23" y="445.84"/>
<use href="#s2" x="650.6" y="445.19"/>
<use href="#s2" x="612.44" y="443.69"/>
<use href="#s2" x="654.37" y="445.51"/>
<use href="#s2" x="626.39" y="443.93"/>
<use href="#s2" x="622.89" y="444.18"/>
<use href="#s2" x="638.19" y="444.74"/>
<use href="#s2" x="606.88" y="442.92"/>
<use href="#s2" x="654.7" y="445.65"/>
<use href="#s2" x="647.79" y="445.07"/>
<use href="#s2" x="625.81" y="444.36"/>
<use href="#s2" x="636.6" y="444.81"/>
<use href="#s2" x="605.24" y="442.68"/>
<use href="#s2" x="606.74" y="443.37"/>
<use href="#s2" x="650.27" y="445.05"/>
<use href="#s2" x="609.37" y="443.32"/>
<use href="#s2" x="627.48" y="444.08"/>
<use href="#s2" x="587.17" y="441.31"/>
<use href="#s2" x="603.94" y="442.52"/>
<use href="#s2" x="617.65" y="443.43"/>
<use href="#s2" x="620.34" y="443.78"/>
<use href="#s2" x="589.12" y="441.9"/>
<use href="#s2" x="608.68" y="443.3"/>
</g>
<path d="M538.92 451.4v-2M538.92 260.3v2M586.25 451.4v-2M586.25 260.3v2M633.58 451.4v-2M633.58 260.3v2M491.6 427.51h2M680.9 427.51h-2M491.6 403.62h2M680.9 403.62h-2M491.6 379.74h2M680.9 379.74h-2M491.6 355.85h2M680.9 355.85h-2M491.6 331.96h2M680.9 331.96h-2M491.6 308.07h2M680.9 308.07h-2M491.6 284.19h2M680.9 284.19h-2" stroke="#6e6e6e" stroke-width="0.7" fill="none"/>
<rect x="491.6" y="260.3" width="189.3" height="191.1" fill="none" stroke="#6e6e6e" stroke-width="0.7"/>
<text class="ss" transform="translate(491.6,462.5)" font-size="7.25" text-anchor="middle" fill="#1c1c1c" stroke="#1c1c1c" stroke-width="0.08">0</text>
<text class="ss" transform="translate(538.92,462.5)" font-size="7.25" text-anchor="middle" fill="#1c1c1c" stroke="#1c1c1c" stroke-width="0.08">10</text>
<text class="ss" transform="translate(586.25,462.5)" font-size="7.25" text-anchor="middle" fill="#1c1c1c" stroke="#1c1c1c" stroke-width="0.08">20</text>
<text class="ss" transform="translate(633.58,462.5)" font-size="7.25" text-anchor="middle" fill="#1c1c1c" stroke="#1c1c1c" stroke-width="0.08">30</text>
<text class="ss" transform="translate(680.9,462.5)" font-size="7.25" text-anchor="middle" fill="#1c1c1c" stroke="#1c1c1c" stroke-width="0.08">40</text>
<text class="ss" transform="translate(488.6,454)" font-size="7.25" text-anchor="end" fill="#1c1c1c" stroke="#1c1c1c" stroke-width="0.08">0</text>
<text class="ss" transform="translate(488.6,430.11)" font-size="7.25" text-anchor="end" fill="#1c1c1c" stroke="#1c1c1c" stroke-width="0.08">0.002</text>
<text class="ss" transform="translate(488.6,406.23)" font-size="7.25" text-anchor="end" fill="#1c1c1c" stroke="#1c1c1c" stroke-width="0.08">0.004</text>
<text class="ss" transform="translate(488.6,382.34)" font-size="7.25" text-anchor="end" fill="#1c1c1c" stroke="#1c1c1c" stroke-width="0.08">0.006</text>
<text class="ss" transform="translate(488.6,358.45)" font-size="7.25" text-anchor="end" fill="#1c1c1c" stroke="#1c1c1c" stroke-width="0.08">0.008</text>
<text class="ss" transform="translate(488.6,334.56)" font-size="7.25" text-anchor="end" fill="#1c1c1c" stroke="#1c1c1c" stroke-width="0.08">0.01</text>
<text class="ss" transform="translate(488.6,310.68)" font-size="7.25" text-anchor="end" fill="#1c1c1c" stroke="#1c1c1c" stroke-width="0.08">0.012</text>
<text class="ss" transform="translate(488.6,286.79)" font-size="7.25" text-anchor="end" fill="#1c1c1c" stroke="#1c1c1c" stroke-width="0.08">0.014</text>
<text class="ss" transform="translate(488.6,262.9)" font-size="7.25" text-anchor="end" fill="#1c1c1c" stroke="#1c1c1c" stroke-width="0.08">0.016</text>
<text class="ss" transform="translate(585.65,473.4)" font-size="7.9" text-anchor="middle" fill="#1c1c1c" stroke="#1c1c1c" stroke-width="0.08">f1</text>
<text class="ss" transform="translate(466,356.25) rotate(-90)" font-size="7.9" text-anchor="middle" fill="#1c1c1c" stroke="#1c1c1c" stroke-width="0.08">f2</text>
<text class="ss" transform="translate(586.25,256.4)" font-size="8.0" text-anchor="middle" font-weight="700" fill="#1c1c1c" stroke="#1c1c1c" stroke-width="0.2">NSGAII</text>
<rect x="617.3" y="265.5" width="57.6" height="21.1" fill="#fff" stroke="#5c5c5c" stroke-width="0.7"/>
<circle cx="630.9" cy="271.6" r="1.12" fill="#00b850" stroke="#0000ff" stroke-width="0.55"/>
<use href="#s2" x="630.9" y="281.2" stroke="#ff0000" stroke-width="0.5"/>
<text class="ss" transform="translate(657.7,273.9)" font-size="6.5" text-anchor="middle" fill="#1c1c1c" stroke="#1c1c1c" stroke-width="0.1">obtain PF</text>
<text class="ss" transform="translate(657.9,283.5)" font-size="6.5" text-anchor="middle" fill="#1c1c1c" stroke="#1c1c1c" stroke-width="0.1">true PF</text>
<text class="sf" transform="translate(582.2,491.8)" font-size="18.6" text-anchor="middle" fill="#111" stroke="#111" stroke-width="0.14">(f)</text>
</g>
<g>
<rect x="27.4" y="522" width="194.2" height="192.4" fill="#fff"/>
<path d="M51.67 522V714.4M75.95 522V714.4M100.22 522V714.4M124.5 522V714.4M148.77 522V714.4M173.05 522V714.4M197.32 522V714.4M27.4 682.33H221.6M27.4 650.27H221.6M27.4 618.2H221.6M27.4 586.13H221.6M27.4 554.07H221.6" stroke="#ebebeb" stroke-width="0.8" fill="none"/>
<g fill="#00ee00" stroke="#000" stroke-width="0.55">
<ellipse cx="38.3" cy="541.27" rx="1.4" ry="1.52"/>
<ellipse cx="38.86" cy="543.76" rx="1.4" ry="1.52"/>
<ellipse cx="38.91" cy="548.86" rx="1.4" ry="1.52"/>
<ellipse cx="38.91" cy="553.84" rx="1.4" ry="1.52"/>
<ellipse cx="38.91" cy="558.54" rx="1.4" ry="1.52"/>
<ellipse cx="39.78" cy="566.12" rx="1.4" ry="1.52"/>
<ellipse cx="40.51" cy="579.72" rx="1.4" ry="1.52"/>
<ellipse cx="41.31" cy="592.87" rx="1.4" ry="1.52"/>
<ellipse cx="42.03" cy="602.65" rx="1.4" ry="1.52"/>
<ellipse cx="42.61" cy="609.17" rx="1.4" ry="1.52"/>
<ellipse cx="43.2" cy="613.13" rx="1.4" ry="1.52"/>
<ellipse cx="43.78" cy="617.33" rx="1.4" ry="1.52"/>
<ellipse cx="44.6" cy="621.89" rx="1.4" ry="1.52"/>
<ellipse cx="45.18" cy="625.14" rx="1.4" ry="1.52"/>
<ellipse cx="45.77" cy="628.64" rx="1.4" ry="1.52"/>
<ellipse cx="46.47" cy="631.8" rx="1.4" ry="1.52"/>
<ellipse cx="46.59" cy="632.75" rx="1.4" ry="1.52"/>
<ellipse cx="46.89" cy="635.06" rx="1.4" ry="1.52"/>
<ellipse cx="47.02" cy="635.98" rx="1.4" ry="1.52"/>
<ellipse cx="47.21" cy="637.07" rx="1.4" ry="1.52"/>
<ellipse cx="47.85" cy="640.16" rx="1.4" ry="1.52"/>
<ellipse cx="47.97" cy="640.7" rx="1.4" ry="1.52"/>
<ellipse cx="48.27" cy="642.03" rx="1.4" ry="1.52"/>
<ellipse cx="48.43" cy="642.71" rx="1.4" ry="1.52"/>
<ellipse cx="49.25" cy="645.95" rx="1.4" ry="1.52"/>
<ellipse cx="49.72" cy="647.66" rx="1.4" ry="1.52"/>
<ellipse cx="49.98" cy="648.56" rx="1.4" ry="1.52"/>
<ellipse cx="50.35" cy="649.8" rx="1.4" ry="1.52"/>
<ellipse cx="51.25" cy="652.8" rx="1.4" ry="1.52"/>
<ellipse cx="51.57" cy="653.83" rx="1.4" ry="1.52"/>
<ellipse cx="52.75" cy="656.7" rx="1.4" ry="1.52"/>
<ellipse cx="53.09" cy="657.44" rx="1.4" ry="1.52"/>
<ellipse cx="53.3" cy="657.9" rx="1.4" ry="1.52"/>
<ellipse cx="54.46" cy="660.79" rx="1.4" ry="1.52"/>
<ellipse cx="54.58" cy="661.08" rx="1.4" ry="1.52"/>
<ellipse cx="55.52" cy="663.3" rx="1.4" ry="1.52"/>
<ellipse cx="55.81" cy="663.93" rx="1.4" ry="1.52"/>
</g><g fill="#00f000" stroke="#000" stroke-width="0.85">
<ellipse cx="56.75" cy="665.73" rx="1.25" ry="1.37"/>
<ellipse cx="57.18" cy="666.49" rx="1.25" ry="1.37"/>
<ellipse cx="57.3" cy="666.7" rx="1.25" ry="1.37"/>
<ellipse cx="57.42" cy="666.91" rx="1.25" ry="1.37"/>
<ellipse cx="57.54" cy="667.11" rx="1.25" ry="1.37"/>
<ellipse cx="57.66" cy="667.32" rx="1.25" ry="1.37"/>
<ellipse cx="57.8" cy="667.56" rx="1.25" ry="1.37"/>
<ellipse cx="58.02" cy="667.93" rx="1.25" ry="1.37"/>
<ellipse cx="58.19" cy="668.21" rx="1.25" ry="1.37"/>
<ellipse cx="59.03" cy="669.62" rx="1.25" ry="1.37"/>
<ellipse cx="59.47" cy="670.36" rx="1.25" ry="1.37"/>
<ellipse cx="59.61" cy="670.58" rx="1.25" ry="1.37"/>
<ellipse cx="59.73" cy="670.78" rx="1.25" ry="1.37"/>
<ellipse cx="60.49" cy="671.98" rx="1.25" ry="1.37"/>
<ellipse cx="61.05" cy="672.84" rx="1.25" ry="1.37"/>
<ellipse cx="62.39" cy="674.73" rx="1.25" ry="1.37"/>
<ellipse cx="62.51" cy="674.89" rx="1.25" ry="1.37"/>
<ellipse cx="62.67" cy="675.11" rx="1.25" ry="1.37"/>
<ellipse cx="64.11" cy="676.93" rx="1.25" ry="1.37"/>
<ellipse cx="64.33" cy="677.2" rx="1.25" ry="1.37"/>
<ellipse cx="65.87" cy="678.95" rx="1.25" ry="1.37"/>
<ellipse cx="67.57" cy="680.53" rx="1.25" ry="1.37"/>
<ellipse cx="68.1" cy="680.99" rx="1.25" ry="1.37"/>
<ellipse cx="68.99" cy="681.74" rx="1.25" ry="1.37"/>
<ellipse cx="69.11" cy="681.84" rx="1.25" ry="1.37"/>
<ellipse cx="70.38" cy="682.85" rx="1.25" ry="1.37"/>
<ellipse cx="71.05" cy="683.36" rx="1.25" ry="1.37"/>
<ellipse cx="71.56" cy="683.74" rx="1.25" ry="1.37"/>
<ellipse cx="71.68" cy="683.83" rx="1.25" ry="1.37"/>
<ellipse cx="72.5" cy="684.4" rx="1.25" ry="1.37"/>
<ellipse cx="73.05" cy="684.78" rx="1.25" ry="1.37"/>
<ellipse cx="73.37" cy="684.99" rx="1.25" ry="1.37"/>
<ellipse cx="75.13" cy="686.12" rx="1.25" ry="1.37"/>
<ellipse cx="77.1" cy="687.31" rx="1.25" ry="1.37"/>
<ellipse cx="78.07" cy="687.88" rx="1.25" ry="1.37"/>
<ellipse cx="78.19" cy="687.94" rx="1.25" ry="1.37"/>
<ellipse cx="80.22" cy="689.04" rx="1.25" ry="1.37"/>
<ellipse cx="80.34" cy="689.1" rx="1.25" ry="1.37"/>
<ellipse cx="81.22" cy="689.54" rx="1.25" ry="1.37"/>
<ellipse cx="82.11" cy="689.98" rx="1.25" ry="1.37"/>
<ellipse cx="82.47" cy="690.15" rx="1.25" ry="1.37"/>
<ellipse cx="82.87" cy="690.34" rx="1.25" ry="1.37"/>
<ellipse cx="83.06" cy="690.43" rx="1.25" ry="1.37"/>
<ellipse cx="83.38" cy="690.57" rx="1.25" ry="1.37"/>
<ellipse cx="83.58" cy="690.67" rx="1.25" ry="1.37"/>
<ellipse cx="84.52" cy="691.11" rx="1.25" ry="1.37"/>
<ellipse cx="85.1" cy="691.37" rx="1.25" ry="1.37"/>
<ellipse cx="86.06" cy="691.8" rx="1.25" ry="1.37"/>
<ellipse cx="86.96" cy="692.18" rx="1.25" ry="1.37"/>
<ellipse cx="87.41" cy="692.37" rx="1.25" ry="1.37"/>
<ellipse cx="87.95" cy="692.59" rx="1.25" ry="1.37"/>
<ellipse cx="88.07" cy="692.64" rx="1.25" ry="1.37"/>
<ellipse cx="88.39" cy="692.77" rx="1.25" ry="1.37"/>
<ellipse cx="88.95" cy="692.99" rx="1.25" ry="1.37"/>
<ellipse cx="89.42" cy="693.17" rx="1.25" ry="1.37"/>
<ellipse cx="91.58" cy="693.97" rx="1.25" ry="1.37"/>
<ellipse cx="91.71" cy="694.01" rx="1.25" ry="1.37"/>
<ellipse cx="92.29" cy="694.19" rx="1.25" ry="1.37"/>
<ellipse cx="92.73" cy="694.32" rx="1.25" ry="1.37"/>
<ellipse cx="92.89" cy="694.37" rx="1.25" ry="1.37"/>
<ellipse cx="94.1" cy="694.73" rx="1.25" ry="1.37"/>
<ellipse cx="94.34" cy="694.79" rx="1.25" ry="1.37"/>
<ellipse cx="94.55" cy="694.85" rx="1.25" ry="1.37"/>
<ellipse cx="95.49" cy="695.12" rx="1.25" ry="1.37"/>
<ellipse cx="95.68" cy="695.17" rx="1.25" ry="1.37"/>
<ellipse cx="97.48" cy="695.65" rx="1.25" ry="1.37"/>
<ellipse cx="97.68" cy="695.7" rx="1.25" ry="1.37"/>
<ellipse cx="97.87" cy="695.75" rx="1.25" ry="1.37"/>
<ellipse cx="97.99" cy="695.78" rx="1.25" ry="1.37"/>
<ellipse cx="98.62" cy="695.94" rx="1.25" ry="1.37"/>
<ellipse cx="99.1" cy="696.06" rx="1.25" ry="1.37"/>
<ellipse cx="100.16" cy="696.32" rx="1.25" ry="1.37"/>
<ellipse cx="102.39" cy="696.86" rx="1.25" ry="1.37"/>
<ellipse cx="102.51" cy="696.89" rx="1.25" ry="1.37"/>
<ellipse cx="102.86" cy="696.97" rx="1.25" ry="1.37"/>
<ellipse cx="103.72" cy="697.17" rx="1.25" ry="1.37"/>
<ellipse cx="103.98" cy="697.23" rx="1.25" ry="1.37"/>
<ellipse cx="105.56" cy="697.58" rx="1.25" ry="1.37"/>
<ellipse cx="105.87" cy="697.65" rx="1.25" ry="1.37"/>
<ellipse cx="106.2" cy="697.72" rx="1.25" ry="1.37"/>
<ellipse cx="106.74" cy="697.83" rx="1.25" ry="1.37"/>
<ellipse cx="107.9" cy="698.08" rx="1.25" ry="1.37"/>
<ellipse cx="108.39" cy="698.18" rx="1.25" ry="1.37"/>
<ellipse cx="108.63" cy="698.22" rx="1.25" ry="1.37"/>
<ellipse cx="109.71" cy="698.44" rx="1.25" ry="1.37"/>
<ellipse cx="111.33" cy="698.75" rx="1.25" ry="1.37"/>
<ellipse cx="111.61" cy="698.8" rx="1.25" ry="1.37"/>
<ellipse cx="111.83" cy="698.84" rx="1.25" ry="1.37"/>
<ellipse cx="111.95" cy="698.86" rx="1.25" ry="1.37"/>
<ellipse cx="112.83" cy="699.02" rx="1.25" ry="1.37"/>
<ellipse cx="114.23" cy="699.25" rx="1.25" ry="1.37"/>
<ellipse cx="114.76" cy="699.33" rx="1.25" ry="1.37"/>
<ellipse cx="116.68" cy="699.62" rx="1.25" ry="1.37"/>
<ellipse cx="117.01" cy="699.67" rx="1.25" ry="1.37"/>
<ellipse cx="117.65" cy="699.77" rx="1.25" ry="1.37"/>
<ellipse cx="118.67" cy="699.92" rx="1.25" ry="1.37"/>
<ellipse cx="119.18" cy="699.99" rx="1.25" ry="1.37"/>
<ellipse cx="119.72" cy="700.07" rx="1.25" ry="1.37"/>
<ellipse cx="119.84" cy="700.08" rx="1.25" ry="1.37"/>
<ellipse cx="120.29" cy="700.15" rx="1.25" ry="1.37"/>
<ellipse cx="120.98" cy="700.24" rx="1.25" ry="1.37"/>
<ellipse cx="121.73" cy="700.35" rx="1.25" ry="1.37"/>
<ellipse cx="122.7" cy="700.48" rx="1.25" ry="1.37"/>
<ellipse cx="122.82" cy="700.49" rx="1.25" ry="1.37"/>
<ellipse cx="123.72" cy="700.61" rx="1.25" ry="1.37"/>
<ellipse cx="124.15" cy="700.67" rx="1.25" ry="1.37"/>
<ellipse cx="125.03" cy="700.78" rx="1.25" ry="1.37"/>
<ellipse cx="125.75" cy="700.87" rx="1.25" ry="1.37"/>
<ellipse cx="128.04" cy="701.16" rx="1.25" ry="1.37"/>
<ellipse cx="128.38" cy="701.2" rx="1.25" ry="1.37"/>
<ellipse cx="128.64" cy="701.23" rx="1.25" ry="1.37"/>
<ellipse cx="128.76" cy="701.25" rx="1.25" ry="1.37"/>
<ellipse cx="130.89" cy="701.5" rx="1.25" ry="1.37"/>
<ellipse cx="131.29" cy="701.54" rx="1.25" ry="1.37"/>
<ellipse cx="131.61" cy="701.58" rx="1.25" ry="1.37"/>
<ellipse cx="133.05" cy="701.74" rx="1.25" ry="1.37"/>
<ellipse cx="133.28" cy="701.77" rx="1.25" ry="1.37"/>
<ellipse cx="135.57" cy="702.02" rx="1.25" ry="1.37"/>
<ellipse cx="136.01" cy="702.07" rx="1.25" ry="1.37"/>
<ellipse cx="136.91" cy="702.16" rx="1.25" ry="1.37"/>
<ellipse cx="137.17" cy="702.19" rx="1.25" ry="1.37"/>
<ellipse cx="137.33" cy="702.2" rx="1.25" ry="1.37"/>
<ellipse cx="137.45" cy="702.22" rx="1.25" ry="1.37"/>
<ellipse cx="137.8" cy="702.25" rx="1.25" ry="1.37"/>
<ellipse cx="138.09" cy="702.28" rx="1.25" ry="1.37"/>
<ellipse cx="138.21" cy="702.29" rx="1.25" ry="1.37"/>
<ellipse cx="139.16" cy="702.39" rx="1.25" ry="1.37"/>
<ellipse cx="139.34" cy="702.41" rx="1.25" ry="1.37"/>
<ellipse cx="139.77" cy="702.45" rx="1.25" ry="1.37"/>
<ellipse cx="140.03" cy="702.48" rx="1.25" ry="1.37"/>
<ellipse cx="140.52" cy="702.53" rx="1.25" ry="1.37"/>
<ellipse cx="141.68" cy="702.65" rx="1.25" ry="1.37"/>
<ellipse cx="142.91" cy="702.77" rx="1.25" ry="1.37"/>
<ellipse cx="143.36" cy="702.82" rx="1.25" ry="1.37"/>
<ellipse cx="143.68" cy="702.85" rx="1.25" ry="1.37"/>
<ellipse cx="144.2" cy="702.9" rx="1.25" ry="1.37"/>
<ellipse cx="145.63" cy="703.04" rx="1.25" ry="1.37"/>
<ellipse cx="146.31" cy="703.11" rx="1.25" ry="1.37"/>
<ellipse cx="146.95" cy="703.17" rx="1.25" ry="1.37"/>
<ellipse cx="147.13" cy="703.19" rx="1.25" ry="1.37"/>
<ellipse cx="147.27" cy="703.2" rx="1.25" ry="1.37"/>
<ellipse cx="147.58" cy="703.23" rx="1.25" ry="1.37"/>
<ellipse cx="147.74" cy="703.24" rx="1.25" ry="1.37"/>
<ellipse cx="149.8" cy="703.43" rx="1.25" ry="1.37"/>
<ellipse cx="150" cy="703.45" rx="1.25" ry="1.37"/>
<ellipse cx="150.12" cy="703.46" rx="1.25" ry="1.37"/>
<ellipse cx="150.24" cy="703.47" rx="1.25" ry="1.37"/>
<ellipse cx="150.36" cy="703.48" rx="1.25" ry="1.37"/>
<ellipse cx="152.18" cy="703.62" rx="1.25" ry="1.37"/>
<ellipse cx="153.6" cy="703.73" rx="1.25" ry="1.37"/>
<ellipse cx="153.72" cy="703.74" rx="1.25" ry="1.37"/>
<ellipse cx="154.01" cy="703.76" rx="1.25" ry="1.37"/>
<ellipse cx="154.47" cy="703.8" rx="1.25" ry="1.37"/>
<ellipse cx="155.49" cy="703.87" rx="1.25" ry="1.37"/>
<ellipse cx="156.67" cy="703.96" rx="1.25" ry="1.37"/>
<ellipse cx="156.82" cy="703.97" rx="1.25" ry="1.37"/>
<ellipse cx="159.11" cy="704.13" rx="1.25" ry="1.37"/>
<ellipse cx="159.95" cy="704.19" rx="1.25" ry="1.37"/>
<ellipse cx="160.12" cy="704.2" rx="1.25" ry="1.37"/>
<ellipse cx="160.25" cy="704.21" rx="1.25" ry="1.37"/>
<ellipse cx="160.52" cy="704.23" rx="1.25" ry="1.37"/>
<ellipse cx="161.42" cy="704.29" rx="1.25" ry="1.37"/>
<ellipse cx="163.71" cy="704.45" rx="1.25" ry="1.37"/>
<ellipse cx="164.39" cy="704.49" rx="1.25" ry="1.37"/>
<ellipse cx="165.61" cy="704.57" rx="1.25" ry="1.37"/>
<ellipse cx="165.88" cy="704.59" rx="1.25" ry="1.37"/>
<ellipse cx="166.29" cy="704.61" rx="1.25" ry="1.37"/>
<ellipse cx="166.7" cy="704.64" rx="1.25" ry="1.37"/>
<ellipse cx="166.91" cy="704.65" rx="1.25" ry="1.37"/>
<ellipse cx="167.46" cy="704.68" rx="1.25" ry="1.37"/>
<ellipse cx="167.66" cy="704.7" rx="1.25" ry="1.37"/>
<ellipse cx="169.01" cy="704.78" rx="1.25" ry="1.37"/>
<ellipse cx="169.94" cy="704.84" rx="1.25" ry="1.37"/>
<ellipse cx="170.56" cy="704.87" rx="1.25" ry="1.37"/>
<ellipse cx="170.68" cy="704.88" rx="1.25" ry="1.37"/>
<ellipse cx="170.81" cy="704.89" rx="1.25" ry="1.37"/>
<ellipse cx="172.38" cy="704.98" rx="1.25" ry="1.37"/>
<ellipse cx="172.57" cy="704.99" rx="1.25" ry="1.37"/>
<ellipse cx="173.18" cy="705.03" rx="1.25" ry="1.37"/>
<ellipse cx="174.58" cy="705.13" rx="1.25" ry="1.37"/>
<ellipse cx="175.81" cy="705.22" rx="1.25" ry="1.37"/>
<ellipse cx="177.02" cy="705.3" rx="1.25" ry="1.37"/>
<ellipse cx="177.14" cy="705.31" rx="1.25" ry="1.37"/>
<ellipse cx="177.71" cy="705.35" rx="1.25" ry="1.37"/>
<ellipse cx="180.01" cy="705.5" rx="1.25" ry="1.37"/>
<ellipse cx="181.36" cy="705.59" rx="1.25" ry="1.37"/>
<ellipse cx="181.89" cy="705.62" rx="1.25" ry="1.37"/>
<ellipse cx="182.04" cy="705.63" rx="1.25" ry="1.37"/>
<ellipse cx="182.26" cy="705.64" rx="1.25" ry="1.37"/>
<ellipse cx="182.43" cy="705.66" rx="1.25" ry="1.37"/>
<ellipse cx="182.79" cy="705.68" rx="1.25" ry="1.37"/>
<ellipse cx="182.97" cy="705.69" rx="1.25" ry="1.37"/>
<ellipse cx="183.75" cy="705.74" rx="1.25" ry="1.37"/>
<ellipse cx="185.17" cy="705.83" rx="1.25" ry="1.37"/>
<ellipse cx="185.29" cy="705.83" rx="1.25" ry="1.37"/>
<ellipse cx="185.41" cy="705.84" rx="1.25" ry="1.37"/>
<ellipse cx="186.07" cy="705.88" rx="1.25" ry="1.37"/>
<ellipse cx="186.75" cy="705.92" rx="1.25" ry="1.37"/>
<ellipse cx="187.29" cy="705.95" rx="1.25" ry="1.37"/>
<ellipse cx="187.61" cy="705.97" rx="1.25" ry="1.37"/>
<ellipse cx="188.37" cy="706.02" rx="1.25" ry="1.37"/>
<ellipse cx="188.59" cy="706.03" rx="1.25" ry="1.37"/>
<ellipse cx="188.71" cy="706.04" rx="1.25" ry="1.37"/>
<ellipse cx="190.18" cy="706.12" rx="1.25" ry="1.37"/>
<ellipse cx="190.44" cy="706.14" rx="1.25" ry="1.37"/>
<ellipse cx="190.72" cy="706.15" rx="1.25" ry="1.37"/>
<ellipse cx="190.86" cy="706.16" rx="1.25" ry="1.37"/>
<ellipse cx="191.29" cy="706.18" rx="1.25" ry="1.37"/>
<ellipse cx="191.41" cy="706.19" rx="1.25" ry="1.37"/>
<ellipse cx="192" cy="706.22" rx="1.25" ry="1.37"/>
<ellipse cx="192.5" cy="706.25" rx="1.25" ry="1.37"/>
<ellipse cx="193.29" cy="706.3" rx="1.25" ry="1.37"/>
<ellipse cx="193.85" cy="706.33" rx="1.25" ry="1.37"/>
<ellipse cx="196.14" cy="706.45" rx="1.25" ry="1.37"/>
<ellipse cx="196.53" cy="706.47" rx="1.25" ry="1.37"/>
<ellipse cx="198.16" cy="706.57" rx="1.25" ry="1.37"/>
<ellipse cx="198.58" cy="706.61" rx="1.25" ry="1.37"/>
<ellipse cx="199.03" cy="706.64" rx="1.25" ry="1.37"/>
<ellipse cx="199.44" cy="706.67" rx="1.25" ry="1.37"/>
<ellipse cx="200.87" cy="706.77" rx="1.25" ry="1.37"/>
<ellipse cx="202.28" cy="706.88" rx="1.25" ry="1.37"/>
<ellipse cx="202.88" cy="706.92" rx="1.25" ry="1.37"/>
<ellipse cx="203" cy="706.93" rx="1.25" ry="1.37"/>
<ellipse cx="203.17" cy="706.94" rx="1.25" ry="1.37"/>
<ellipse cx="203.96" cy="706.99" rx="1.25" ry="1.37"/>
<ellipse cx="204.61" cy="707.04" rx="1.25" ry="1.37"/>
</g>
<g stroke="#ff0000" stroke-width="0.45" fill="none">
<use href="#s1" x="67.45" y="584.53"/>
<use href="#s1" x="67.7" y="583.73"/>
<use href="#s1" x="67.31" y="585.17"/>
<use href="#s1" x="67.6" y="585.81"/>
<use href="#s1" x="77.31" y="650.44"/>
<use href="#s1" x="101.58" y="672.39"/>
<use href="#s1" x="104.4" y="691.04"/>
<use href="#s1" x="124.01" y="695.83"/>
<use href="#s1" x="140.52" y="702.17"/>
<use href="#s1" x="153.14" y="703.38"/>
<use href="#s1" x="174.99" y="704.88"/>
<use href="#s1" x="181.3" y="705.32"/>
</g>
<path d="M51.67 714.4v-2M51.67 522v2M75.95 714.4v-2M75.95 522v2M100.22 714.4v-2M100.22 522v2M124.5 714.4v-2M124.5 522v2M148.77 714.4v-2M148.77 522v2M173.05 714.4v-2M173.05 522v2M197.32 714.4v-2M197.32 522v2M27.4 682.33h2M221.6 682.33h-2M27.4 650.27h2M221.6 650.27h-2M27.4 618.2h2M221.6 618.2h-2M27.4 586.13h2M221.6 586.13h-2M27.4 554.07h2M221.6 554.07h-2" stroke="#454545" stroke-width="0.8" fill="none"/>
<rect x="27.4" y="522" width="194.2" height="192.4" fill="none" stroke="#454545" stroke-width="0.8"/>
<text class="ss" transform="translate(27.4,724.9) scale(0.756,1.0)" font-size="8.0" text-anchor="middle" fill="#1c1c1c" stroke="#1c1c1c" stroke-width="0.14">0</text>
<text class="ss" transform="translate(51.67,724.9) scale(0.756,1.0)" font-size="8.0" text-anchor="middle" fill="#1c1c1c" stroke="#1c1c1c" stroke-width="0.14">5</text>
<text class="ss" transform="translate(75.95,724.9) scale(0.756,1.0)" font-size="8.0" text-anchor="middle" fill="#1c1c1c" stroke="#1c1c1c" stroke-width="0.14">10</text>
<text class="ss" transform="translate(100.22,724.9) scale(0.756,1.0)" font-size="8.0" text-anchor="middle" fill="#1c1c1c" stroke="#1c1c1c" stroke-width="0.14">15</text>
<text class="ss" transform="translate(124.5,724.9) scale(0.756,1.0)" font-size="8.0" text-anchor="middle" fill="#1c1c1c" stroke="#1c1c1c" stroke-width="0.14">20</text>
<text class="ss" transform="translate(148.77,724.9) scale(0.756,1.0)" font-size="8.0" text-anchor="middle" fill="#1c1c1c" stroke="#1c1c1c" stroke-width="0.14">25</text>
<text class="ss" transform="translate(173.05,724.9) scale(0.756,1.0)" font-size="8.0" text-anchor="middle" fill="#1c1c1c" stroke="#1c1c1c" stroke-width="0.14">30</text>
<text class="ss" transform="translate(197.32,724.9) scale(0.756,1.0)" font-size="8.0" text-anchor="middle" fill="#1c1c1c" stroke="#1c1c1c" stroke-width="0.14">35</text>
<text class="ss" transform="translate(221.6,724.9) scale(0.756,1.0)" font-size="8.0" text-anchor="middle" fill="#1c1c1c" stroke="#1c1c1c" stroke-width="0.14">40</text>
<text class="ss" transform="translate(24.8,717.7) scale(0.756,1.0)" font-size="8.0" text-anchor="end" fill="#1c1c1c" stroke="#1c1c1c" stroke-width="0.14">0</text>
<text class="ss" transform="translate(24.8,685.63) scale(0.756,1.0)" font-size="8.0" text-anchor="end" fill="#1c1c1c" stroke="#1c1c1c" stroke-width="0.14">0.002</text>
<text class="ss" transform="translate(24.8,653.57) scale(0.756,1.0)" font-size="8.0" text-anchor="end" fill="#1c1c1c" stroke="#1c1c1c" stroke-width="0.14">0.004</text>
<text class="ss" transform="translate(24.8,621.5) scale(0.756,1.0)" font-size="8.0" text-anchor="end" fill="#1c1c1c" stroke="#1c1c1c" stroke-width="0.14">0.006</text>
<text class="ss" transform="translate(24.8,589.43) scale(0.756,1.0)" font-size="8.0" text-anchor="end" fill="#1c1c1c" stroke="#1c1c1c" stroke-width="0.14">0.008</text>
<text class="ss" transform="translate(24.8,557.37) scale(0.756,1.0)" font-size="8.0" text-anchor="end" fill="#1c1c1c" stroke="#1c1c1c" stroke-width="0.14">0.01</text>
<text class="ss" transform="translate(24.8,525.3) scale(0.756,1.0)" font-size="8.0" text-anchor="end" fill="#1c1c1c" stroke="#1c1c1c" stroke-width="0.14">0.012</text>
<text class="ss" transform="translate(123.7,735.7) scale(0.756,1.0)" font-size="8.0" text-anchor="middle" fill="#1c1c1c" stroke="#1c1c1c" stroke-width="0.14">f1</text>
<text class="ss" transform="translate(5.7,618.6) rotate(-90) scale(1.0,0.756)" font-size="8.0" text-anchor="middle" fill="#1c1c1c" stroke="#1c1c1c" stroke-width="0.14">f2</text>
<text class="ss" transform="translate(124.5,519) scale(0.72,1.0)" font-size="9.2" text-anchor="middle" font-weight="700" fill="#1c1c1c" stroke="#1c1c1c" stroke-width="0.36">MALO</text>
<rect x="165.15" y="528.4" width="52.4" height="20.4" fill="#fff" stroke="#585858" stroke-width="0.7"/>
<ellipse cx="176" cy="534.2" rx="1.4" ry="1.52" fill="#00ee00" stroke="#000" stroke-width="0.55"/>
<use href="#s1" x="176" y="543.4" stroke="#ff0000" stroke-width="0.5"/>
<text class="ss" transform="translate(186.85,536.6) scale(0.816,1.0)" font-size="6.4" text-anchor="start" fill="#1c1c1c" stroke="#1c1c1c" stroke-width="0.14">true PF</text>
<text class="ss" transform="translate(186.85,545.9) scale(0.816,1.0)" font-size="6.4" text-anchor="start" fill="#1c1c1c" stroke="#1c1c1c" stroke-width="0.14">obtained PF</text>
<text class="sf" transform="translate(124.2,753.8)" font-size="18.6" text-anchor="middle" fill="#111" stroke="#111" stroke-width="0.14">(g)</text>
</g>
<g>
<rect x="255.9" y="522" width="195.3" height="191.4" fill="#fff"/>
<path d="M275.43 522V713.4M294.96 522V713.4M314.49 522V713.4M334.02 522V713.4M353.55 522V713.4M373.08 522V713.4M392.61 522V713.4M412.14 522V713.4M431.67 522V713.4M255.9 681.5H451.2M255.9 649.6H451.2M255.9 617.7H451.2M255.9 585.8H451.2M255.9 553.9H451.2" stroke="#ebebeb" stroke-width="0.8" fill="none"/>
<g fill="#00ee00" stroke="#000" stroke-width="0.55">
<ellipse cx="264.67" cy="541.17" rx="1.4" ry="1.52"/>
<ellipse cx="265.12" cy="543.64" rx="1.4" ry="1.52"/>
<ellipse cx="265.16" cy="548.72" rx="1.4" ry="1.52"/>
<ellipse cx="265.16" cy="553.68" rx="1.4" ry="1.52"/>
<ellipse cx="265.16" cy="558.35" rx="1.4" ry="1.52"/>
<ellipse cx="265.86" cy="565.89" rx="1.4" ry="1.52"/>
<ellipse cx="266.45" cy="579.42" rx="1.4" ry="1.52"/>
<ellipse cx="267.09" cy="592.5" rx="1.4" ry="1.52"/>
<ellipse cx="267.67" cy="602.23" rx="1.4" ry="1.52"/>
<ellipse cx="268.14" cy="608.72" rx="1.4" ry="1.52"/>
<ellipse cx="268.61" cy="612.66" rx="1.4" ry="1.52"/>
<ellipse cx="269.08" cy="616.84" rx="1.4" ry="1.52"/>
<ellipse cx="269.74" cy="621.37" rx="1.4" ry="1.52"/>
<ellipse cx="270.2" cy="624.61" rx="1.4" ry="1.52"/>
<ellipse cx="270.68" cy="628.08" rx="1.4" ry="1.52"/>
<ellipse cx="271.24" cy="631.23" rx="1.4" ry="1.52"/>
<ellipse cx="271.61" cy="634.74" rx="1.4" ry="1.52"/>
<ellipse cx="271.86" cy="636.6" rx="1.4" ry="1.52"/>
<ellipse cx="272.39" cy="639.75" rx="1.4" ry="1.52"/>
<ellipse cx="272.9" cy="642.52" rx="1.4" ry="1.52"/>
<ellipse cx="273.29" cy="644.43" rx="1.4" ry="1.52"/>
<ellipse cx="273.41" cy="644.99" rx="1.4" ry="1.52"/>
<ellipse cx="273.75" cy="646.55" rx="1.4" ry="1.52"/>
<ellipse cx="274.44" cy="649.45" rx="1.4" ry="1.52"/>
<ellipse cx="274.61" cy="650.13" rx="1.4" ry="1.52"/>
<ellipse cx="274.9" cy="651.37" rx="1.4" ry="1.52"/>
<ellipse cx="275.07" cy="652.03" rx="1.4" ry="1.52"/>
<ellipse cx="275.96" cy="655.05" rx="1.4" ry="1.52"/>
<ellipse cx="276.91" cy="657.74" rx="1.4" ry="1.52"/>
<ellipse cx="277.88" cy="660.7" rx="1.4" ry="1.52"/>
<ellipse cx="278.71" cy="663.06" rx="1.4" ry="1.52"/>
</g><g fill="#00f000" stroke="#000" stroke-width="0.85">
<ellipse cx="279.57" cy="665.11" rx="1.25" ry="1.37"/>
<ellipse cx="280.56" cy="667.22" rx="1.25" ry="1.37"/>
<ellipse cx="280.68" cy="667.47" rx="1.25" ry="1.37"/>
<ellipse cx="280.97" cy="668.04" rx="1.25" ry="1.37"/>
<ellipse cx="281.17" cy="668.47" rx="1.25" ry="1.37"/>
<ellipse cx="281.37" cy="668.89" rx="1.25" ry="1.37"/>
<ellipse cx="281.72" cy="669.63" rx="1.25" ry="1.37"/>
<ellipse cx="282.22" cy="670.62" rx="1.25" ry="1.37"/>
<ellipse cx="283.31" cy="672.67" rx="1.25" ry="1.37"/>
<ellipse cx="283.58" cy="673.14" rx="1.25" ry="1.37"/>
<ellipse cx="283.88" cy="673.66" rx="1.25" ry="1.37"/>
<ellipse cx="285.11" cy="675.63" rx="1.25" ry="1.37"/>
<ellipse cx="285.23" cy="675.81" rx="1.25" ry="1.37"/>
<ellipse cx="285.35" cy="675.99" rx="1.25" ry="1.37"/>
<ellipse cx="285.47" cy="676.17" rx="1.25" ry="1.37"/>
<ellipse cx="286.53" cy="677.71" rx="1.25" ry="1.37"/>
<ellipse cx="287.54" cy="678.94" rx="1.25" ry="1.37"/>
<ellipse cx="288.17" cy="679.65" rx="1.25" ry="1.37"/>
<ellipse cx="288.34" cy="679.84" rx="1.25" ry="1.37"/>
<ellipse cx="289.28" cy="680.83" rx="1.25" ry="1.37"/>
<ellipse cx="289.4" cy="680.95" rx="1.25" ry="1.37"/>
<ellipse cx="290.49" cy="682.03" rx="1.25" ry="1.37"/>
<ellipse cx="292.21" cy="683.58" rx="1.25" ry="1.37"/>
<ellipse cx="293.34" cy="684.51" rx="1.25" ry="1.37"/>
<ellipse cx="293.46" cy="684.61" rx="1.25" ry="1.37"/>
<ellipse cx="293.7" cy="684.8" rx="1.25" ry="1.37"/>
<ellipse cx="293.93" cy="684.99" rx="1.25" ry="1.37"/>
<ellipse cx="295.67" cy="686.3" rx="1.25" ry="1.37"/>
<ellipse cx="296.61" cy="686.97" rx="1.25" ry="1.37"/>
<ellipse cx="296.98" cy="687.23" rx="1.25" ry="1.37"/>
<ellipse cx="297.22" cy="687.39" rx="1.25" ry="1.37"/>
<ellipse cx="297.34" cy="687.48" rx="1.25" ry="1.37"/>
<ellipse cx="298.24" cy="688.07" rx="1.25" ry="1.37"/>
<ellipse cx="298.45" cy="688.2" rx="1.25" ry="1.37"/>
<ellipse cx="299.17" cy="688.65" rx="1.25" ry="1.37"/>
<ellipse cx="299.72" cy="688.99" rx="1.25" ry="1.37"/>
<ellipse cx="300.29" cy="689.33" rx="1.25" ry="1.37"/>
<ellipse cx="302.29" cy="690.47" rx="1.25" ry="1.37"/>
<ellipse cx="302.41" cy="690.54" rx="1.25" ry="1.37"/>
<ellipse cx="302.53" cy="690.61" rx="1.25" ry="1.37"/>
<ellipse cx="303.19" cy="690.97" rx="1.25" ry="1.37"/>
<ellipse cx="303.31" cy="691.03" rx="1.25" ry="1.37"/>
<ellipse cx="304.95" cy="691.87" rx="1.25" ry="1.37"/>
<ellipse cx="305.07" cy="691.93" rx="1.25" ry="1.37"/>
<ellipse cx="307.15" cy="692.91" rx="1.25" ry="1.37"/>
<ellipse cx="308.11" cy="693.3" rx="1.25" ry="1.37"/>
<ellipse cx="309.32" cy="693.74" rx="1.25" ry="1.37"/>
<ellipse cx="309.45" cy="693.79" rx="1.25" ry="1.37"/>
<ellipse cx="309.57" cy="693.83" rx="1.25" ry="1.37"/>
<ellipse cx="311.74" cy="694.57" rx="1.25" ry="1.37"/>
<ellipse cx="312.08" cy="694.68" rx="1.25" ry="1.37"/>
<ellipse cx="314.04" cy="695.3" rx="1.25" ry="1.37"/>
<ellipse cx="314.16" cy="695.33" rx="1.25" ry="1.37"/>
<ellipse cx="314.68" cy="695.49" rx="1.25" ry="1.37"/>
<ellipse cx="315.34" cy="695.69" rx="1.25" ry="1.37"/>
<ellipse cx="316.31" cy="695.98" rx="1.25" ry="1.37"/>
<ellipse cx="316.56" cy="696.05" rx="1.25" ry="1.37"/>
<ellipse cx="316.87" cy="696.14" rx="1.25" ry="1.37"/>
<ellipse cx="318.55" cy="696.61" rx="1.25" ry="1.37"/>
<ellipse cx="320.77" cy="697.19" rx="1.25" ry="1.37"/>
<ellipse cx="320.93" cy="697.23" rx="1.25" ry="1.37"/>
<ellipse cx="321.28" cy="697.32" rx="1.25" ry="1.37"/>
<ellipse cx="321.47" cy="697.36" rx="1.25" ry="1.37"/>
<ellipse cx="321.63" cy="697.4" rx="1.25" ry="1.37"/>
<ellipse cx="321.99" cy="697.49" rx="1.25" ry="1.37"/>
<ellipse cx="322.92" cy="697.71" rx="1.25" ry="1.37"/>
<ellipse cx="323.63" cy="697.88" rx="1.25" ry="1.37"/>
<ellipse cx="323.88" cy="697.93" rx="1.25" ry="1.37"/>
<ellipse cx="324" cy="697.96" rx="1.25" ry="1.37"/>
<ellipse cx="325.01" cy="698.18" rx="1.25" ry="1.37"/>
<ellipse cx="325.62" cy="698.3" rx="1.25" ry="1.37"/>
<ellipse cx="326.95" cy="698.56" rx="1.25" ry="1.37"/>
<ellipse cx="327.98" cy="698.75" rx="1.25" ry="1.37"/>
<ellipse cx="328.88" cy="698.91" rx="1.25" ry="1.37"/>
<ellipse cx="329.38" cy="699" rx="1.25" ry="1.37"/>
<ellipse cx="329.5" cy="699.02" rx="1.25" ry="1.37"/>
<ellipse cx="330.21" cy="699.15" rx="1.25" ry="1.37"/>
<ellipse cx="330.97" cy="699.28" rx="1.25" ry="1.37"/>
<ellipse cx="331.31" cy="699.34" rx="1.25" ry="1.37"/>
<ellipse cx="331.56" cy="699.38" rx="1.25" ry="1.37"/>
<ellipse cx="332.17" cy="699.48" rx="1.25" ry="1.37"/>
<ellipse cx="333.64" cy="699.72" rx="1.25" ry="1.37"/>
<ellipse cx="333.94" cy="699.77" rx="1.25" ry="1.37"/>
<ellipse cx="334.13" cy="699.8" rx="1.25" ry="1.37"/>
<ellipse cx="336.4" cy="700.16" rx="1.25" ry="1.37"/>
<ellipse cx="337.03" cy="700.25" rx="1.25" ry="1.37"/>
<ellipse cx="337.56" cy="700.33" rx="1.25" ry="1.37"/>
<ellipse cx="338.94" cy="700.53" rx="1.25" ry="1.37"/>
<ellipse cx="339.06" cy="700.55" rx="1.25" ry="1.37"/>
<ellipse cx="339.21" cy="700.57" rx="1.25" ry="1.37"/>
<ellipse cx="339.82" cy="700.66" rx="1.25" ry="1.37"/>
<ellipse cx="340.05" cy="700.69" rx="1.25" ry="1.37"/>
<ellipse cx="340.96" cy="700.82" rx="1.25" ry="1.37"/>
<ellipse cx="341.51" cy="700.89" rx="1.25" ry="1.37"/>
<ellipse cx="343" cy="701.09" rx="1.25" ry="1.37"/>
<ellipse cx="343.61" cy="701.17" rx="1.25" ry="1.37"/>
<ellipse cx="344.37" cy="701.27" rx="1.25" ry="1.37"/>
<ellipse cx="344.95" cy="701.34" rx="1.25" ry="1.37"/>
<ellipse cx="345.27" cy="701.38" rx="1.25" ry="1.37"/>
<ellipse cx="345.49" cy="701.41" rx="1.25" ry="1.37"/>
<ellipse cx="347.6" cy="701.68" rx="1.25" ry="1.37"/>
<ellipse cx="349.69" cy="701.94" rx="1.25" ry="1.37"/>
<ellipse cx="349.92" cy="701.97" rx="1.25" ry="1.37"/>
<ellipse cx="350.04" cy="701.98" rx="1.25" ry="1.37"/>
<ellipse cx="350.16" cy="702" rx="1.25" ry="1.37"/>
<ellipse cx="352.3" cy="702.25" rx="1.25" ry="1.37"/>
<ellipse cx="352.74" cy="702.3" rx="1.25" ry="1.37"/>
<ellipse cx="353.52" cy="702.39" rx="1.25" ry="1.37"/>
<ellipse cx="354.37" cy="702.49" rx="1.25" ry="1.37"/>
<ellipse cx="354.66" cy="702.52" rx="1.25" ry="1.37"/>
<ellipse cx="354.84" cy="702.54" rx="1.25" ry="1.37"/>
<ellipse cx="355.64" cy="702.62" rx="1.25" ry="1.37"/>
<ellipse cx="357.19" cy="702.76" rx="1.25" ry="1.37"/>
<ellipse cx="358.12" cy="702.85" rx="1.25" ry="1.37"/>
<ellipse cx="359.26" cy="702.96" rx="1.25" ry="1.37"/>
<ellipse cx="360.31" cy="703.05" rx="1.25" ry="1.37"/>
<ellipse cx="360.43" cy="703.06" rx="1.25" ry="1.37"/>
<ellipse cx="361.04" cy="703.11" rx="1.25" ry="1.37"/>
<ellipse cx="362.01" cy="703.2" rx="1.25" ry="1.37"/>
<ellipse cx="363.09" cy="703.29" rx="1.25" ry="1.37"/>
<ellipse cx="363.21" cy="703.3" rx="1.25" ry="1.37"/>
<ellipse cx="363.75" cy="703.35" rx="1.25" ry="1.37"/>
<ellipse cx="364.27" cy="703.39" rx="1.25" ry="1.37"/>
<ellipse cx="364.78" cy="703.43" rx="1.25" ry="1.37"/>
<ellipse cx="365.07" cy="703.46" rx="1.25" ry="1.37"/>
<ellipse cx="365.52" cy="703.49" rx="1.25" ry="1.37"/>
<ellipse cx="365.64" cy="703.5" rx="1.25" ry="1.37"/>
<ellipse cx="366.77" cy="703.59" rx="1.25" ry="1.37"/>
<ellipse cx="369.07" cy="703.77" rx="1.25" ry="1.37"/>
<ellipse cx="369.45" cy="703.8" rx="1.25" ry="1.37"/>
<ellipse cx="370.5" cy="703.88" rx="1.25" ry="1.37"/>
<ellipse cx="372.79" cy="704.05" rx="1.25" ry="1.37"/>
<ellipse cx="373.46" cy="704.1" rx="1.25" ry="1.37"/>
<ellipse cx="374.74" cy="704.22" rx="1.25" ry="1.37"/>
<ellipse cx="376.86" cy="704.4" rx="1.25" ry="1.37"/>
<ellipse cx="378.25" cy="704.51" rx="1.25" ry="1.37"/>
<ellipse cx="378.81" cy="704.56" rx="1.25" ry="1.37"/>
<ellipse cx="379.76" cy="704.63" rx="1.25" ry="1.37"/>
<ellipse cx="380.63" cy="704.7" rx="1.25" ry="1.37"/>
<ellipse cx="380.98" cy="704.73" rx="1.25" ry="1.37"/>
<ellipse cx="381.48" cy="704.77" rx="1.25" ry="1.37"/>
<ellipse cx="381.66" cy="704.78" rx="1.25" ry="1.37"/>
<ellipse cx="381.82" cy="704.79" rx="1.25" ry="1.37"/>
<ellipse cx="383.28" cy="704.9" rx="1.25" ry="1.37"/>
<ellipse cx="385.54" cy="705.07" rx="1.25" ry="1.37"/>
<ellipse cx="385.95" cy="705.1" rx="1.25" ry="1.37"/>
<ellipse cx="386.29" cy="705.12" rx="1.25" ry="1.37"/>
<ellipse cx="386.54" cy="705.14" rx="1.25" ry="1.37"/>
<ellipse cx="387.53" cy="705.21" rx="1.25" ry="1.37"/>
<ellipse cx="388.03" cy="705.25" rx="1.25" ry="1.37"/>
<ellipse cx="388.45" cy="705.28" rx="1.25" ry="1.37"/>
<ellipse cx="389.51" cy="705.35" rx="1.25" ry="1.37"/>
<ellipse cx="389.63" cy="705.36" rx="1.25" ry="1.37"/>
<ellipse cx="390.06" cy="705.39" rx="1.25" ry="1.37"/>
<ellipse cx="391.24" cy="705.46" rx="1.25" ry="1.37"/>
<ellipse cx="391.82" cy="705.5" rx="1.25" ry="1.37"/>
<ellipse cx="393.21" cy="705.61" rx="1.25" ry="1.37"/>
<ellipse cx="393.49" cy="705.63" rx="1.25" ry="1.37"/>
<ellipse cx="394.37" cy="705.72" rx="1.25" ry="1.37"/>
<ellipse cx="396.22" cy="705.88" rx="1.25" ry="1.37"/>
<ellipse cx="396.51" cy="705.91" rx="1.25" ry="1.37"/>
<ellipse cx="397.09" cy="705.96" rx="1.25" ry="1.37"/>
<ellipse cx="397.21" cy="705.97" rx="1.25" ry="1.37"/>
<ellipse cx="397.86" cy="706.02" rx="1.25" ry="1.37"/>
<ellipse cx="398.09" cy="706.04" rx="1.25" ry="1.37"/>
<ellipse cx="398.23" cy="706.06" rx="1.25" ry="1.37"/>
<ellipse cx="398.47" cy="706.08" rx="1.25" ry="1.37"/>
</g>
<g stroke="#ff0000" stroke-width="0.45" fill="none">
<use href="#s1" x="283.71" y="599.52"/>
<use href="#s1" x="295.19" y="648.07"/>
<use href="#s1" x="295.74" y="651.47"/>
<use href="#s1" x="296.25" y="655.74"/>
<use href="#s1" x="297.46" y="660.03"/>
<use href="#s1" x="298.63" y="663.8"/>
<use href="#s1" x="300" y="667.69"/>
<use href="#s1" x="302.03" y="669.38"/>
<use href="#s1" x="303.75" y="671.08"/>
<use href="#s1" x="305.66" y="672.28"/>
<use href="#s1" x="306.56" y="676.25"/>
<use href="#s1" x="308.05" y="677.94"/>
<use href="#s1" x="310.27" y="679.14"/>
<use href="#s1" x="310.66" y="687.31"/>
<use href="#s1" x="318.36" y="688.2"/>
<use href="#s1" x="318.86" y="690.7"/>
<use href="#s1" x="320.27" y="693.78"/>
<use href="#s1" x="337.69" y="694.13"/>
<use href="#s1" x="338.9" y="694.48"/>
<use href="#s1" x="340" y="694.98"/>
<use href="#s1" x="336.75" y="694.42"/>
<use href="#s1" x="345.97" y="694.98"/>
<use href="#s1" x="346.6" y="697.86"/>
<use href="#s1" x="345.35" y="695.54"/>
<use href="#s1" x="377.38" y="699.2"/>
<use href="#s1" x="378.16" y="703.19"/>
<use href="#s1" x="439.48" y="705.27"/>
</g>
<path d="M275.43 713.4v-2M275.43 522v2M294.96 713.4v-2M294.96 522v2M314.49 713.4v-2M314.49 522v2M334.02 713.4v-2M334.02 522v2M353.55 713.4v-2M353.55 522v2M373.08 713.4v-2M373.08 522v2M392.61 713.4v-2M392.61 522v2M412.14 713.4v-2M412.14 522v2M431.67 713.4v-2M431.67 522v2M255.9 681.5h2M451.2 681.5h-2M255.9 649.6h2M451.2 649.6h-2M255.9 617.7h2M451.2 617.7h-2M255.9 585.8h2M451.2 585.8h-2M255.9 553.9h2M451.2 553.9h-2" stroke="#454545" stroke-width="0.8" fill="none"/>
<rect x="255.9" y="522" width="195.3" height="191.4" fill="none" stroke="#454545" stroke-width="0.8"/>
<text class="ss" transform="translate(255.9,723.7) scale(0.756,1.0)" font-size="8.0" text-anchor="middle" fill="#1c1c1c" stroke="#1c1c1c" stroke-width="0.14">0</text>
<text class="ss" transform="translate(275.43,723.7) scale(0.756,1.0)" font-size="8.0" text-anchor="middle" fill="#1c1c1c" stroke="#1c1c1c" stroke-width="0.14">5</text>
<text class="ss" transform="translate(294.96,723.7) scale(0.756,1.0)" font-size="8.0" text-anchor="middle" fill="#1c1c1c" stroke="#1c1c1c" stroke-width="0.14">10</text>
<text class="ss" transform="translate(314.49,723.7) scale(0.756,1.0)" font-size="8.0" text-anchor="middle" fill="#1c1c1c" stroke="#1c1c1c" stroke-width="0.14">15</text>
<text class="ss" transform="translate(334.02,723.7) scale(0.756,1.0)" font-size="8.0" text-anchor="middle" fill="#1c1c1c" stroke="#1c1c1c" stroke-width="0.14">20</text>
<text class="ss" transform="translate(353.55,723.7) scale(0.756,1.0)" font-size="8.0" text-anchor="middle" fill="#1c1c1c" stroke="#1c1c1c" stroke-width="0.14">25</text>
<text class="ss" transform="translate(373.08,723.7) scale(0.756,1.0)" font-size="8.0" text-anchor="middle" fill="#1c1c1c" stroke="#1c1c1c" stroke-width="0.14">30</text>
<text class="ss" transform="translate(392.61,723.7) scale(0.756,1.0)" font-size="8.0" text-anchor="middle" fill="#1c1c1c" stroke="#1c1c1c" stroke-width="0.14">35</text>
<text class="ss" transform="translate(412.14,723.7) scale(0.756,1.0)" font-size="8.0" text-anchor="middle" fill="#1c1c1c" stroke="#1c1c1c" stroke-width="0.14">40</text>
<text class="ss" transform="translate(431.67,723.7) scale(0.756,1.0)" font-size="8.0" text-anchor="middle" fill="#1c1c1c" stroke="#1c1c1c" stroke-width="0.14">45</text>
<text class="ss" transform="translate(451.2,723.7) scale(0.756,1.0)" font-size="8.0" text-anchor="middle" fill="#1c1c1c" stroke="#1c1c1c" stroke-width="0.14">50</text>
<text class="ss" transform="translate(253.3,716.7) scale(0.756,1.0)" font-size="8.0" text-anchor="end" fill="#1c1c1c" stroke="#1c1c1c" stroke-width="0.14">0</text>
<text class="ss" transform="translate(253.3,684.8) scale(0.756,1.0)" font-size="8.0" text-anchor="end" fill="#1c1c1c" stroke="#1c1c1c" stroke-width="0.14">0.002</text>
<text class="ss" transform="translate(253.3,652.9) scale(0.756,1.0)" font-size="8.0" text-anchor="end" fill="#1c1c1c" stroke="#1c1c1c" stroke-width="0.14">0.004</text>
<text class="ss" transform="translate(253.3,621) scale(0.756,1.0)" font-size="8.0" text-anchor="end" fill="#1c1c1c" stroke="#1c1c1c" stroke-width="0.14">0.006</text>
<text class="ss" transform="translate(253.3,589.1) scale(0.756,1.0)" font-size="8.0" text-anchor="end" fill="#1c1c1c" stroke="#1c1c1c" stroke-width="0.14">0.008</text>
<text class="ss" transform="translate(253.3,557.2) scale(0.756,1.0)" font-size="8.0" text-anchor="end" fill="#1c1c1c" stroke="#1c1c1c" stroke-width="0.14">0.01</text>
<text class="ss" transform="translate(253.3,525.3) scale(0.756,1.0)" font-size="8.0" text-anchor="end" fill="#1c1c1c" stroke="#1c1c1c" stroke-width="0.14">0.012</text>
<text class="ss" transform="translate(352.75,734.4) scale(0.756,1.0)" font-size="8.0" text-anchor="middle" fill="#1c1c1c" stroke="#1c1c1c" stroke-width="0.14">f1</text>
<text class="ss" transform="translate(234.2,618.1) rotate(-90) scale(1.0,0.756)" font-size="8.0" text-anchor="middle" fill="#1c1c1c" stroke="#1c1c1c" stroke-width="0.14">f2</text>
<text class="ss" transform="translate(353.55,519) scale(0.72,1.0)" font-size="9.2" text-anchor="middle" font-weight="700" fill="#1c1c1c" stroke="#1c1c1c" stroke-width="0.36">MSSA</text>
<rect x="394" y="527.9" width="52.4" height="20.4" fill="#fff" stroke="#585858" stroke-width="0.7"/>
<ellipse cx="404.85" cy="533.7" rx="1.4" ry="1.52" fill="#00ee00" stroke="#000" stroke-width="0.55"/>
<use href="#s1" x="404.85" y="542.9" stroke="#ff0000" stroke-width="0.5"/>
<text class="ss" transform="translate(415.7,536.1) scale(0.816,1.0)" font-size="6.4" text-anchor="start" fill="#1c1c1c" stroke="#1c1c1c" stroke-width="0.14">true PF</text>
<text class="ss" transform="translate(415.7,545.4) scale(0.816,1.0)" font-size="6.4" text-anchor="start" fill="#1c1c1c" stroke="#1c1c1c" stroke-width="0.14">obtained PF</text>
<text class="sf" transform="translate(352,753.8)" font-size="18.6" text-anchor="middle" fill="#111" stroke="#111" stroke-width="0.14">(h)</text>
</g>
</svg></body></html>
